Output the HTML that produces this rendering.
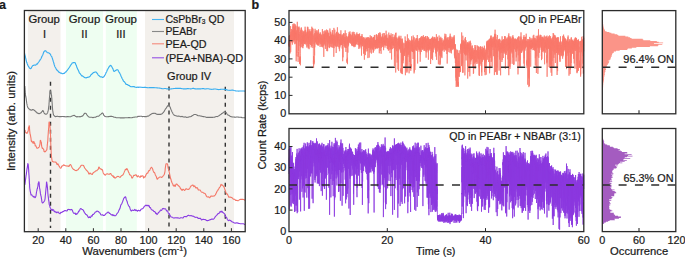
<!DOCTYPE html>
<html><head><meta charset="utf-8"><style>
html,body{margin:0;padding:0;background:#fff;width:685px;height:257px;overflow:hidden}
svg{display:block;font-family:"Liberation Sans", sans-serif;fill:#1a1a1a}
text{fill:#1a1a1a;stroke:#1a1a1a;stroke-width:0.22px}
</style></head><body>
<svg width="685" height="257" viewBox="0 0 685 257"><rect x="27.9" y="10.5" width="32.6" height="221" fill="#f3f0ec"/><rect x="66" y="10.5" width="37.1" height="221" fill="#eefef1"/><rect x="105.8" y="10.5" width="31" height="221" fill="#eefef1"/><rect x="145" y="10.5" width="89" height="221" fill="#f3f0ec"/><line x1="50.5" y1="81.8" x2="50.5" y2="228" stroke="#333" stroke-width="1.4" stroke-dasharray="4 4"/><line x1="169" y1="86.4" x2="169" y2="228" stroke="#333" stroke-width="1.4" stroke-dasharray="4 4"/><line x1="225.3" y1="86.8" x2="225.3" y2="228" stroke="#333" stroke-width="1.4" stroke-dasharray="4 4"/><path d="M24.6 53.9 24.6 53.8 24.6 53.9 24.7 54 24.7 54.1 24.7 53.9 24.8 54 24.8 54.2 24.9 54.7 25 55.1 25.1 55.6 25.2 56.1 25.4 56.7 25.5 57.4 25.7 58.1 25.9 58.9 26.1 59.8 26.3 60.8 26.5 61.6 26.7 62.3 26.9 62.8 27.1 63.4 27.3 64 27.6 64.7 27.8 65.3 28.1 65.8 28.3 66.2 28.6 66.6 28.9 67 29.1 67.4 29.4 67.8 29.7 68.1 29.9 68.4 30.2 68.5 30.5 68.6 30.7 68.6 31 68.5 31.3 68.1 31.5 67.5 31.8 67 32.1 66.5 32.3 66.2 32.6 65.8 32.8 65.6 33.1 65.4 33.3 65.3 33.5 65.3 33.7 65.3 33.9 65.3 34.1 65.2 34.3 65.1 34.5 65.1 34.7 65 34.9 65 35.1 65 35.3 65.1 35.5 65.2 35.7 65.2 35.9 64.9 36.2 64.5 36.4 64.1 36.7 64.1 36.9 64.1 37.2 64.1 37.5 63.8 37.7 63.3 38 62.9 38.3 62.5 38.5 62.2 38.8 61.9 39.1 61.5 39.3 61.1 39.6 60.7 39.9 60.3 40.1 59.8 40.4 59.4 40.6 59.1 40.9 58.8 41.2 58.3 41.4 57.8 41.7 57.1 41.9 56.5 42.1 56 42.4 55.6 42.6 55.2 42.8 54.7 43 54.2 43.2 53.6 43.4 53.1 43.6 52.5 43.8 52 44.1 51.7 44.3 51.4 44.5 51.2 44.7 51 45 50.8 45.2 50.7 45.4 50.8 45.7 51 45.9 51.1 46.2 51.3 46.4 51.6 46.6 51.8 46.9 52.1 47.1 52.4 47.3 52.6 47.5 52.7 47.7 52.7 47.9 52.7 48.1 52.7 48.3 52.7 48.5 52.7 48.7 52.8 48.8 53 49 53.1 49.2 53.2 49.4 53.3 49.6 53.5 49.8 53.6 50 53.8 50.2 54 50.4 54.3 50.6 54.7 50.8 55.1 50.9 55.5 51.1 55.8 51.3 56.1 51.6 56.4 51.8 56.8 52 57.2 52.2 57.9 52.5 58.7 52.7 59.5 53 60.3 53.2 61.2 53.5 62.1 53.8 63 54 64 54.3 64.9 54.6 65.7 54.8 66.4 55.1 67 55.4 67.4 55.6 67.8 55.9 68.2 56.1 68.8 56.4 69.4 56.7 69.9 56.9 70.1 57.2 70.1 57.4 70.3 57.7 70.6 57.9 71 58.2 71.3 58.5 71.7 58.7 72.1 59 72.3 59.2 72.4 59.5 72.4 59.8 72.5 60 72.7 60.3 72.9 60.5 73.1 60.8 73.1 61 73.1 61.3 73.1 61.6 73.2 61.8 73.5 62.1 73.6 62.3 73.7 62.6 73.7 62.8 73.7 63.1 73.6 63.4 73.5 63.6 73.4 63.9 73.4 64.1 73.4 64.4 73.3 64.7 73 64.9 72.6 65.2 72.3 65.4 72.1 65.7 72 66 71.9 66.2 71.6 66.5 71.2 66.7 70.9 67 70.6 67.2 70.3 67.5 70 67.8 69.6 68 69.2 68.3 68.8 68.5 68.4 68.8 68.1 69.1 67.8 69.3 67.4 69.6 67 69.8 66.6 70.1 66.1 70.4 65.6 70.6 65.2 70.8 64.9 71.1 64.7 71.3 64.4 71.6 64 71.8 63.5 72.1 63.1 72.3 63 72.5 63 72.8 62.9 73 62.8 73.2 62.6 73.4 62.5 73.6 62.5 73.8 62.6 73.9 62.6 74.1 62.6 74.2 62.6 74.4 62.5 74.5 62.5 74.7 62.5 74.8 62.5 75 62.7 75.1 62.9 75.3 63.2 75.5 63.6 75.7 64.1 75.8 64.6 76 64.9 76.2 65.2 76.4 65.6 76.6 66.2 76.8 67 77 67.6 77.2 68.1 77.4 68.5 77.6 68.9 77.8 69.3 78 69.7 78.2 70.1 78.4 70.5 78.6 70.9 78.8 71.3 79 71.9 79.2 72.5 79.4 72.9 79.6 73.2 79.8 73.3 80 73.4 80.2 73.7 80.4 74 80.6 74.3 80.7 74.5 80.9 74.7 81.1 75 81.3 75.3 81.5 75.6 81.7 75.8 81.9 75.8 82.1 75.7 82.3 75.7 82.5 75.9 82.8 76.2 83 76.4 83.3 76.6 83.5 76.8 83.8 76.9 84.1 77.2 84.3 77.4 84.6 77.5 84.9 77.6 85.1 77.7 85.4 77.7 85.7 77.8 85.9 77.9 86.2 77.9 86.4 77.8 86.7 77.6 86.9 77.5 87.2 77.4 87.5 77.5 87.7 77.4 88 77.3 88.2 77.2 88.5 77.1 88.8 77.1 89 77 89.3 76.9 89.6 76.8 89.8 76.5 90.1 76.2 90.4 75.8 90.6 75.3 90.9 74.9 91.2 74.6 91.4 74.4 91.7 74.2 92 74 92.2 73.7 92.5 73.5 92.8 73.3 93 73 93.3 72.8 93.6 72.6 93.8 72.5 94.1 72.4 94.3 72.3 94.6 72.2 94.8 72.2 95 72.1 95.2 72 95.4 72 95.6 71.9 95.8 72 96 72 96.2 72.2 96.4 72.5 96.5 72.8 96.7 72.9 96.9 73 97.1 73.2 97.3 73.4 97.5 73.7 97.7 74 97.8 74.3 98 74.7 98.2 75 98.4 75.2 98.6 75.4 98.8 75.5 99 75.7 99.2 75.8 99.4 76 99.6 76.2 99.9 76.4 100.1 76.6 100.4 76.7 100.7 76.9 100.9 77 101.2 77 101.5 76.9 101.8 76.8 102 77 102.3 77.3 102.5 77.5 102.7 77.5 102.9 77.3 103.2 77.2 103.4 77.1 103.6 77 103.8 76.8 103.9 76.6 104.1 76.4 104.3 76.2 104.5 75.9 104.7 75.5 104.9 75.1 105.1 74.8 105.3 74.5 105.5 74.1 105.7 73.7 105.8 73.2 106 72.7 106.2 72.4 106.4 72.2 106.6 71.8 106.8 71.3 107 70.7 107.2 70.2 107.4 69.7 107.7 69.3 107.9 68.9 108.1 68.5 108.4 68 108.6 67.6 108.9 67.2 109.1 66.8 109.4 66.4 109.6 66.1 109.8 66 110 65.8 110.2 65.6 110.4 65.5 110.5 65.4 110.7 65.4 110.8 65.5 111 65.6 111.1 65.8 111.3 66 111.4 66.2 111.6 66.4 111.7 66.6 111.9 66.8 112.1 67.2 112.2 67.6 112.4 68 112.6 68.3 112.8 68.6 113 69 113.2 69.6 113.4 70.3 113.6 70.8 113.8 71.2 114 71.3 114.2 71.4 114.4 71.3 114.7 71.2 114.9 71 115.2 70.8 115.5 70.6 115.8 70.4 116 70.2 116.3 70 116.6 69.9 116.8 69.8 117.1 69.7 117.3 69.7 117.5 69.7 117.7 69.8 117.9 69.9 118.1 70.3 118.3 70.7 118.5 71.2 118.7 71.5 118.9 71.9 119 72.2 119.2 72.4 119.4 72.6 119.6 72.9 119.8 73.2 120 73.7 120.2 74.1 120.4 74.5 120.6 74.8 120.7 75.2 120.9 75.7 121.1 76.2 121.3 76.7 121.6 77.2 121.8 77.7 122 78.2 122.2 78.6 122.5 79 122.7 79.4 123 80 123.2 80.6 123.5 81.1 123.8 81.4 124 81.6 124.3 81.8 124.6 82 124.8 82.3 125.1 82.7 125.4 83.1 125.6 83.7 125.9 84.1 126.1 84.3 126.4 84.3 126.6 84.4 126.9 84.5 127.2 84.5 127.4 84.6 127.7 84.8 127.9 85.1 128.2 85.3 128.5 85.4 128.7 85.3 129 85.3 129.2 85.5 129.5 85.8 129.8 86 130 86.2 130.3 86.4 130.5 86.5 130.8 86.6 131 86.6 131.3 86.7 131.6 86.7 131.8 86.7 132.1 86.7 132.3 86.7 132.6 86.6 132.9 86.5 133.1 86.6 133.4 86.6 133.6 86.7 133.9 86.7 134.1 86.6 134.4 86.7 134.7 86.8 134.9 87.1 135.2 87.2 135.5 87.2 135.7 87.2 136 87.2 136.3 87.3 136.5 87.4 136.8 87.5 137 87.4 137.3 87.3 137.5 87.2 137.7 87.1 137.9 87.1 138.1 87 138.2 87.1 138.4 87.2 138.5 87.3 138.7 87.3 138.8 87.3 139 87.3 139.3 87.2 139.5 87.2 139.8 87.1 140.1 87.1 140.4 87.2 140.8 87.2 141.1 87.2 141.5 87.3 141.9 87.4 142.3 87.4 142.8 87.5 143.3 87.5 143.8 87.4 144.4 87.3 145 87.3 145.7 87.4 146.3 87.5 147.1 87.6 147.8 87.7 148.6 87.7 149.4 87.6 150.3 87.6 151.2 87.6 152.1 87.5 153 87.6 154 87.6 155 87.7 156.1 87.8 157.1 87.9 158.1 88 158.7 88 159.2 88 159.7 88.1 160.2 88.2 160.8 88.3 161.3 88.5 161.9 88.6 162.5 88.7 163.1 88.7 163.7 88.7 164.3 88.5 164.9 88.5 165.6 88.5 166.3 88.7 167 88.9 167.6 88.9 168.3 88.9 169 88.9 169.8 89 170.5 89 171.3 88.9 172.1 88.8 172.9 88.7 173.7 88.5 174.3 88.5 174.8 88.5 175.4 88.4 176 88.4 176.5 88.4 177.1 88.4 177.7 88.4 178.3 88.4 178.8 88.4 179.4 88.4 180 88.4 180.6 88.4 181.2 88.5 181.8 88.6 182.4 88.7 183 88.8 183.6 88.8 184.2 88.9 184.8 88.9 185.4 88.9 186 88.8 186.6 88.8 187.2 88.6 187.7 88.6 188.3 88.6 188.9 88.7 189.5 88.7 190.1 88.8 190.7 88.8 191.3 88.8 191.8 88.7 192.4 88.5 193 88.3 193.6 88.4 194.2 88.6 194.8 88.8 195.3 88.8 195.9 88.9 196.5 89 197.1 88.9 197.7 88.9 198.3 88.9 198.9 88.9 199.5 88.9 200.1 88.9 200.7 88.8 201.2 88.8 201.8 88.7 202.4 88.6 203 88.6 203.5 88.5 204.1 88.7 204.6 88.9 205.3 89 206 88.9 206.8 88.8 207.6 88.7 208.4 88.8 209.2 89 210 89.1 210.7 89.2 211.4 89.3 212.1 89.3 212.8 89.2 213.6 89.1 214.3 89 214.9 89 215.6 89 216.2 89.1 216.9 89.2 217.5 89.4 218.2 89.5 218.8 89.6 219.4 89.5 219.9 89.5 220.5 89.4 221.1 89.3 221.7 89.2 222.3 89.2 222.8 89.2 223.4 89.2 223.9 89.3 224.4 89.3 225 89.4 225.9 89.6 226.9 89.9 227.9 90.1 228.7 90.2 229.5 90.3 230.3 90.3 231.1 90.2 231.8 90.1 232.6 90 233.4 90.2 234.2 90.5 235 90.7 235.9 90.9 236.8 91 237.7 91 238.7 91.1 239.7 91 240.6 91 241.5 91 242.4 91 243.2 91 243.9 91 244.6 91.1 245 91.2" fill="none" stroke="#3aaef0" stroke-width="1.15" stroke-linejoin="round"/><path d="M24.8 86 24.8 86.4 24.9 86.9 24.9 87.6 25 88.3 25 89.2 25.1 90.1 25.2 91.1 25.2 92.2 25.3 93.2 25.4 93.9 25.4 94.6 25.5 95.1 25.6 95.5 25.6 95.8 25.6 96.1 25.7 96.3 25.7 96.6 25.8 96.8 25.8 96.9 25.9 96.9 25.9 97 26 97.3 26 97.7 26.1 98.2 26.2 98.7 26.3 99.3 26.3 99.9 26.4 100.5 26.5 101.2 26.6 101.9 26.7 102.6 26.8 103.4 27 104.1 27.1 104.8 27.2 105.4 27.3 105.9 27.4 106.3 27.5 106.7 27.7 107 27.8 107.3 27.9 107.7 28.1 107.9 28.2 108.1 28.4 108.2 28.5 108.3 28.7 108.5 28.8 108.7 29 108.9 29.2 109 29.4 109 29.5 109.2 29.7 109.4 29.9 109.7 30.1 109.9 30.3 110 30.5 109.9 30.7 109.9 30.9 109.9 31.1 110 31.3 110.1 31.5 110.1 31.6 110.1 31.8 110.1 31.9 110 32.1 110 32.2 110 32.3 109.8 32.5 109.6 32.6 109.5 32.8 109.5 32.9 109.6 33.1 109.7 33.3 109.7 33.5 109.7 33.7 109.8 33.8 109.9 34 110.1 34.2 110.3 34.5 110.5 34.7 110.7 34.8 110.8 35 110.9 35.2 111 35.4 111.1 35.6 111.3 35.7 111.5 35.9 111.7 36 111.9 36.2 112 36.3 112.1 36.4 112.2 36.6 112.3 36.7 112.4 36.9 112.7 37 112.9 37.2 113.1 37.4 113.2 37.6 113.1 37.8 113.1 37.9 113.2 38.1 113.3 38.4 113.5 38.6 113.6 38.8 113.7 38.9 113.7 39.1 113.7 39.3 113.7 39.5 113.6 39.7 113.5 39.8 113.4 40 113.4 40.1 113.3 40.3 113.2 40.4 113.2 40.6 113 40.7 112.9 40.9 112.8 41 112.7 41.2 112.7 41.3 112.5 41.4 112.3 41.6 112 41.7 111.7 41.9 111.6 42 111.5 42.2 111.4 42.3 111.2 42.5 110.9 42.6 110.7 42.7 110.6 42.9 110.6 43 110.6 43.1 110.7 43.2 110.9 43.3 111.2 43.4 111.3 43.5 111.5 43.6 111.7 43.7 111.9 43.8 112.2 43.9 112.4 44 112.7 44.1 112.9 44.2 113.1 44.3 113.3 44.5 113.5 44.6 113.7 44.7 113.7 44.9 113.8 45 113.8 45.2 113.9 45.3 114.1 45.5 114.2 45.6 114.2 45.8 114.2 45.9 114.2 46.1 114.2 46.2 114.1 46.4 114.1 46.5 114 46.7 114 46.8 113.9 47 113.7 47.1 113.5 47.3 113.2 47.4 113 47.6 112.7 47.7 112.4 47.8 112 47.9 111.6 48 111.2 48.1 110.8 48.2 110.4 48.3 109.9 48.4 109.4 48.5 108.7 48.6 108.1 48.6 107.5 48.7 106.8 48.8 106.2 48.9 105.5 49 104.7 49 103.9 49.1 102.9 49.2 101.8 49.2 100.8 49.3 99.9 49.4 99.1 49.4 98.3 49.5 97.5 49.5 96.9 49.6 96.2 49.7 95.6 49.7 95 49.8 94.4 49.8 93.7 49.9 93.1 49.9 92.5 49.9 92.1 50 91.7 50 91.4 50.1 91.1 50.1 91 50.2 90.9 50.3 90.7 50.4 90.7 50.5 90.8 50.5 91 50.6 91.2 50.7 91.5 50.7 91.7 50.8 92 50.9 92.3 50.9 92.7 51 93.1 51.1 93.4 51.1 93.6 51.2 93.8 51.2 94 51.3 94.3 51.3 94.5 51.4 94.7 51.4 94.8 51.5 95.2 51.6 95.7 51.6 96.4 51.7 97.2 51.8 98.1 51.9 99.1 51.9 100.2 52 101.4 52.1 102.6 52.2 103.9 52.3 105.3 52.4 106.8 52.5 108.2 52.6 109.4 52.7 110.5 52.8 111.3 52.9 112 53 112.4 53.1 112.9 53.2 113.5 53.3 114 53.4 114.5 53.5 114.8 53.6 114.9 53.7 115.1 53.9 115.3 54.1 115.5 54.3 115.8 54.5 116.1 54.8 116.3 55.1 116.5 55.3 116.6 55.6 116.6 56 116.6 56.3 116.5 56.6 116.4 57 116.3 57.4 116.3 57.8 116.4 58.2 116.5 58.6 116.5 59.1 116.6 59.6 116.6 60.1 116.6 60.6 116.6 61.2 116.6 61.7 116.5 62.2 116.5 62.8 116.5 63.3 116.5 63.9 116.6 64.4 116.6 64.9 116.7 65.5 116.8 66 116.9 66.6 116.8 67.1 116.6 67.7 116.6 68.2 116.6 68.8 116.7 69.3 116.8 69.7 116.8 70.2 116.8 70.6 116.7 71 116.5 71.3 116.3 71.6 116.2 71.9 116.1 72.1 116 72.3 115.9 72.6 115.8 72.8 115.7 73 115.6 73.2 115.6 73.5 115.5 73.7 115.4 74 115.3 74.2 115.3 74.5 115.4 74.8 115.6 75 115.9 75.3 116.2 75.6 116.4 75.8 116.4 76.1 116.5 76.4 116.7 76.6 116.9 76.9 116.9 77.2 116.9 77.4 116.7 77.7 116.6 78 116.7 78.2 116.7 78.5 116.8 78.8 116.7 79 116.7 79.3 116.6 79.5 116.7 79.8 116.9 80 116.9 80.2 116.9 80.4 116.7 80.6 116.6 80.8 116.5 81 116.5 81.1 116.4 81.3 116.4 81.5 116.4 81.7 116.3 81.9 116.3 82.1 116.3 82.3 116.2 82.5 116 82.8 115.8 83.1 115.4 83.4 115 83.6 114.6 83.9 114.2 84.2 113.8 84.5 113.5 84.8 113.2 85.1 113.2 85.3 113.2 85.6 113.3 85.8 113.4 86 113.5 86.3 113.6 86.4 113.9 86.6 114.3 86.8 114.7 87 115 87.2 115.3 87.4 115.6 87.7 115.8 87.9 116.1 88.2 116.4 88.5 116.7 88.8 116.9 89.2 117.1 89.5 117.2 89.9 117.3 90.3 117.3 90.7 117.2 91.1 117.2 91.5 117.2 91.9 117.3 92.4 117.5 92.8 117.6 93.3 117.6 93.7 117.4 94.2 117.3 94.7 117.2 95.3 117.2 95.8 117.1 96.3 116.8 96.8 116.5 97.3 116.3 97.8 116.2 98.3 116.3 98.7 116.2 99.1 115.8 99.5 115.4 99.8 115 100.2 114.8 100.5 114.6 100.8 114.4 101.1 114.1 101.4 113.7 101.7 113.4 102 113.2 102.2 113 102.5 113 102.7 113.1 102.9 113.3 103.1 113.6 103.3 114 103.5 114.5 103.6 114.9 103.8 115.2 104 115.5 104.2 115.7 104.5 116 104.8 116.2 105.1 116.4 105.5 116.6 106 116.8 106.5 116.8 107.1 116.8 107.6 116.7 108.2 116.6 108.8 116.6 109.4 116.5 110 116.4 110.5 116.4 111.1 116.4 111.5 116.4 111.9 116.4 112.2 116.5 112.5 116.5 112.8 116.6 113 116.7 113.2 116.8 113.4 116.9 113.7 117 113.9 117.1 114.3 117.2 114.6 117.2 115 117.3 115.5 117.4 116 117.6 116.5 117.7 117.1 117.7 117.7 117.7 118.3 117.7 118.9 117.7 119.5 117.8 120.2 117.9 120.8 117.9 121.4 117.9 122 117.8 122.6 117.9 123.2 117.9 123.8 117.9 124.3 117.9 124.9 117.8 125.5 117.7 126.1 117.8 126.7 117.8 127.2 117.8 127.8 117.7 128.4 117.6 129 117.6 129.6 117.6 130.2 117.7 130.8 117.8 131.4 117.7 132.1 117.6 132.7 117.5 133.3 117.3 133.9 117.2 134.5 117.1 135 117 135.5 117 136 117 136.4 117 136.8 117 137.2 117 137.5 116.8 137.8 116.5 138.1 116.3 138.4 116.3 138.7 116.4 139 116.5 139.3 116.4 139.7 116.3 140 116.2 140.4 116.2 140.8 116.2 141.2 116.2 141.6 116.3 142 116.5 142.4 116.6 142.8 116.6 143.2 116.5 143.6 116.5 144 116.5 144.3 116.6 144.7 116.6 145 116.6 145.4 116.6 145.7 116.6 146 116.7 146.3 116.7 146.6 116.7 146.8 116.5 147.1 116.3 147.4 116.2 147.7 116.1 147.9 116.2 148.2 116.2 148.5 116.1 148.7 115.9 149 115.7 149.2 115.6 149.5 115.4 149.7 115.2 149.9 115 150.2 114.8 150.4 114.7 150.6 114.5 150.9 114.4 151.1 114.2 151.3 114.1 151.6 113.9 151.8 113.7 152 113.6 152.2 113.6 152.5 113.5 152.7 113.4 152.9 113.3 153.1 113.2 153.4 113.3 153.6 113.4 153.8 113.4 154 113.4 154.2 113.3 154.4 113.2 154.6 113.2 154.8 113.3 155 113.3 155.2 113.4 155.4 113.4 155.6 113.5 155.9 113.7 156.1 113.9 156.3 114.1 156.5 114.2 156.8 114.2 157 114.3 157.3 114.3 157.5 114.4 157.8 114.4 158 114.4 158.3 114.4 158.5 114.3 158.8 114.3 159.1 114.4 159.3 114.4 159.5 114.4 159.8 114.4 160 114.4 160.3 114.4 160.5 114.4 160.8 114.4 161 114.3 161.2 114.1 161.5 114 161.7 113.9 162 113.8 162.2 113.7 162.4 113.4 162.7 113.1 162.9 112.8 163.2 112.5 163.4 112.3 163.7 112 163.9 111.7 164.2 111.3 164.4 110.9 164.6 110.5 164.9 110 165.1 109.6 165.3 109.2 165.5 108.9 165.7 108.6 166 108.4 166.2 108.2 166.4 108 166.5 107.7 166.7 107.3 166.9 106.9 167.1 106.7 167.2 106.5 167.4 106.3 167.5 106.1 167.7 105.9 167.8 105.7 167.9 105.6 168 105.5 168.1 105.5 168.2 105.4 168.3 105.3 168.4 105.3 168.5 105.3 168.6 105.3 168.7 105.3 168.8 105.2 168.9 105.3 169 105.4 169.1 105.5 169.2 105.7 169.3 105.7 169.4 105.8 169.5 105.9 169.6 106.1 169.7 106.3 169.8 106.6 169.9 106.8 170 107 170.2 107.3 170.3 107.7 170.4 108.1 170.6 108.5 170.7 108.9 170.9 109.2 171 109.5 171.2 109.8 171.3 110.2 171.5 110.6 171.7 111 171.8 111.4 172 111.8 172.2 112.1 172.4 112.5 172.6 112.8 172.8 113.3 173 113.7 173.2 114 173.4 114.3 173.7 114.6 173.9 114.8 174.1 115 174.4 115.3 174.7 115.4 174.9 115.5 175.2 115.6 175.5 115.7 175.8 115.8 176.1 115.8 176.4 115.9 176.7 116 177.1 116.1 177.4 116.2 177.7 116.2 178.1 116.2 178.5 116.1 178.8 116.1 179.2 116.2 179.6 116.3 180 116.4 180.4 116.6 180.8 116.7 181.2 116.6 181.6 116.5 182 116.4 182.4 116.5 182.8 116.7 183.2 116.9 183.6 117 184 117 184.3 117.1 184.7 117 185.1 116.9 185.5 116.9 185.9 117.1 186.3 117.2 186.7 117.4 187.1 117.4 187.5 117.3 187.9 117.3 188.3 117.2 188.7 117 189.1 116.9 189.5 116.8 189.9 116.8 190.3 116.7 190.7 116.6 191 116.5 191.4 116.4 191.7 116.1 192.1 115.8 192.4 115.5 192.7 115.4 193 115.3 193.3 115.1 193.5 114.9 193.8 114.7 194.1 114.6 194.4 114.5 194.6 114.5 194.9 114.5 195.2 114.5 195.4 114.5 195.7 114.5 195.9 114.6 196.2 114.7 196.4 114.9 196.7 114.9 196.9 115 197.2 115.1 197.4 115.3 197.6 115.5 197.8 115.6 198 115.6 198.1 115.7 198.2 115.7 198.3 115.7 198.4 115.8 198.5 115.8 198.6 115.8 198.7 115.7 198.9 115.7 199.1 115.7 199.4 115.7 199.7 115.8 200.1 115.9 200.6 116 201.1 116.1 201.7 116.3 202.3 116.4 202.9 116.6 203.5 116.6 204.2 116.7 204.8 116.8 205.5 117 206.1 117.2 206.7 117.4 207.3 117.4 207.9 117.4 208.5 117.3 209.1 117.4 209.7 117.4 210.3 117.4 211 117.4 211.5 117.4 212.1 117.4 212.7 117.4 213.2 117.3 213.7 117.3 214.2 117.2 214.6 117.1 215 117 215.5 116.8 215.8 116.6 216.2 116.5 216.6 116.5 216.9 116.5 217.3 116.6 217.6 116.5 218 116.3 218.3 116.1 218.6 115.9 218.9 115.7 219.3 115.5 219.6 115.3 219.8 115.1 220.1 114.9 220.4 114.7 220.7 114.6 221 114.3 221.2 114.1 221.5 113.7 221.8 113.5 222.1 113.4 222.4 113.3 222.7 113.2 222.9 113 223.2 112.7 223.5 112.4 223.8 112.1 224.1 111.9 224.3 111.8 224.6 111.7 224.9 111.7 225.1 111.8 225.3 111.9 225.6 112.2 225.8 112.4 226 112.5 226.2 112.7 226.4 112.9 226.6 113.2 226.8 113.6 227 114 227.2 114.3 227.5 114.6 227.7 114.8 227.9 115 228.2 115.1 228.5 115.2 228.7 115.3 229 115.5 229.2 115.7 229.5 115.8 229.8 116 230.1 116.2 230.5 116.4 230.8 116.5 231.2 116.7 231.6 116.8 232 116.9 232.4 117 232.9 117 233.3 117 233.8 117 234.3 117.1 234.8 117.1 235.3 117.2 235.9 117.1 236.4 117 237 117 237.6 117 238.3 117.1 239 117.2 239.8 117.3 240.6 117.3 241.4 117.4 242.1 117.6 242.9 117.7 243.5 117.8 244.1 117.8 244.6 117.8 245 117.8" fill="none" stroke="#777" stroke-width="1.1" stroke-linejoin="round"/><path d="M24.6 131.6 24.6 131.8 24.6 131.9 24.7 131.9 24.7 131.5 24.7 130.9 24.8 130.5 24.8 130.3 24.8 130.2 24.9 130.3 25 130.4 25.1 130.6 25.2 130.9 25.3 131.4 25.4 131.7 25.6 132 25.7 132.3 25.9 132.5 26 132.8 26.2 133.1 26.3 133.2 26.4 133.2 26.6 133 26.7 132.9 26.8 133 26.9 133.2 27 133.3 27.1 133.3 27.2 133.2 27.3 133 27.4 132.9 27.5 132.8 27.6 132.5 27.7 132.1 27.8 131.5 27.9 131.1 28 131.1 28.1 131.2 28.2 131 28.3 130 28.4 128.6 28.5 127.6 28.5 127.2 28.6 127.2 28.7 127.1 28.8 126.9 28.9 126.6 29 126.4 29.1 126 29.2 125.7 29.3 125.7 29.4 126.4 29.5 127.4 29.5 128.5 29.6 129.6 29.7 130.7 29.8 131.7 29.9 132.6 30 133.5 30.1 134.1 30.2 134.6 30.3 134.8 30.4 135.1 30.5 135.6 30.6 136.2 30.7 136.8 30.8 137.3 30.9 137.8 31 138.5 31.1 139.4 31.2 140.5 31.3 141.2 31.4 141.3 31.5 141 31.7 140.9 31.8 141.2 32 141.8 32.1 142.2 32.2 142.1 32.4 141.9 32.5 141.8 32.7 142 32.8 142.4 32.9 142.7 33 143.1 33.1 143.4 33.2 143.4 33.3 142.9 33.4 142.1 33.5 141.6 33.6 141.7 33.7 142.2 33.8 142.5 33.9 142.3 34 142 34.1 141.9 34.2 142.2 34.3 142.7 34.4 143.1 34.5 143.3 34.5 143.5 34.6 143.6 34.7 143.6 34.8 143.5 34.9 143.7 35 144.3 35.1 145.1 35.2 145.7 35.3 145.9 35.4 145.9 35.5 145.8 35.7 145.8 35.8 145.9 35.9 145.9 36.1 146.1 36.2 146.4 36.3 146.7 36.5 147.2 36.6 147.7 36.8 148.1 37 148.2 37.2 148.3 37.3 148.3 37.5 148.2 37.7 148.1 38 148 38.2 147.9 38.4 147.6 38.6 147.5 38.7 147.4 38.9 147.3 39.1 147.1 39.3 146.7 39.4 146 39.6 145.5 39.7 145.1 39.8 144.7 40 144.1 40.1 142.9 40.2 141.5 40.3 140.5 40.5 140.3 40.6 140.5 40.7 140.9 40.8 141.1 40.9 141.4 41 141.7 41.1 141.8 41.2 141.8 41.3 142.2 41.4 143.2 41.5 144.6 41.6 145.7 41.7 146.3 41.8 146.6 41.9 147 42 147.5 42.2 148 42.3 148.4 42.5 148.4 42.7 148.2 42.9 148.2 43 148.4 43.2 148.8 43.4 149.1 43.5 149.3 43.7 149.5 43.8 149.8 43.9 150.4 44 151.1 44.1 151.6 44.2 151.7 44.3 151.6 44.4 151.5 44.5 151.5 44.6 151.5 44.7 151.6 44.8 151.6 44.9 151.7 45 151.8 45.1 151.7 45.3 151.6 45.4 151.5 45.6 151.3 45.8 151.1 45.9 150.9 46.1 150.6 46.3 150.4 46.4 150.2 46.6 150.1 46.7 150 46.9 149.5 47 148.2 47.2 146.4 47.3 144.7 47.5 143.4 47.6 142.2 47.8 140.7 47.9 138.6 48 136.2 48.2 134.1 48.3 132.4 48.4 131 48.5 129.8 48.6 128.7 48.7 127.9 48.8 127 48.8 125.8 48.9 124.6 48.9 123.6 49 122.9 49 122.4 49.1 122.1 49.2 122 49.2 122.2 49.3 122.4 49.4 122.5 49.5 122.6 49.5 122.8 49.6 123.1 49.7 123.6 49.8 124.2 49.9 124.8 49.9 125.5 50 126.5 50.1 127.8 50.2 129.3 50.3 130.9 50.4 132.9 50.5 135 50.6 137.2 50.7 139.6 50.7 142 50.8 144.6 50.9 147.4 51.1 150.4 51.2 152.9 51.3 154.7 51.4 156.1 51.6 157.4 51.8 158.9 52 160.2 52.2 161.2 52.4 161.6 52.6 161.5 52.8 161.4 53 161.6 53.3 161.8 53.5 161.9 53.8 162 54 162 54.3 162 54.6 162 54.9 162 55.2 162.1 55.5 162.1 55.8 162.1 56.1 162.3 56.4 163 56.8 164 57.1 164.6 57.4 164.5 57.6 164 57.9 163.8 58.1 164.2 58.3 164.8 58.5 165.3 58.7 165.6 58.9 165.8 59.1 166 59.2 166.3 59.4 166.5 59.6 166.8 59.8 167.2 60 167.6 60.2 167.9 60.4 168.1 60.7 168.2 61 168.1 61.3 167.5 61.6 166.6 61.9 166 62.2 165.9 62.5 165.9 62.8 165.9 63.1 165.6 63.4 165.1 63.7 164.8 64 164.9 64.3 165.2 64.6 165.5 64.9 165.6 65.2 165.7 65.5 165.8 65.7 165.8 66 165.9 66.3 165.9 66.6 166 66.9 166.1 67.2 166.2 67.5 166.1 67.8 166 68 165.9 68.3 166.1 68.6 166.4 68.9 166.5 69.2 166.1 69.4 165.6 69.7 165.1 70 164.8 70.4 164.6 70.7 164.7 71.1 165.3 71.4 166.2 71.8 167 72.2 167.8 72.6 168.4 73.1 169 73.5 169.4 73.9 169.6 74.3 169.8 74.7 170 75 170.2 75.4 170.4 75.7 170.5 76.1 170.6 76.4 170.6 76.7 170.5 76.9 170.2 77.2 170 77.5 169.9 77.8 169.9 78.1 169.7 78.3 169.4 78.6 168.9 78.9 168.5 79.2 168.2 79.5 167.9 79.8 167.6 80.1 167.1 80.4 166.5 80.7 166.1 81 165.7 81.2 165.5 81.5 165.3 81.8 165.2 82.1 165.2 82.3 165.2 82.5 165.2 82.7 165.2 82.9 165.2 83.1 165.3 83.3 165.3 83.5 165.5 83.7 165.8 83.9 166.3 84 166.7 84.3 167.1 84.5 167.6 84.7 168 85 168.4 85.2 168.6 85.5 169 85.8 169.4 86.1 169.8 86.4 170.2 86.7 170.5 87 170.7 87.3 171 87.6 171.3 87.9 171.8 88.2 172.3 88.5 173 88.8 173.7 89.1 174.1 89.4 173.9 89.7 173.3 90 173 90.3 173.2 90.6 173.5 90.9 173.9 91.2 174 91.5 174.1 91.7 174.1 91.9 174.3 92.1 174.5 92.3 174.5 92.5 174.1 92.7 173.5 92.9 173.1 93 172.9 93.2 172.9 93.4 172.8 93.6 172.6 93.8 172.4 94 172.2 94.3 172.1 94.5 171.9 94.8 171.8 95.1 171.5 95.4 171.1 95.8 170.9 96.1 170.8 96.4 170.8 96.7 170.8 97 170.5 97.2 170.1 97.5 169.8 97.7 169.7 98 169.6 98.2 169.3 98.4 168.7 98.5 167.9 98.7 167.4 98.9 167.1 99.1 167.1 99.2 167.2 99.4 167.5 99.6 168 99.8 168.4 100 168.7 100.2 168.9 100.4 169 100.6 169 100.8 168.9 101 168.9 101.2 169.1 101.4 169.5 101.6 169.8 101.8 169.7 102 169.5 102.2 169.5 102.4 169.9 102.6 170.4 102.8 171.1 102.9 171.7 103.1 172.4 103.3 173 103.5 173.4 103.6 173.6 103.8 173.8 104 174 104.3 174.3 104.5 174.5 104.8 174.8 105 175.1 105.3 175.2 105.6 174.9 105.9 174.5 106.2 174.1 106.6 174 106.9 173.9 107.2 173.9 107.5 173.9 107.7 173.9 108 174 108.2 174.1 108.5 174.2 108.7 174.3 108.9 174.3 109.1 174.2 109.3 174.1 109.5 174.1 109.6 174.1 109.8 174.1 110 173.9 110.2 173.7 110.4 173.6 110.6 173.6 110.8 173.7 111 173.9 111.2 174.3 111.4 174.7 111.6 175 111.7 175.2 111.9 175.3 112.1 175.4 112.3 175.7 112.5 176.1 112.7 176.3 112.9 176.2 113.1 175.9 113.2 175.8 113.4 176.3 113.6 177.1 113.8 177.5 114 177.4 114.1 177 114.3 176.8 114.5 177.2 114.8 177.8 115 178.2 115.3 178.1 115.5 177.9 115.8 177.7 116.1 177.4 116.4 177.2 116.7 176.9 117 176.7 117.3 176.5 117.6 176.4 117.9 176.4 118.2 176.4 118.5 176.5 118.8 176.6 119.1 176.9 119.4 177.1 119.7 177.3 120 177.3 120.2 177.3 120.5 177 120.8 176.5 121.1 176.1 121.4 175.8 121.7 175.6 122 175.4 122.3 175.3 122.6 175.2 122.9 174.9 123.2 174.4 123.5 173.8 123.8 173.1 124.1 172.4 124.4 171.6 124.7 170.9 125 170.3 125.2 169.8 125.5 169.4 125.7 169.4 126 169.6 126.2 169.6 126.4 169.3 126.6 168.8 126.8 168.6 127 168.7 127.1 169.1 127.3 169.5 127.5 169.7 127.7 170 127.9 170.3 128.1 170.9 128.3 171.6 128.5 172.1 128.7 172.4 128.9 172.6 129.1 172.8 129.2 173.4 129.4 174.1 129.6 174.6 129.8 174.8 130 174.9 130.2 175 130.4 175.1 130.6 175.2 130.8 175.4 131 175.6 131.2 175.8 131.3 176.2 131.5 176.8 131.7 177.5 131.9 178 132.1 178.1 132.3 178 132.5 177.8 132.7 177.5 132.9 177.1 133.1 176.7 133.3 176.3 133.5 175.8 133.7 175.4 133.9 175.4 134.1 175.4 134.3 175.5 134.5 175.4 134.7 175.4 134.9 175.3 135.1 175.2 135.3 175 135.5 174.9 135.7 174.8 135.9 174.7 136.1 174.8 136.3 175.1 136.5 175.6 136.7 176 136.9 176.3 137.1 176.6 137.3 176.8 137.5 176.6 137.7 176.2 137.9 175.9 138.1 175.8 138.3 175.8 138.5 175.9 138.7 176.2 138.9 176.5 139.1 176.8 139.3 176.9 139.5 177 139.7 177.1 139.9 177.2 140.1 177.3 140.3 177.3 140.5 176.8 140.7 176.2 140.9 175.8 141 175.9 141.2 176.2 141.4 176.4 141.6 176.3 141.8 176.2 142 176 142.2 176 142.4 175.9 142.5 175.9 142.7 175.9 142.9 175.9 143.1 176.1 143.3 176.7 143.4 177.5 143.6 178 143.8 177.8 144.1 177.3 144.3 176.9 144.6 176.9 144.8 177.1 145.1 177 145.4 176.4 145.7 175.5 146 174.8 146.3 174.2 146.6 173.7 146.9 173.3 147.2 173.2 147.5 173.2 147.8 173 148.1 172.3 148.4 171.4 148.7 170.8 149 170.6 149.3 170.7 149.6 170.5 149.9 169.9 150.2 169.1 150.5 168.5 150.8 168 151 167.6 151.3 167.3 151.5 167.3 151.7 167.4 152 167.6 152.1 167.9 152.3 168.3 152.5 168.8 152.7 169.3 152.9 169.8 153 170.4 153.3 171 153.5 171.7 153.7 172.2 154 172.3 154.2 172.3 154.5 172.5 154.8 173.2 155.1 174.1 155.4 175 155.7 175.6 156 176 156.3 176.6 156.6 177.6 156.9 178.6 157.2 179.3 157.5 179.1 157.8 178.6 158.1 178.1 158.4 177.9 158.7 177.8 158.9 177.6 159.2 177.4 159.5 177.2 159.8 177.1 160.1 177 160.4 177 160.7 177 161 177.1 161.3 177.3 161.6 177.4 161.9 177.3 162.2 177 162.5 176.7 162.8 176.4 163.1 176 163.4 175.6 163.7 175.3 163.9 175 164.2 174.6 164.4 173.9 164.7 173 164.9 171.9 165.1 170.5 165.2 168.9 165.4 167.4 165.6 166.1 165.8 164.9 166 164 166.1 163.7 166.3 163.7 166.5 163.8 166.7 163.8 166.9 163.8 167.1 163.9 167.2 163.9 167.4 163.9 167.6 164.3 167.8 165.3 167.9 166.7 168.1 167.8 168.3 168.6 168.5 169.1 168.7 169.8 168.9 170.6 169.1 171.5 169.3 172.4 169.5 173.4 169.7 174.4 169.9 175.4 170.1 176.3 170.3 177.2 170.5 178.1 170.7 178.8 171 179.5 171.2 180.2 171.4 181 171.7 181.8 171.9 182.5 172.2 183 172.4 183.5 172.7 184 173 184.7 173.2 185.6 173.5 186 173.8 185.9 174 185.4 174.3 185.1 174.6 185.5 174.8 186.2 175.1 186.5 175.4 186 175.6 185.2 175.9 184.5 176.2 184.2 176.4 184 176.7 184 177 184.2 177.2 184.5 177.5 184.8 177.8 185.1 178 185.3 178.3 185.6 178.5 185.8 178.8 186 179.1 186.3 179.3 186.5 179.6 186.7 179.8 187 180.1 187.6 180.3 188.3 180.6 188.9 180.8 189 181.1 189.1 181.3 189.2 181.6 189.6 181.8 190.2 182.1 190.5 182.3 190.2 182.6 189.6 182.8 189.2 183.1 189.2 183.4 189.3 183.7 189.6 184 189.9 184.4 190.3 184.7 190.5 185.1 190 185.5 189.3 185.9 188.8 186.3 188.7 186.7 189 187.1 189.2 187.5 189.3 187.9 189.4 188.3 189.5 188.7 189.3 189.1 189.1 189.5 188.6 189.9 187.9 190.3 187.1 190.7 186.4 191.1 185.9 191.5 185.7 191.9 185.5 192.3 185.2 192.7 185 193 185 193.3 185.5 193.6 186.2 193.9 186.6 194.2 186.4 194.4 186 194.6 185.8 194.9 186.2 195.1 186.8 195.4 187.3 195.6 187.7 195.9 188 196.1 188.1 196.3 188 196.6 187.8 196.8 187.6 197.1 187.6 197.3 187.8 197.5 188.1 197.8 188.6 198 189.4 198.3 189.9 198.6 190.1 198.9 190 199.2 190 199.5 190 199.9 190 200.3 190.2 200.6 190.8 201 191.5 201.4 192 201.9 192.2 202.3 192.3 202.7 192.3 203.1 192.6 203.5 192.9 203.9 193.2 204.3 193.3 204.7 193.4 205.1 193.6 205.5 194.3 205.9 195.1 206.3 195.9 206.6 196.4 207 196.7 207.4 197 207.8 197 208.2 196.9 208.6 196.9 209 197.2 209.4 197.6 209.8 197.7 210.1 197.3 210.5 196.6 210.9 196.1 211.3 196 211.7 196.1 212 196.2 212.4 196.2 212.8 196.1 213.2 196.1 213.6 196 214 196 214.4 195.9 214.8 195.5 215.2 195 215.6 194.4 216 193.6 216.4 192.7 216.8 191.8 217.2 191.1 217.6 190.6 217.9 190.1 218.2 189.6 218.5 189.2 218.8 188.8 219.1 188.3 219.3 187.7 219.6 187.3 219.8 187.1 220.1 186.9 220.3 186.6 220.5 185.9 220.8 184.9 221 184.3 221.2 184.4 221.5 184.8 221.7 185.1 221.9 185.1 222.1 185 222.3 185 222.5 185.2 222.7 185.4 222.9 185.6 223.1 185.8 223.3 186 223.5 186.3 223.7 186.6 223.9 186.9 224.1 187.2 224.2 187.5 224.4 187.9 224.6 188.4 224.7 188.9 224.9 189.5 225.1 190.1 225.3 190.6 225.5 191.2 225.7 191.8 225.9 192.5 226.1 193.3 226.4 193.8 226.6 193.9 226.8 193.8 227.1 193.8 227.3 194.1 227.6 194.6 227.9 195.2 228.2 195.9 228.5 196.6 228.8 197.2 229.1 197.3 229.5 197.1 229.9 197.1 230.2 197.1 230.6 197.3 231.1 197.4 231.5 197.5 231.9 197.7 232.3 197.9 232.7 198.4 233.1 198.9 233.5 199.3 233.9 199.3 234.3 199.2 234.6 199.2 235 199.6 235.4 200.1 235.7 200.5 236.1 200.5 236.5 200.4 236.9 200.4 237.3 200.5 237.7 200.7 238.2 200.7 238.7 200.4 239.3 199.9 239.9 199.5 240.6 199.4 241.2 199.4 241.9 199.4 242.5 199.4 243.2 199.4 243.7 199.6 244.2 199.8 244.7 200.2 245 200.4" fill="none" stroke="#f47868" stroke-width="1.1" stroke-linejoin="round"/><path d="M24.8 184.9 24.8 184.7 24.9 184.3 25 183.9 25.1 183.2 25.2 182.4 25.3 181.6 25.4 180.8 25.5 179.9 25.6 179.1 25.7 178.4 25.8 177.7 25.9 177 26 176.2 26.1 175.4 26.3 174.5 26.4 173.6 26.5 172.5 26.7 171.5 26.8 170.5 26.9 169.6 27.1 168.7 27.2 167.9 27.3 167.3 27.4 166.7 27.5 166.1 27.6 165.6 27.6 165.1 27.7 164.5 27.8 163.9 27.8 163.6 27.9 163.7 28 164.1 28 164.5 28.1 164.4 28.1 164.3 28.2 164.4 28.3 165 28.3 165.8 28.4 166.6 28.5 167.4 28.5 168.2 28.6 169.1 28.7 170.3 28.7 171.6 28.8 172.8 28.9 173.7 28.9 174.4 29 175.2 29.1 176.2 29.1 177.3 29.2 178.4 29.3 179.5 29.3 180.6 29.4 181.7 29.4 182.8 29.5 183.8 29.6 184.8 29.6 186.1 29.7 187.4 29.8 188.5 29.9 189.3 30 189.7 30.1 190.2 30.1 190.7 30.2 191.1 30.3 191.5 30.4 192 30.5 192.5 30.6 193 30.8 193.6 30.9 194.4 31 194.9 31.1 195 31.3 195 31.4 194.9 31.6 194.9 31.7 194.9 31.9 194.9 32 195.2 32.2 195.6 32.4 196 32.6 196 32.7 196 32.9 196 33.1 196.3 33.3 196.8 33.5 197 33.7 196.9 33.9 196.6 34.1 196.4 34.3 196.6 34.5 197 34.7 197.3 34.9 197.5 35 197.7 35.2 197.6 35.4 197.4 35.5 197.1 35.7 196.6 35.8 196.2 36 195.7 36.1 195.1 36.2 194.1 36.4 193 36.5 192 36.6 191.5 36.7 191.2 36.8 190.8 36.9 190.3 37 189.9 37 189.4 37.1 189.1 37.2 188.8 37.2 188.6 37.3 188.6 37.3 188.8 37.4 188.7 37.5 188.3 37.5 187.7 37.6 187.1 37.7 186.8 37.8 186.5 37.9 186.1 38 185.2 38.1 184.2 38.2 183.5 38.3 183.1 38.4 182.9 38.5 182.7 38.6 182.3 38.7 181.9 38.8 181.7 38.9 181.8 39 182.1 39.1 182.6 39.2 183.4 39.2 184.4 39.3 185.4 39.4 186.4 39.5 187.4 39.6 188.2 39.7 188.7 39.8 189 39.9 189.4 40 190.3 40.2 191.4 40.3 192.5 40.4 193.4 40.6 194.2 40.7 195 40.9 195.6 41 196.1 41.2 196.7 41.3 197.4 41.4 198.2 41.5 198.8 41.6 199.2 41.6 199.6 41.7 199.9 41.7 200.3 41.8 200.6 41.8 201 41.8 201.3 41.9 201.5 41.9 201.8 42 202.1 42.1 202.4 42.2 202.6 42.3 202.8 42.5 202.9 42.7 202.9 42.9 202.8 43.1 202.6 43.4 202.3 43.6 202.1 43.8 201.8 44 201.5 44.2 201.3 44.4 201 44.6 200.7 44.8 200.1 44.9 199.5 45.1 198.5 45.2 197.2 45.3 195.7 45.5 194.2 45.6 193 45.7 191.8 45.8 190.7 45.9 189.6 46 188.5 46.1 187.6 46.2 187.1 46.2 186.7 46.3 186.3 46.3 185.7 46.4 185 46.4 184.3 46.4 183.7 46.5 183 46.5 182.5 46.5 182.2 46.6 182.1 46.6 182 46.6 182.1 46.7 182.3 46.7 182.5 46.8 182.7 46.8 182.9 46.9 183.2 46.9 183.6 46.9 184 47 184.5 47.1 184.7 47.1 185 47.2 185.4 47.3 186.2 47.4 187.1 47.5 188.2 47.6 189.6 47.7 191.1 47.8 192.5 47.9 193.7 48 194.8 48.1 195.8 48.3 196.9 48.4 197.9 48.5 198.8 48.6 199.7 48.7 200.5 48.9 201.3 49 202.4 49.1 203.5 49.2 204.4 49.4 204.8 49.5 205 49.6 205.4 49.7 205.9 49.9 206.6 50 207.2 50.1 207.5 50.3 207.7 50.4 207.9 50.5 208.2 50.7 208.4 50.8 208.6 50.9 209 51.1 209.3 51.2 209.7 51.3 209.9 51.5 210.1 51.6 210.2 51.7 210.1 51.8 209.8 52 209.6 52.1 209.5 52.2 209.4 52.3 209.5 52.4 209.7 52.5 210.1 52.7 210.3 52.8 210.2 52.9 210 53.1 209.8 53.3 209.7 53.5 209.7 53.6 209.9 53.8 210.4 54 211.1 54.2 211.6 54.5 211.6 54.7 211.4 54.9 211.3 55.1 211.6 55.3 212 55.5 212.2 55.7 212.2 55.9 212 56.1 211.9 56.3 212.2 56.5 212.6 56.7 212.8 56.8 212.8 57 212.6 57.2 212.4 57.4 212.3 57.6 212.2 57.8 212.1 58 212.1 58.2 212 58.3 212.1 58.5 212.4 58.7 212.8 58.9 213.1 59.1 213.2 59.3 213.3 59.4 213.3 59.7 213.5 59.9 213.7 60.1 213.7 60.3 213.3 60.6 212.7 60.9 212.3 61.1 212.3 61.4 212.5 61.7 212.6 62 212.4 62.3 212 62.6 211.7 62.9 211.6 63.2 211.6 63.5 211.5 63.8 211.3 64.1 210.9 64.4 210.7 64.7 210.6 65 210.6 65.2 210.6 65.5 210.6 65.8 210.7 66.1 210.7 66.4 210.9 66.7 211 67 211 67.3 210.6 67.6 209.9 67.9 209.4 68.2 209.3 68.5 209.4 68.8 209.5 69 209.5 69.3 209.6 69.6 209.6 69.9 209.7 70.2 209.8 70.5 209.9 70.8 209.7 71.1 209.5 71.4 209.4 71.7 209.5 72 209.8 72.3 210.3 72.6 211 72.9 211.8 73.2 212.5 73.5 212.9 73.7 213.2 74 213.4 74.2 213.4 74.5 213.3 74.7 213.2 74.9 213.1 75 213 75.2 213 75.4 213.5 75.6 214.1 75.7 214.5 75.9 214.4 76.1 214 76.3 213.7 76.5 213.8 76.7 214.1 76.9 214.1 77.1 213.9 77.3 213.5 77.5 213.1 77.7 213 77.9 212.9 78.1 212.7 78.3 212.2 78.5 211.5 78.7 211 78.9 211 79.1 211.1 79.4 211 79.6 210.5 79.8 209.8 80.1 209.2 80.3 208.9 80.5 208.7 80.8 208.6 81 208.7 81.3 208.8 81.5 209 81.7 209.2 82 209.4 82.2 209.5 82.5 209.6 82.7 209.6 83 209.7 83.2 210.1 83.5 210.6 83.7 211.1 84 211.6 84.2 212.1 84.5 212.6 84.8 213 85 213.4 85.3 213.7 85.5 214 85.8 214.3 86 214.5 86.3 214.6 86.5 214.8 86.8 215 87 215.2 87.3 215.5 87.5 215.8 87.7 216.2 87.9 216.7 88.1 217.1 88.3 217.4 88.5 217.6 88.7 217.7 88.9 217.5 89.1 217 89.3 216.8 89.5 216.9 89.7 217.2 89.9 217.5 90.1 217.6 90.4 217.6 90.6 217.4 90.8 216.9 91.1 216.2 91.3 215.8 91.5 215.8 91.8 216.1 92 216.2 92.3 215.7 92.5 215 92.7 214.5 92.9 214.4 93.1 214.5 93.3 214.5 93.5 214.4 93.7 214.1 93.8 213.9 94 213.7 94.2 213.6 94.4 213.4 94.6 213.1 94.8 212.7 95 212.4 95.2 212.2 95.4 212.1 95.7 212 95.9 211.9 96.1 211.8 96.3 211.7 96.6 211.4 96.8 211.2 97.1 211 97.3 211.1 97.6 211.2 97.8 211.3 98 211.4 98.3 211.5 98.5 211.6 98.8 211.9 99.1 212.3 99.3 212.6 99.6 212.8 99.8 212.9 100.1 213.2 100.4 213.7 100.6 214.3 100.9 214.8 101.2 215 101.5 215 101.7 215 102 214.9 102.3 214.8 102.6 214.8 102.9 215 103.2 215.3 103.5 215.5 103.8 215.6 104.1 215.5 104.4 215.4 104.7 215.1 105 214.8 105.3 214.5 105.6 214.1 105.9 213.6 106.2 213.3 106.5 213.2 106.8 213.1 107.1 213 107.3 212.7 107.6 212.4 107.9 212.1 108.2 212.1 108.4 212.2 108.7 212.4 108.9 212.7 109.2 213.1 109.4 213.4 109.7 213.4 109.9 213.4 110.2 213.5 110.4 213.8 110.7 214.2 110.9 214.5 111.1 214.7 111.4 214.9 111.6 215 111.8 214.9 112 214.7 112.3 214.6 112.5 214.9 112.7 215.4 113 215.7 113.2 215.5 113.4 215.1 113.7 214.9 114 215.1 114.2 215.5 114.5 215.8 114.8 215.8 115.1 215.8 115.4 215.7 115.7 215.5 116 215.2 116.3 214.8 116.6 214.3 116.9 213.8 117.2 213.3 117.5 213 117.8 212.7 118.1 212.3 118.4 211.7 118.7 210.8 119 210.1 119.3 209.6 119.6 209.2 119.9 208.6 120.2 207.5 120.5 206.3 120.8 205.2 121.1 204.6 121.5 204.2 121.8 203.7 122.1 202.9 122.5 202 122.8 201 123.2 200.1 123.5 199.1 123.9 198.3 124.2 197.8 124.5 197.5 124.8 197.2 125.1 197 125.4 196.8 125.6 196.9 125.9 197.7 126.1 198.8 126.3 199.7 126.6 200.3 126.8 200.7 127 201.3 127.3 202.1 127.5 203.1 127.8 203.9 128.1 204.6 128.4 205.3 128.6 205.8 128.9 206.1 129.2 206.4 129.5 206.8 129.8 207.6 130.1 208.7 130.4 209.5 130.7 210.2 131 210.7 131.3 211 131.6 210.9 131.9 210.5 132.2 210.2 132.5 210.1 132.8 210.2 133.1 210.3 133.3 210.4 133.6 210.5 133.9 210.5 134.2 210.1 134.5 209.6 134.8 209.4 135.1 209.7 135.4 210.3 135.7 210.6 136 210.5 136.3 210.2 136.5 210.1 136.8 210.4 137.1 210.9 137.4 211.2 137.7 211 138 210.6 138.3 210.3 138.6 210.3 138.9 210.5 139.2 210.6 139.5 210.8 139.8 210.9 140.1 210.8 140.4 210.4 140.7 209.8 141 209.4 141.3 209.1 141.6 209 141.9 208.9 142.2 208.8 142.5 208.7 142.8 208.5 143.1 208.2 143.4 207.8 143.7 207.4 144 206.9 144.3 206.5 144.6 206.1 144.9 205.9 145.1 205.8 145.4 205.7 145.7 205.4 145.9 205.2 146.1 205.1 146.4 205.3 146.6 205.6 146.8 205.8 147.1 205.7 147.3 205.4 147.5 205.3 147.7 205.4 148 205.6 148.2 205.8 148.4 205.6 148.7 205.4 148.9 205.4 149.2 206 149.4 206.8 149.7 207.4 149.9 207.6 150.2 207.5 150.4 207.7 150.7 208.1 150.9 208.7 151.2 209.2 151.5 209.6 151.8 209.9 152.1 210.1 152.4 210.2 152.7 210.1 153 210.3 153.3 210.6 153.6 211.1 153.9 211.5 154.2 211.6 154.4 211.5 154.7 211.6 154.9 211.8 155.1 212 155.3 212.3 155.5 212.8 155.7 213.3 155.8 213.6 156 213.5 156.2 213.2 156.4 213.2 156.6 213.6 156.8 214.2 157 214.6 157.2 214.4 157.5 214 157.8 213.6 158.1 213.1 158.4 212.7 158.7 212.3 159 212.1 159.3 212 159.6 211.7 159.9 211.2 160.2 210.5 160.5 210.1 160.8 210.1 161.1 210.3 161.4 210.4 161.7 210.1 162 209.6 162.2 209.2 162.5 208.8 162.8 208.5 163.1 208.4 163.4 208.5 163.7 208.7 164 208.9 164.3 208.9 164.6 208.8 164.9 208.8 165.2 208.8 165.5 208.9 165.8 209.1 166 209.7 166.3 210.4 166.6 210.9 166.9 210.9 167.2 210.8 167.5 210.9 167.8 211.5 168.1 212.4 168.3 213.1 168.6 213.3 168.9 213.4 169.2 213.5 169.4 214.1 169.7 214.7 170 215.3 170.3 215.9 170.7 216.5 171 216.9 171.4 217 171.7 217.1 172.1 217.1 172.5 217.4 173 217.7 173.4 217.9 173.8 218 174.2 218 174.7 217.9 175.1 217.9 175.5 217.8 175.9 217.8 176.3 217.8 176.7 217.9 177.1 217.9 177.5 217.9 177.9 217.9 178.3 217.9 178.7 218.1 179 218.2 179.4 218.3 179.8 218.2 180.2 218 180.6 217.8 181 217.7 181.4 217.7 181.8 217.7 182.1 217.8 182.5 218 182.9 218 183.3 217.6 183.7 217.1 184 216.6 184.4 216.5 184.8 216.5 185.2 216.5 185.6 216.6 186 216.8 186.4 216.8 186.8 216.5 187.2 216 187.5 215.7 187.9 215.5 188.3 215.4 188.7 215.4 189.1 215.5 189.5 215.7 189.9 215.8 190.3 215.7 190.7 215.6 191.1 215.5 191.5 215.7 191.9 215.9 192.3 216.1 192.6 216.1 193 216.1 193.4 216.2 193.8 216.4 194.2 216.8 194.6 217 195 217.2 195.4 217.3 195.8 217.4 196.1 217.3 196.5 217.2 196.9 217.2 197.3 217.5 197.7 217.9 198 218.3 198.4 218.4 198.8 218.4 199.2 218.5 199.6 218.4 200 218.3 200.4 218.4 200.8 218.9 201.2 219.5 201.5 220 201.9 219.9 202.3 219.6 202.7 219.4 203.1 219.4 203.5 219.4 203.9 219.5 204.3 219.5 204.7 219.5 205.1 219.6 205.5 219.8 205.9 220.1 206.3 220.3 206.6 220.5 207 220.6 207.4 220.6 207.8 220.6 208.2 220.5 208.6 220.4 209 220.2 209.4 220 209.8 219.8 210.1 219.7 210.5 219.6 210.9 219.6 211.3 219.3 211.7 219.1 212 219 212.4 219.1 212.8 219.3 213.2 219.3 213.6 219 214 218.6 214.4 218.1 214.8 217.5 215.2 216.9 215.6 216.3 216 215.9 216.4 215.6 216.8 215.2 217.2 214.7 217.6 214.1 217.9 213.7 218.2 213.6 218.5 213.6 218.8 213.5 219.1 213.3 219.3 212.9 219.6 212.6 219.8 212.1 220 211.7 220.3 211.4 220.5 211.6 220.8 212 221 212.2 221.3 211.9 221.5 211.4 221.8 211.1 222 211.4 222.3 211.9 222.5 212.3 222.8 212.5 223.1 212.6 223.3 212.8 223.6 213 223.8 213.2 224.1 213.4 224.4 213.7 224.6 213.9 224.9 214.4 225.1 215.1 225.4 216.1 225.6 216.8 225.9 217 226.1 217 226.4 217.2 226.7 217.8 227 218.5 227.3 219.2 227.6 219.7 228 220.3 228.3 220.6 228.7 220.5 229.1 220.2 229.5 220.1 229.9 220.2 230.3 220.4 230.7 220.7 231.1 221 231.5 221.4 231.9 221.8 232.3 221.9 232.6 222 233 222.1 233.3 222.3 233.7 222.5 234 222.7 234.4 222.9 234.8 223.1 235.2 223.3 235.6 223.1 236.1 222.9 236.6 222.7 237.2 222.9 237.9 223.1 238.6 223.4 239.4 223.5 240.3 223.7 241.1 223.8 241.9 223.8 242.7 223.7 243.4 223.8 244 224.1 244.6 224.4 245 224.7" fill="none" stroke="#8a3de2" stroke-width="1.1" stroke-linejoin="round"/><rect x="24.4" y="10.5" width="220.8" height="221.2" fill="none" stroke="#2b2b2b" stroke-width="1.3"/><line x1="38.2" y1="231.7" x2="38.2" y2="228.2" stroke="#2b2b2b" stroke-width="1"/><text x="38.2" y="243.9" font-size="10.8" text-anchor="middle">20</text><line x1="65.8" y1="231.7" x2="65.8" y2="228.2" stroke="#2b2b2b" stroke-width="1"/><text x="65.8" y="243.9" font-size="10.8" text-anchor="middle">40</text><line x1="93.4" y1="231.7" x2="93.4" y2="228.2" stroke="#2b2b2b" stroke-width="1"/><text x="93.4" y="243.9" font-size="10.8" text-anchor="middle">60</text><line x1="121.0" y1="231.7" x2="121.0" y2="228.2" stroke="#2b2b2b" stroke-width="1"/><text x="121.0" y="243.9" font-size="10.8" text-anchor="middle">80</text><line x1="148.6" y1="231.7" x2="148.6" y2="228.2" stroke="#2b2b2b" stroke-width="1"/><text x="148.6" y="243.9" font-size="10.8" text-anchor="middle">100</text><line x1="176.2" y1="231.7" x2="176.2" y2="228.2" stroke="#2b2b2b" stroke-width="1"/><text x="176.2" y="243.9" font-size="10.8" text-anchor="middle">120</text><line x1="203.8" y1="231.7" x2="203.8" y2="228.2" stroke="#2b2b2b" stroke-width="1"/><text x="203.8" y="243.9" font-size="10.8" text-anchor="middle">140</text><line x1="231.4" y1="231.7" x2="231.4" y2="228.2" stroke="#2b2b2b" stroke-width="1"/><text x="231.4" y="243.9" font-size="10.8" text-anchor="middle">160</text><line x1="152" y1="19.5" x2="164" y2="19.5" stroke="#45b4f2" stroke-width="1.1"/><line x1="152" y1="31.5" x2="164" y2="31.5" stroke="#888" stroke-width="1.1"/><line x1="152" y1="43.8" x2="164" y2="43.8" stroke="#f58a7c" stroke-width="1.1"/><line x1="152" y1="57.8" x2="164" y2="57.8" stroke="#9550e4" stroke-width="1.1"/><text x="165.4" y="23.3" font-size="11" textLength="58.9" lengthAdjust="spacingAndGlyphs">CsPbBr<tspan font-size="6.8" dy="0.8">3</tspan><tspan dy="-0.8"> QD</tspan></text><text x="165.4" y="35.3" font-size="11" textLength="31.1" lengthAdjust="spacingAndGlyphs">PEABr</text><text x="165.4" y="47.9" font-size="11" textLength="41.1" lengthAdjust="spacingAndGlyphs">PEA-QD</text><text x="165.4" y="61.8" font-size="11" textLength="77.7" lengthAdjust="spacingAndGlyphs">(PEA+NBA)-QD</text><text x="28.4" y="22.9" font-size="11" textLength="31.5" lengthAdjust="spacingAndGlyphs">Group</text><text x="44.5" y="37.8" font-size="11" text-anchor="middle">I</text><text x="68.7" y="22.9" font-size="11" textLength="31.5" lengthAdjust="spacingAndGlyphs">Group</text><text x="84.4" y="37.8" font-size="11" text-anchor="middle">II</text><text x="105.1" y="22.9" font-size="11" textLength="31.9" lengthAdjust="spacingAndGlyphs">Group</text><text x="120.9" y="37.8" font-size="11" text-anchor="middle">III</text><text x="167.1" y="80.4" font-size="11" textLength="44.1" lengthAdjust="spacingAndGlyphs">Group IV</text><text x="82.3" y="255.3" font-size="11" textLength="104.7" lengthAdjust="spacingAndGlyphs">Wavenumbers (cm<tspan font-size="7" dy="-4">-1</tspan><tspan dy="4">)</tspan></text><text transform="translate(14.8 171.1) rotate(-90)" x="0" y="0" font-size="11" textLength="100.2" lengthAdjust="spacingAndGlyphs">Intensity (arb. units)</text><text x="-1" y="8.8" font-size="12.5" font-weight="bold">a</text><text x="251.5" y="8.8" font-size="12.5" font-weight="bold">b</text><polyline points="289,44.3 289.1,45.1 289.1,42.6 289.1,46.6 289.2,35.9 289.2,40.2 289.3,45.9 289.4,43.1 289.4,39.8 289.4,41.5 289.5,46.9 289.6,46.5 289.6,36.8 289.6,35.3 289.7,45.8 289.8,43.5 289.8,45.4 289.9,41.5 289.9,40.8 289.9,35.4 290,44.6 290.1,42.9 290.1,53.4 290.1,37.5 290.2,38.7 290.2,38.7 290.3,38.5 290.4,35.2 290.4,39.5 290.4,39.3 290.5,39.5 290.6,40.8 290.6,28.8 290.6,26.1 290.7,51.9 290.8,40.0 290.8,40.8 290.9,34.6 290.9,32.0 290.9,37.5 291,39.0 291.1,37.5 291.1,33.9 291.1,34.0 291.2,39.0 291.2,36.3 291.3,34.5 291.4,42.3 291.4,34.0 291.4,36.9 291.5,34.9 291.6,29.0 291.6,31.1 291.6,31.5 291.7,40.2 291.8,32.0 291.8,34.4 291.9,33.1 291.9,38.9 291.9,30.9 292,32.8 292.1,35.9 292.1,32.4 292.1,37.0 292.2,30.5 292.2,31.7 292.3,34.1 292.4,38.8 292.4,44.6 292.4,37.8 292.5,36.2 292.6,30.2 292.6,31.4 292.6,35.9 292.7,37.5 292.8,42.9 292.8,30.1 292.9,34.9 292.9,23.9 292.9,26.8 293,35.8 293.1,26.2 293.1,35.7 293.1,40.1 293.2,35.3 293.2,31.6 293.3,39.8 293.4,25.5 293.4,25.5 293.4,39.7 293.5,36.4 293.6,32.1 293.6,40.1 293.6,32.4 293.7,41.6 293.8,37.4 293.8,27.6 293.9,36.1 293.9,37.5 293.9,25.5 294,23.4 294.1,31.1 294.1,40.9 294.1,24.2 294.2,36.7 294.2,39.9 294.3,27.3 294.4,36.2 294.4,33.2 294.4,30.0 294.5,40.0 294.6,28.8 294.6,40.1 294.6,37.5 294.7,37.2 294.8,33.7 294.8,44.2 294.9,29.9 294.9,36.2 294.9,27.6 295,28.7 295.1,39.3 295.1,24.1 295.1,36.1 295.2,35.6 295.2,36.7 295.3,32.1 295.4,25.7 295.4,43.5 295.4,28.4 295.5,30.2 295.6,38.6 295.6,29.7 295.6,33.0 295.7,33.5 295.8,25.6 295.8,39.7 295.9,31.4 295.9,31.9 295.9,32.1 296,30.5 296.1,32.9 296.1,37.3 296.1,33.6 296.2,40.6 296.2,61.3 296.3,32.6 296.4,40.6 296.4,31.9 296.4,35.1 296.5,33.5 296.6,39.7 296.6,36.6 296.6,30.4 296.7,33.8 296.8,53.0 296.8,32.6 296.9,39.9 296.9,56.2 296.9,32.0 297,33.3 297.1,38.7 297.1,32.4 297.1,26.3 297.2,39.2 297.2,32.4 297.3,21.8 297.4,37.6 297.4,40.6 297.4,32.4 297.5,37.3 297.6,32.4 297.6,38.6 297.6,29.9 297.7,34.1 297.8,32.0 297.8,26.8 297.9,39.1 297.9,27.8 297.9,34.8 298,37.8 298.1,53.3 298.1,57.3 298.1,61.9 298.2,54.7 298.2,57.0 298.3,55.4 298.4,52.1 298.4,55.0 298.4,53.3 298.5,52.1 298.6,52.7 298.6,30.5 298.6,50.8 298.7,27.6 298.8,31.4 298.8,27.7 298.9,38.7 298.9,34.2 298.9,46.0 299,26.5 299.1,30.2 299.1,40.1 299.1,40.8 299.2,37.6 299.2,34.3 299.3,31.9 299.4,41.7 299.4,34.2 299.4,36.7 299.5,39.5 299.6,35.8 299.6,62.4 299.6,64.0 299.7,61.6 299.8,62.0 299.8,57.2 299.9,59.4 299.9,63.3 299.9,59.3 300,56.6 300.1,56.1 300.1,57.2 300.1,61.8 300.2,62.4 300.2,58.7 300.3,60.4 300.4,57.2 300.4,65.3 300.4,62.6 300.5,53.9 300.6,37.3 300.6,47.4 300.6,36.8 300.7,31.3 300.8,34.8 300.8,44.0 300.9,29.9 300.9,47.3 300.9,31.5 301,32.4 301.1,27.7 301.1,44.6 301.1,46.8 301.2,29.5 301.2,34.4 301.3,36.7 301.4,30.4 301.4,38.0 301.4,41.5 301.5,27.6 301.6,32.4 301.6,43.4 301.6,31.5 301.7,39.0 301.8,29.7 301.8,33.9 301.9,30.3 301.9,36.2 301.9,41.4 302,43.6 302.1,39.8 302.1,39.7 302.1,41.7 302.2,39.7 302.2,43.2 302.3,42.0 302.4,32.7 302.4,45.2 302.4,43.0 302.5,35.0 302.6,45.3 302.6,47.5 302.6,38.4 302.7,44.6 302.8,37.2 302.8,36.0 302.9,48.2 302.9,33.4 302.9,42.5 303,31.0 303.1,41.1 303.1,36.1 303.1,40.2 303.2,46.0 303.2,36.2 303.3,32.4 303.4,39.1 303.4,35.5 303.4,40.7 303.5,40.0 303.6,32.1 303.6,38.8 303.6,37.6 303.7,37.0 303.8,38.8 303.8,42.5 303.9,40.2 303.9,39.8 303.9,40.3 304,39.6 304.1,30.8 304.1,38.6 304.1,34.4 304.2,39.1 304.2,38.5 304.3,40.5 304.4,35.6 304.4,43.8 304.4,34.6 304.5,34.5 304.6,36.3 304.6,37.0 304.6,40.7 304.7,37.9 304.8,42.5 304.8,44.2 304.9,39.7 304.9,36.9 304.9,31.6 305,43.9 305.1,39.6 305.1,34.9 305.1,26.7 305.2,34.9 305.2,29.8 305.3,37.3 305.4,34.1 305.4,42.5 305.4,35.8 305.5,31.3 305.6,30.1 305.6,40.5 305.6,42.4 305.7,30.6 305.8,33.1 305.8,43.4 305.9,44.5 305.9,33.8 305.9,37.8 306,40.8 306.1,37.1 306.1,33.4 306.1,35.3 306.2,41.9 306.2,39.2 306.3,39.7 306.4,38.4 306.4,34.9 306.4,36.6 306.5,34.1 306.6,37.0 306.6,37.0 306.6,39.2 306.7,37.5 306.8,35.4 306.8,32.6 306.9,31.9 306.9,32.0 306.9,47.6 307,37.1 307.1,37.5 307.1,46.4 307.1,46.1 307.2,38.0 307.2,39.1 307.3,39.3 307.4,43.6 307.4,26.8 307.4,34.1 307.5,27.9 307.6,37.8 307.6,31.4 307.6,35.9 307.7,30.2 307.8,39.3 307.8,32.0 307.9,26.9 307.9,34.4 307.9,32.6 308,28.8 308.1,31.4 308.1,39.0 308.1,36.9 308.2,36.9 308.2,48.4 308.3,34.9 308.4,34.1 308.4,31.7 308.4,37.7 308.5,35.0 308.6,42.4 308.6,47.6 308.6,34.6 308.7,32.7 308.8,33.0 308.8,39.7 308.9,33.4 308.9,41.1 308.9,33.9 309,39.4 309.1,35.7 309.1,38.4 309.1,49.2 309.2,32.8 309.2,37.2 309.3,30.6 309.4,35.6 309.4,39.9 309.4,36.2 309.5,44.1 309.6,39.7 309.6,42.0 309.6,34.3 309.7,38.5 309.8,34.2 309.8,37.8 309.9,41.0 309.9,29.2 309.9,39.3 310,40.8 310.1,31.1 310.1,31.2 310.1,32.4 310.2,36.7 310.2,37.1 310.3,44.3 310.4,37.9 310.4,34.5 310.4,32.7 310.5,34.8 310.6,34.2 310.6,37.3 310.6,40.1 310.7,41.4 310.8,39.1 310.8,37.6 310.9,32.2 310.9,39.1 310.9,45.0 311,34.1 311.1,37.7 311.1,45.0 311.1,33.5 311.2,31.3 311.2,47.4 311.3,43.0 311.4,33.1 311.4,34.9 311.4,32.4 311.5,34.8 311.6,40.4 311.6,36.8 311.6,36.1 311.7,33.7 311.8,45.9 311.8,26.7 311.9,46.2 311.9,31.2 311.9,36.4 312,41.5 312.1,29.2 312.1,32.4 312.1,37.2 312.2,35.3 312.2,39.7 312.3,29.7 312.4,33.0 312.4,37.0 312.4,39.1 312.5,38.5 312.6,30.5 312.6,30.9 312.6,27.9 312.7,38.7 312.8,35.7 312.8,33.9 312.9,48.0 312.9,34.6 312.9,41.2 313,28.8 313.1,34.5 313.1,36.2 313.1,43.9 313.2,38.2 313.2,36.3 313.3,38.7 313.4,64.0 313.4,61.7 313.4,60.8 313.5,59.7 313.6,56.2 313.6,67.9 313.6,56.1 313.7,61.3 313.8,59.8 313.8,62.4 313.9,60.8 313.9,62.7 313.9,61.8 314,56.1 314.1,60.4 314.1,64.3 314.1,58.4 314.2,44.9 314.2,35.5 314.3,40.0 314.4,36.6 314.4,36.5 314.4,36.0 314.5,40.5 314.6,55.7 314.6,46.1 314.6,41.1 314.7,40.9 314.8,33.6 314.8,47.3 314.9,42.0 314.9,33.1 314.9,38.2 315,34.9 315.1,35.7 315.1,28.8 315.1,33.6 315.2,38.6 315.2,40.2 315.3,30.7 315.4,39.3 315.4,39.4 315.4,38.9 315.5,42.0 315.6,38.5 315.6,40.2 315.6,39.9 315.7,34.5 315.8,42.7 315.8,38.2 315.9,40.9 315.9,34.9 315.9,40.4 316,31.7 316.1,39.9 316.1,38.2 316.1,44.4 316.2,44.0 316.2,41.0 316.3,36.5 316.4,39.3 316.4,37.3 316.4,39.6 316.5,43.6 316.6,41.9 316.6,41.3 316.6,38.3 316.7,33.7 316.8,37.2 316.8,38.2 316.9,38.7 316.9,30.1 316.9,33.4 317,30.8 317.1,41.9 317.1,32.7 317.1,41.5 317.2,44.9 317.2,39.1 317.3,33.0 317.4,43.8 317.4,42.9 317.4,37.5 317.5,45.2 317.6,43.0 317.6,36.9 317.6,42.8 317.7,38.0 317.8,36.5 317.8,37.0 317.9,37.3 317.9,39.3 317.9,45.4 318,45.1 318.1,32.4 318.1,40.0 318.1,40.0 318.2,43.0 318.2,38.7 318.3,41.2 318.4,36.4 318.4,38.7 318.4,34.4 318.5,29.3 318.6,35.5 318.6,41.0 318.6,45.6 318.7,35.2 318.8,33.5 318.8,41.0 318.9,41.6 318.9,40.6 318.9,35.5 319,44.6 319.1,41.6 319.1,35.9 319.1,35.6 319.2,39.3 319.2,43.2 319.3,34.0 319.4,38.6 319.4,41.5 319.4,41.1 319.5,38.6 319.6,37.6 319.6,37.8 319.6,39.4 319.7,40.5 319.8,37.1 319.8,37.8 319.9,34.4 319.9,34.5 319.9,39.3 320,33.6 320.1,42.7 320.1,43.0 320.1,47.0 320.2,36.1 320.2,32.2 320.3,42.6 320.4,41.5 320.4,36.3 320.4,36.4 320.5,43.3 320.6,34.9 320.6,35.6 320.6,38.5 320.7,33.6 320.8,38.6 320.8,42.2 320.9,44.2 320.9,40.2 320.9,39.4 321,43.6 321.1,39.2 321.1,38.4 321.1,38.2 321.2,40.5 321.2,44.3 321.3,36.7 321.4,38.6 321.4,40.0 321.4,37.7 321.5,34.8 321.6,36.2 321.6,41.0 321.6,46.8 321.7,42.7 321.8,40.8 321.8,38.3 321.9,38.6 321.9,43.8 321.9,38.1 322,41.0 322.1,34.5 322.1,41.0 322.1,45.9 322.2,39.0 322.2,36.2 322.3,37.1 322.4,29.1 322.4,41.9 322.4,43.7 322.5,37.3 322.6,47.3 322.6,38.0 322.6,37.8 322.7,38.8 322.8,39.1 322.8,46.3 322.9,40.3 322.9,39.6 322.9,38.3 323,44.9 323.1,37.9 323.1,40.4 323.1,42.8 323.2,31.3 323.2,35.4 323.3,37.9 323.4,39.5 323.4,39.3 323.4,43.1 323.5,35.9 323.6,41.8 323.6,36.3 323.6,40.0 323.7,43.0 323.8,56.9 323.8,33.9 323.9,42.1 323.9,35.1 323.9,45.6 324,35.1 324.1,37.2 324.1,34.1 324.1,36.2 324.2,38.1 324.2,38.1 324.3,42.8 324.4,43.2 324.4,41.1 324.4,36.7 324.5,43.2 324.6,34.3 324.6,42.4 324.6,33.9 324.7,37.3 324.8,30.7 324.8,44.4 324.9,38.4 324.9,37.0 324.9,35.0 325,38.7 325.1,32.7 325.1,35.5 325.1,44.1 325.2,30.4 325.2,38.1 325.3,33.1 325.4,40.5 325.4,34.0 325.4,48.9 325.5,37.7 325.6,36.2 325.6,38.1 325.6,38.3 325.7,46.2 325.8,45.3 325.8,45.5 325.9,31.9 325.9,41.3 325.9,38.2 326,36.8 326.1,32.6 326.1,36.0 326.1,32.9 326.2,35.8 326.2,38.6 326.3,40.1 326.4,35.4 326.4,36.5 326.4,36.2 326.5,37.4 326.6,34.1 326.6,29.5 326.6,39.3 326.7,36.6 326.8,39.8 326.8,51.1 326.9,42.2 326.9,36.1 326.9,38.1 327,39.9 327.1,44.7 327.1,37.1 327.1,34.6 327.2,35.1 327.2,41.7 327.3,38.6 327.4,41.5 327.4,45.4 327.4,49.1 327.5,38.8 327.6,30.8 327.6,51.2 327.6,36.2 327.7,30.2 327.8,40.2 327.8,42.4 327.9,40.2 327.9,36.4 327.9,35.9 328,41.3 328.1,33.3 328.1,36.6 328.1,32.5 328.2,44.4 328.2,41.6 328.3,39.3 328.4,36.9 328.4,34.8 328.4,41.3 328.5,36.6 328.6,35.8 328.6,38.6 328.6,33.1 328.7,38.5 328.8,43.1 328.8,39.9 328.9,41.2 328.9,40.1 328.9,36.3 329,47.6 329.1,38.1 329.1,43.7 329.1,45.6 329.2,46.9 329.2,46.2 329.3,36.5 329.4,36.8 329.4,37.4 329.4,37.8 329.5,39.2 329.6,36.5 329.6,37.7 329.6,48.1 329.7,46.1 329.8,45.6 329.8,40.0 329.9,40.3 329.9,42.0 329.9,28.5 330,41.7 330.1,38.0 330.1,36.4 330.1,39.5 330.2,41.9 330.2,38.3 330.3,36.6 330.4,46.7 330.4,33.1 330.4,43.6 330.5,34.1 330.6,39.5 330.6,31.9 330.6,40.1 330.7,31.8 330.8,34.8 330.8,40.6 330.9,35.1 330.9,43.8 330.9,38.6 331,38.1 331.1,36.4 331.1,34.9 331.1,38.9 331.2,34.9 331.2,41.2 331.3,36.1 331.4,41.5 331.4,41.1 331.4,38.9 331.5,42.4 331.6,41.5 331.6,44.1 331.6,47.2 331.7,41.0 331.8,36.6 331.8,41.8 331.9,37.9 331.9,33.6 331.9,44.3 332,37.1 332.1,43.4 332.1,38.1 332.1,40.9 332.2,40.0 332.2,45.1 332.3,47.5 332.4,39.9 332.4,35.6 332.4,30.1 332.5,37.2 332.6,33.4 332.6,37.8 332.6,36.8 332.7,40.3 332.8,35.3 332.8,43.1 332.9,40.5 332.9,35.5 332.9,38.2 333,36.9 333.1,38.7 333.1,38.5 333.1,37.7 333.2,34.8 333.2,47.9 333.3,40.7 333.4,43.6 333.4,38.2 333.4,43.0 333.5,34.8 333.6,41.3 333.6,37.8 333.6,39.2 333.7,41.4 333.8,46.5 333.8,56.8 333.9,27.9 333.9,45.7 333.9,35.9 334,37.8 334.1,48.1 334.1,41.5 334.1,40.8 334.2,39.2 334.2,36.3 334.3,41.5 334.4,36.9 334.4,38.3 334.4,39.5 334.5,37.8 334.6,42.3 334.6,34.5 334.6,37.3 334.7,43.2 334.8,29.7 334.8,35.8 334.9,44.0 334.9,41.8 334.9,45.2 335,39.5 335.1,37.4 335.1,43.5 335.1,45.8 335.2,43.5 335.2,39.4 335.3,41.4 335.4,36.9 335.4,35.8 335.4,41.6 335.5,36.4 335.6,36.5 335.6,36.1 335.6,36.7 335.7,42.9 335.8,42.3 335.8,44.0 335.9,46.3 335.9,45.1 335.9,36.1 336,33.2 336.1,37.8 336.1,46.9 336.1,40.6 336.2,34.2 336.2,53.0 336.3,33.9 336.4,34.8 336.4,35.3 336.4,33.1 336.5,31.8 336.6,40.9 336.6,35.7 336.6,42.9 336.7,40.4 336.8,37.4 336.8,32.3 336.9,36.4 336.9,33.6 336.9,35.3 337,39.0 337.1,36.8 337.1,40.7 337.1,40.7 337.2,40.9 337.2,37.5 337.3,42.5 337.4,36.6 337.4,27.3 337.4,30.8 337.5,34.0 337.6,45.9 337.6,37.0 337.6,37.2 337.7,39.7 337.8,37.5 337.8,40.4 337.9,46.9 337.9,38.7 337.9,41.0 338,34.7 338.1,36.1 338.1,43.3 338.1,41.4 338.2,38.0 338.2,40.9 338.3,35.8 338.4,36.7 338.4,41.1 338.4,34.9 338.5,38.1 338.6,35.6 338.6,32.7 338.6,35.1 338.7,39.4 338.8,34.1 338.8,39.1 338.9,38.9 338.9,47.2 338.9,41.2 339,39.0 339.1,43.2 339.1,44.4 339.1,33.9 339.2,48.2 339.2,48.8 339.3,46.5 339.4,47.7 339.4,49.7 339.4,50.5 339.5,51.2 339.6,50.8 339.6,49.6 339.6,49.7 339.7,41.3 339.8,38.0 339.8,34.2 339.9,41.4 339.9,40.3 339.9,47.4 340,43.4 340.1,45.6 340.1,40.1 340.1,39.6 340.2,41.0 340.2,43.8 340.3,43.4 340.4,34.3 340.4,40.5 340.4,45.0 340.5,42.5 340.6,42.2 340.6,44.5 340.6,42.4 340.7,33.9 340.8,39.5 340.8,43.7 340.9,30.3 340.9,44.8 340.9,43.7 341,38.1 341.1,40.1 341.1,37.3 341.1,45.1 341.2,41.3 341.2,42.9 341.3,39.0 341.4,40.8 341.4,41.6 341.4,44.4 341.5,42.0 341.6,44.2 341.6,39.9 341.6,39.7 341.7,37.6 341.8,36.3 341.8,44.7 341.9,38.9 341.9,40.1 341.9,34.9 342,43.0 342.1,42.3 342.1,44.3 342.1,38.6 342.2,48.6 342.2,38.5 342.3,40.9 342.4,34.5 342.4,41.0 342.4,39.6 342.5,36.1 342.6,41.5 342.6,40.0 342.6,40.6 342.7,61.2 342.8,40.8 342.8,42.6 342.9,36.1 342.9,42.3 342.9,41.5 343,57.3 343.1,36.3 343.1,39.1 343.1,44.1 343.2,40.1 343.2,40.7 343.3,39.8 343.4,38.5 343.4,36.6 343.4,36.6 343.5,33.6 343.6,42.3 343.6,42.4 343.6,39.2 343.7,33.4 343.8,39.8 343.8,39.2 343.9,40.9 343.9,41.8 343.9,39.3 344,46.0 344.1,44.2 344.1,40.5 344.1,38.6 344.2,33.5 344.2,37.9 344.3,44.0 344.4,36.9 344.4,40.3 344.4,41.9 344.5,46.8 344.6,41.0 344.6,38.7 344.6,40.3 344.7,42.8 344.8,39.5 344.8,44.0 344.9,37.5 344.9,37.5 344.9,39.2 345,39.6 345.1,44.0 345.1,48.0 345.1,45.5 345.2,36.5 345.2,30.3 345.3,44.6 345.4,37.2 345.4,44.7 345.4,40.7 345.5,38.3 345.6,40.7 345.6,38.4 345.6,44.6 345.7,47.6 345.8,39.8 345.8,37.1 345.9,42.7 345.9,51.9 345.9,46.7 346,42.5 346.1,42.7 346.1,42.8 346.1,33.1 346.2,48.0 346.2,41.9 346.3,36.1 346.4,45.4 346.4,42.5 346.4,40.0 346.5,38.0 346.6,41.1 346.6,43.0 346.6,43.3 346.7,36.1 346.8,39.7 346.8,38.5 346.9,61.3 346.9,60.6 346.9,59.3 347,61.3 347.1,62.4 347.1,62.9 347.1,61.8 347.2,62.2 347.2,60.4 347.3,62.6 347.4,61.9 347.4,57.7 347.4,62.4 347.5,64.2 347.6,41.7 347.6,39.0 347.6,43.6 347.7,42.8 347.8,37.3 347.8,45.3 347.9,52.6 347.9,41.2 347.9,38.5 348,37.1 348.1,42.6 348.1,42.2 348.1,43.6 348.2,46.4 348.2,35.8 348.3,42.2 348.4,43.9 348.4,39.7 348.4,41.7 348.5,42.6 348.6,45.2 348.6,40.9 348.6,40.7 348.7,38.3 348.8,36.1 348.8,40.4 348.9,43.2 348.9,42.4 348.9,38.0 349,33.8 349.1,42.8 349.1,37.7 349.1,31.9 349.2,37.3 349.2,40.0 349.3,41.6 349.4,41.5 349.4,37.4 349.4,35.8 349.5,35.8 349.6,33.0 349.6,37.9 349.6,39.8 349.7,37.6 349.8,37.6 349.8,36.5 349.9,42.1 349.9,35.3 349.9,33.0 350,31.4 350.1,38.7 350.1,37.3 350.1,37.4 350.2,35.7 350.2,36.3 350.3,40.8 350.4,35.8 350.4,43.6 350.4,42.1 350.5,36.3 350.6,43.1 350.6,34.2 350.6,39.6 350.7,39.6 350.8,42.3 350.8,40.5 350.9,38.1 350.9,42.0 350.9,40.3 351,40.3 351.1,34.7 351.1,34.8 351.1,39.8 351.2,40.5 351.2,40.2 351.3,35.6 351.4,39.0 351.4,37.9 351.4,40.2 351.5,45.2 351.6,41.4 351.6,44.6 351.6,39.3 351.7,39.5 351.8,37.4 351.8,39.5 351.9,38.0 351.9,41.5 351.9,41.4 352,42.0 352.1,44.5 352.1,46.1 352.1,42.1 352.2,34.9 352.2,32.2 352.3,38.6 352.4,39.3 352.4,36.5 352.4,35.7 352.5,34.5 352.6,43.8 352.6,38.7 352.6,38.6 352.7,33.6 352.8,39.0 352.8,38.3 352.9,38.3 352.9,39.2 352.9,45.8 353,45.4 353.1,38.9 353.1,45.9 353.1,31.7 353.2,37.5 353.2,39.6 353.3,41.1 353.4,44.0 353.4,40.2 353.4,40.3 353.5,41.8 353.6,46.2 353.6,43.3 353.6,38.4 353.7,40.7 353.8,46.3 353.8,42.3 353.9,38.7 353.9,42.1 353.9,36.7 354,36.2 354.1,47.2 354.1,32.0 354.1,45.8 354.2,39.4 354.2,39.0 354.3,45.5 354.4,37.2 354.4,42.7 354.4,40.7 354.5,36.7 354.6,34.1 354.6,43.0 354.6,34.0 354.7,41.5 354.8,41.5 354.8,39.6 354.9,45.0 354.9,42.1 354.9,37.7 355,35.8 355.1,42.9 355.1,42.3 355.1,46.9 355.2,39.0 355.2,38.4 355.3,41.9 355.4,38.7 355.4,40.7 355.4,43.2 355.5,35.6 355.6,38.1 355.6,36.8 355.6,45.3 355.7,43.5 355.8,43.9 355.8,40.1 355.9,43.6 355.9,42.0 355.9,42.4 356,43.0 356.1,44.3 356.1,34.9 356.1,40.4 356.2,38.5 356.2,33.7 356.3,35.9 356.4,44.2 356.4,40.5 356.4,41.0 356.5,39.9 356.6,39.1 356.6,40.9 356.6,42.1 356.7,40.4 356.8,40.7 356.8,41.7 356.9,38.2 356.9,32.4 356.9,40.7 357,38.7 357.1,42.1 357.1,39.9 357.1,35.5 357.2,37.7 357.2,42.2 357.3,37.1 357.4,38.1 357.4,40.0 357.4,41.6 357.5,35.2 357.6,34.0 357.6,41.5 357.6,37.8 357.7,38.0 357.8,36.5 357.8,38.0 357.9,41.0 357.9,40.0 357.9,41.7 358,44.7 358.1,38.0 358.1,44.3 358.1,43.3 358.2,36.2 358.2,45.1 358.3,44.3 358.4,35.7 358.4,36.3 358.4,40.3 358.5,41.2 358.6,35.9 358.6,38.1 358.6,34.2 358.7,39.6 358.8,37.9 358.8,48.9 358.9,41.2 358.9,44.7 358.9,39.7 359,44.4 359.1,40.6 359.1,34.7 359.1,36.6 359.2,39.5 359.2,33.8 359.3,40.4 359.4,38.7 359.4,45.4 359.4,45.0 359.5,46.6 359.6,39.0 359.6,45.4 359.6,33.5 359.7,35.5 359.8,39.2 359.8,37.3 359.9,48.4 359.9,41.6 359.9,43.3 360,43.2 360.1,44.2 360.1,44.5 360.1,38.7 360.2,42.4 360.2,38.1 360.3,36.1 360.4,39.0 360.4,40.2 360.4,40.4 360.5,44.2 360.6,40.8 360.6,39.2 360.6,42.1 360.7,44.0 360.8,43.9 360.8,40.8 360.9,43.5 360.9,46.7 360.9,44.5 361,42.8 361.1,44.8 361.1,41.9 361.1,37.5 361.2,36.6 361.2,36.6 361.3,41.3 361.4,43.8 361.4,39.9 361.4,37.2 361.5,55.6 361.6,39.1 361.6,40.8 361.6,43.0 361.7,35.9 361.8,44.4 361.8,42.0 361.9,35.8 361.9,37.7 361.9,44.7 362,34.0 362.1,41.7 362.1,38.2 362.1,40.3 362.2,44.7 362.2,45.9 362.3,46.1 362.4,44.6 362.4,42.2 362.4,38.1 362.5,43.7 362.6,38.1 362.6,39.2 362.6,39.8 362.7,43.6 362.8,38.4 362.8,42.4 362.9,42.5 362.9,43.9 362.9,46.3 363,37.6 363.1,42.8 363.1,40.7 363.1,42.9 363.2,43.5 363.2,39.9 363.3,40.5 363.4,49.5 363.4,43.6 363.4,37.1 363.5,45.4 363.6,42.3 363.6,38.9 363.6,42.4 363.7,40.8 363.8,38.5 363.8,53.5 363.9,53.4 363.9,50.5 363.9,53.8 364,53.5 364.1,49.7 364.1,50.4 364.1,48.5 364.2,51.0 364.2,49.2 364.3,48.8 364.4,59.7 364.4,53.1 364.4,52.2 364.5,50.0 364.6,51.1 364.6,42.9 364.6,39.3 364.7,37.5 364.8,42.6 364.8,47.0 364.9,45.3 364.9,47.7 364.9,40.6 365,43.6 365.1,42.4 365.1,48.4 365.1,39.4 365.2,42.6 365.2,40.6 365.3,49.6 365.4,42.6 365.4,39.0 365.4,55.1 365.5,42.2 365.6,39.7 365.6,45.6 365.6,42.4 365.7,50.7 365.8,40.7 365.8,41.9 365.9,45.9 365.9,40.5 365.9,40.8 366,37.5 366.1,51.5 366.1,44.5 366.1,40.0 366.2,40.8 366.2,42.4 366.3,42.9 366.4,46.8 366.4,43.5 366.4,48.9 366.5,46.7 366.6,43.6 366.6,43.0 366.6,38.2 366.7,44.5 366.8,40.9 366.8,37.9 366.9,37.8 366.9,41.1 366.9,37.7 367,39.4 367.1,40.7 367.1,38.2 367.1,45.1 367.2,41.3 367.2,40.9 367.3,38.9 367.4,41.3 367.4,42.3 367.4,46.6 367.5,51.2 367.6,47.8 367.6,42.6 367.6,40.2 367.7,38.6 367.8,42.9 367.8,37.0 367.9,45.4 367.9,40.2 367.9,58.1 368,46.2 368.1,39.8 368.1,47.8 368.1,42.0 368.2,47.9 368.2,46.0 368.3,40.2 368.4,42.9 368.4,44.1 368.4,41.8 368.5,39.9 368.6,43.4 368.6,46.0 368.6,48.0 368.7,37.6 368.8,41.4 368.8,37.3 368.9,43.9 368.9,43.9 368.9,39.6 369,47.6 369.1,43.6 369.1,41.9 369.1,40.6 369.2,57.6 369.2,44.1 369.3,39.8 369.4,42.1 369.4,41.5 369.4,39.3 369.5,38.2 369.6,38.3 369.6,46.1 369.6,45.4 369.7,47.8 369.8,43.3 369.8,40.0 369.9,44.2 369.9,42.6 369.9,42.8 370,45.5 370.1,42.7 370.1,52.6 370.1,40.0 370.2,37.5 370.2,35.3 370.3,37.5 370.4,38.3 370.4,39.0 370.4,49.5 370.5,41.3 370.6,45.5 370.6,38.2 370.6,39.6 370.7,41.4 370.8,45.4 370.8,47.5 370.9,45.8 370.9,43.6 370.9,44.1 371,41.8 371.1,42.2 371.1,37.0 371.1,47.7 371.2,39.1 371.2,48.3 371.3,44.0 371.4,53.6 371.4,41.7 371.4,36.3 371.5,43.3 371.6,42.4 371.6,47.9 371.6,44.9 371.7,36.6 371.8,45.2 371.8,47.6 371.9,42.3 371.9,47.8 371.9,43.5 372,46.6 372.1,45.3 372.1,45.2 372.1,44.2 372.2,37.6 372.2,41.8 372.3,49.2 372.4,38.8 372.4,38.6 372.4,46.9 372.5,46.3 372.6,44.7 372.6,45.9 372.6,45.6 372.7,44.4 372.8,41.9 372.8,47.3 372.9,49.2 372.9,49.5 372.9,37.8 373,43.9 373.1,43.2 373.1,45.8 373.1,44.9 373.2,52.8 373.2,43.9 373.3,50.1 373.4,39.3 373.4,42.7 373.4,49.7 373.5,52.1 373.6,37.2 373.6,48.0 373.6,37.0 373.7,47.4 373.8,46.6 373.8,36.9 373.9,48.8 373.9,39.0 373.9,50.7 374,47.3 374.1,44.1 374.1,37.9 374.1,42.3 374.2,44.1 374.2,44.2 374.3,40.9 374.4,35.2 374.4,43.6 374.4,46.5 374.5,41.0 374.6,46.4 374.6,44.6 374.6,40.8 374.7,44.7 374.8,44.8 374.8,44.1 374.9,39.5 374.9,34.9 374.9,45.2 375,41.9 375.1,44.4 375.1,41.5 375.1,43.5 375.2,40.2 375.2,46.4 375.3,43.5 375.4,49.2 375.4,39.8 375.4,44.3 375.5,42.2 375.6,47.0 375.6,44.9 375.6,40.5 375.7,43.9 375.8,48.2 375.8,42.3 375.9,40.6 375.9,44.4 375.9,41.5 376,44.3 376.1,42.1 376.1,43.0 376.1,48.6 376.2,47.2 376.2,46.6 376.3,43.1 376.4,45.0 376.4,38.6 376.4,34.5 376.5,39.8 376.6,41.4 376.6,34.4 376.6,47.8 376.7,40.0 376.8,44.9 376.8,40.8 376.9,43.2 376.9,44.1 376.9,48.0 377,43.6 377.1,40.4 377.1,39.1 377.1,44.4 377.2,39.6 377.2,43.3 377.3,39.8 377.4,48.6 377.4,36.8 377.4,42.8 377.5,39.1 377.6,43.9 377.6,47.6 377.6,39.3 377.7,41.7 377.8,43.4 377.8,45.3 377.9,41.6 377.9,40.7 377.9,44.1 378,35.3 378.1,39.8 378.1,39.9 378.1,44.9 378.2,39.7 378.2,35.1 378.3,36.3 378.4,47.4 378.4,43.1 378.4,34.5 378.5,44.9 378.6,33.1 378.6,38.4 378.6,38.5 378.7,43.1 378.8,41.7 378.8,43.7 378.9,47.6 378.9,40.3 378.9,43.0 379,42.1 379.1,48.1 379.1,43.0 379.1,38.9 379.2,42.6 379.2,36.6 379.3,53.3 379.4,41.4 379.4,38.9 379.4,42.8 379.5,39.0 379.6,44.1 379.6,37.6 379.6,41.3 379.7,38.7 379.8,46.4 379.8,32.4 379.9,42.6 379.9,39.9 379.9,34.9 380,42.1 380.1,40.2 380.1,32.8 380.1,43.0 380.2,46.5 380.2,50.9 380.3,37.3 380.4,41.1 380.4,42.5 380.4,34.8 380.5,38.5 380.6,38.2 380.6,40.8 380.6,39.4 380.7,42.9 380.8,41.7 380.8,37.7 380.9,41.9 380.9,41.2 380.9,39.5 381,39.4 381.1,53.8 381.1,38.9 381.1,42.7 381.2,47.3 381.2,37.9 381.3,38.1 381.4,43.5 381.4,42.5 381.4,47.9 381.5,37.3 381.6,39.4 381.6,42.3 381.6,43.5 381.7,42.9 381.8,41.0 381.8,43.9 381.9,44.8 381.9,40.2 381.9,40.7 382,45.3 382.1,44.0 382.1,36.2 382.1,40.4 382.2,37.5 382.2,37.8 382.3,34.1 382.4,44.6 382.4,38.0 382.4,41.4 382.5,40.8 382.6,38.7 382.6,42.5 382.6,35.9 382.7,47.1 382.8,40.3 382.8,38.6 382.9,43.0 382.9,41.7 382.9,44.9 383,39.6 383.1,37.8 383.1,46.2 383.1,33.0 383.2,35.6 383.2,42.8 383.3,42.7 383.4,43.3 383.4,42.9 383.4,41.9 383.5,43.0 383.6,38.4 383.6,50.2 383.6,39.2 383.7,38.2 383.8,42.0 383.8,37.3 383.9,45.5 383.9,43.1 383.9,41.5 384,40.8 384.1,40.1 384.1,42.0 384.1,41.7 384.2,45.0 384.2,41.7 384.3,45.3 384.4,43.6 384.4,33.2 384.4,38.6 384.5,35.8 384.6,44.4 384.6,41.2 384.6,36.1 384.7,39.2 384.8,37.1 384.8,43.7 384.9,43.6 384.9,43.2 384.9,41.3 385,47.6 385.1,39.5 385.1,44.5 385.1,41.1 385.2,39.6 385.2,41.1 385.3,42.4 385.4,39.8 385.4,43.6 385.4,40.8 385.5,35.9 385.6,45.0 385.6,35.3 385.6,44.3 385.7,39.3 385.8,43.2 385.8,41.7 385.9,44.5 385.9,44.5 385.9,44.3 386,45.8 386.1,40.0 386.1,45.7 386.1,30.7 386.2,41.6 386.2,42.5 386.3,41.6 386.4,39.3 386.4,39.4 386.4,43.0 386.5,38.3 386.6,41.4 386.6,41.0 386.6,35.3 386.7,39.5 386.8,39.5 386.8,42.0 386.9,41.5 386.9,35.8 386.9,34.3 387,39.3 387.1,38.1 387.1,42.5 387.1,38.6 387.2,48.4 387.2,41.2 387.3,37.9 387.4,45.3 387.4,38.2 387.4,38.1 387.5,46.2 387.6,49.2 387.6,41.7 387.6,37.9 387.7,41.9 387.8,45.7 387.8,40.0 387.9,45.3 387.9,41.6 387.9,45.3 388,40.3 388.1,42.1 388.1,43.3 388.1,45.3 388.2,44.4 388.2,40.4 388.3,44.8 388.4,39.8 388.4,50.7 388.4,48.0 388.5,45.2 388.6,49.1 388.6,44.6 388.6,38.6 388.7,45.7 388.8,43.5 388.8,32.6 388.9,44.4 388.9,47.0 388.9,45.9 389,44.6 389.1,46.4 389.1,41.6 389.1,50.1 389.2,45.8 389.2,36.7 389.3,39.7 389.4,34.9 389.4,40.5 389.4,46.6 389.5,46.4 389.6,39.6 389.6,46.8 389.6,44.9 389.7,43.7 389.8,44.4 389.8,35.7 389.9,41.1 389.9,46.2 389.9,36.4 390,39.2 390.1,53.1 390.1,46.5 390.1,39.9 390.2,38.4 390.2,41.2 390.3,46.2 390.4,48.9 390.4,43.3 390.4,37.9 390.5,36.0 390.6,48.5 390.6,41.3 390.6,42.4 390.7,43.1 390.8,42.7 390.8,43.3 390.9,43.5 390.9,48.7 390.9,35.1 391,43.6 391.1,49.9 391.1,33.4 391.1,48.8 391.2,45.6 391.2,44.1 391.3,40.5 391.4,44.8 391.4,45.1 391.4,42.4 391.5,46.0 391.6,59.5 391.6,39.8 391.6,46.1 391.7,41.7 391.8,39.7 391.8,43.3 391.9,37.4 391.9,42.6 391.9,39.6 392,39.9 392.1,37.0 392.1,44.3 392.1,42.2 392.2,42.2 392.2,39.1 392.3,38.3 392.4,49.1 392.4,39.1 392.4,39.5 392.5,40.3 392.6,43.3 392.6,44.9 392.6,43.3 392.7,40.8 392.8,44.7 392.8,34.0 392.9,41.6 392.9,45.5 392.9,43.6 393,44.2 393.1,42.3 393.1,42.3 393.1,40.5 393.2,40.7 393.2,42.6 393.3,43.4 393.4,41.9 393.4,48.2 393.4,41.2 393.5,45.4 393.6,42.4 393.6,38.5 393.6,44.3 393.7,40.8 393.8,42.0 393.8,45.7 393.9,44.4 393.9,41.1 393.9,37.3 394,38.1 394.1,37.1 394.1,39.7 394.1,41.5 394.2,44.4 394.2,41.4 394.3,41.1 394.4,44.8 394.4,41.8 394.4,66.0 394.5,46.1 394.6,40.3 394.6,36.6 394.6,56.3 394.7,44.1 394.8,40.5 394.8,39.4 394.9,34.7 394.9,38.6 394.9,39.9 395,45.6 395.1,40.8 395.1,37.6 395.1,40.0 395.2,40.7 395.2,46.1 395.3,44.7 395.4,38.1 395.4,45.5 395.4,43.1 395.5,35.4 395.6,33.0 395.6,38.9 395.6,38.4 395.7,72.5 395.8,40.4 395.8,45.7 395.9,37.6 395.9,49.2 395.9,36.7 396,32.6 396.1,39.8 396.1,38.6 396.1,48.4 396.2,38.7 396.2,40.1 396.3,42.1 396.4,39.8 396.4,42.4 396.4,38.6 396.5,42.5 396.6,51.1 396.6,40.8 396.6,41.3 396.7,43.9 396.8,42.3 396.8,46.8 396.9,37.5 396.9,37.3 396.9,47.0 397,41.2 397.1,62.6 397.1,38.4 397.1,40.7 397.2,44.6 397.2,42.8 397.3,52.3 397.4,52.9 397.4,55.7 397.4,57.4 397.5,55.1 397.6,55.1 397.6,56.3 397.6,54.5 397.7,54.6 397.8,55.9 397.8,59.5 397.9,56.9 397.9,69.4 397.9,43.0 398,42.6 398.1,41.8 398.1,39.1 398.1,51.4 398.2,47.5 398.2,48.1 398.3,43.6 398.4,45.8 398.4,39.9 398.4,38.7 398.5,44.5 398.6,42.9 398.6,44.1 398.6,70.9 398.7,46.3 398.8,45.9 398.8,41.4 398.9,38.0 398.9,42.5 398.9,36.7 399,43.8 399.1,46.9 399.1,43.7 399.1,35.7 399.2,43.5 399.2,41.8 399.3,47.5 399.4,47.9 399.4,37.6 399.4,45.7 399.5,42.4 399.6,44.2 399.6,46.9 399.6,43.1 399.7,45.6 399.8,38.0 399.8,49.1 399.9,44.2 399.9,49.0 399.9,43.0 400,41.2 400.1,44.0 400.1,50.3 400.1,38.5 400.2,38.5 400.2,47.6 400.3,47.3 400.4,47.7 400.4,39.4 400.4,46.1 400.5,43.8 400.6,52.7 400.6,42.3 400.6,45.5 400.7,48.3 400.8,38.9 400.8,47.5 400.9,35.8 400.9,48.6 400.9,72.8 401,68.3 401.1,71.5 401.1,70.3 401.1,70.8 401.2,70.5 401.2,69.9 401.3,70.7 401.4,73.6 401.4,68.7 401.4,71.7 401.5,72.9 401.6,72.8 401.6,70.5 401.6,70.2 401.7,68.5 401.8,71.9 401.8,38.9 401.9,39.1 401.9,68.4 401.9,47.7 402,41.5 402.1,62.6 402.1,46.2 402.1,44.0 402.2,45.8 402.2,54.7 402.3,38.6 402.4,50.3 402.4,74.1 402.4,40.7 402.5,45.7 402.6,43.3 402.6,44.5 402.6,47.8 402.7,51.9 402.8,42.4 402.8,56.6 402.9,54.2 402.9,43.9 402.9,60.9 403,54.1 403.1,49.7 403.1,63.3 403.1,43.1 403.2,56.2 403.2,54.9 403.3,54.8 403.4,59.9 403.4,53.9 403.4,53.1 403.5,51.1 403.6,49.6 403.6,51.6 403.6,52.8 403.7,53.9 403.8,53.3 403.8,55.7 403.9,52.5 403.9,54.9 403.9,52.2 404,54.1 404.1,51.7 404.1,53.3 404.1,49.5 404.2,52.8 404.2,47.8 404.3,56.0 404.4,53.0 404.4,53.0 404.4,53.0 404.5,48.6 404.6,49.8 404.6,51.8 404.6,53.5 404.7,51.5 404.8,48.7 404.8,50.4 404.9,52.6 404.9,43.2 404.9,46.1 405,47.7 405.1,49.7 405.1,39.8 405.1,36.4 405.2,39.3 405.2,49.4 405.3,43.3 405.4,75.2 405.4,47.5 405.4,40.6 405.5,40.3 405.6,40.3 405.6,48.2 405.6,42.1 405.7,41.1 405.8,49.1 405.8,42.5 405.9,45.6 405.9,41.0 405.9,43.8 406,46.2 406.1,51.3 406.1,49.5 406.1,45.1 406.2,45.5 406.2,68.1 406.3,46.3 406.4,42.9 406.4,46.3 406.4,41.7 406.5,45.6 406.6,46.1 406.6,47.3 406.6,47.2 406.7,43.1 406.8,64.7 406.8,42.3 406.9,72.7 406.9,55.4 406.9,41.7 407,71.6 407.1,43.5 407.1,43.1 407.1,55.2 407.2,41.2 407.2,48.3 407.3,45.1 407.4,34.4 407.4,47.5 407.4,44.1 407.5,39.9 407.6,46.1 407.6,50.0 407.6,41.3 407.7,45.9 407.8,42.6 407.8,50.3 407.9,56.8 407.9,47.4 407.9,40.7 408,45.9 408.1,43.9 408.1,48.5 408.1,41.1 408.2,46.2 408.2,48.6 408.3,51.8 408.4,54.5 408.4,38.4 408.4,41.3 408.5,42.2 408.6,48.3 408.6,50.0 408.6,41.6 408.7,40.9 408.8,45.5 408.8,43.7 408.9,43.5 408.9,42.5 408.9,48.4 409,47.1 409.1,73.3 409.1,42.3 409.1,54.9 409.2,44.5 409.2,43.7 409.3,44.5 409.4,41.9 409.4,47.5 409.4,39.8 409.5,51.4 409.6,42.1 409.6,50.9 409.6,42.7 409.7,62.0 409.8,46.2 409.8,42.2 409.9,48.0 409.9,51.3 409.9,48.7 410,47.1 410.1,44.4 410.1,43.2 410.1,45.0 410.2,53.0 410.2,47.1 410.3,45.3 410.4,43.8 410.4,43.8 410.4,46.6 410.5,68.2 410.6,42.6 410.6,40.7 410.6,64.9 410.7,67.0 410.8,70.8 410.8,68.5 410.9,67.7 410.9,69.0 410.9,68.3 411,64.6 411.1,67.7 411.1,64.0 411.1,66.8 411.2,65.6 411.2,40.5 411.3,42.3 411.4,43.2 411.4,44.0 411.4,49.0 411.5,48.7 411.6,48.7 411.6,50.5 411.6,36.3 411.7,49.4 411.8,46.8 411.8,39.3 411.9,51.2 411.9,41.7 411.9,45.5 412,42.7 412.1,51.4 412.1,42.6 412.1,45.2 412.2,43.1 412.2,47.0 412.3,44.8 412.4,51.9 412.4,42.9 412.4,47.1 412.5,45.2 412.6,47.5 412.6,40.8 412.6,48.4 412.7,51.4 412.8,44.4 412.8,52.0 412.9,43.0 412.9,41.5 412.9,40.0 413,42.3 413.1,59.0 413.1,42.3 413.1,40.7 413.2,35.5 413.2,45.7 413.3,43.8 413.4,43.7 413.4,50.2 413.4,44.6 413.5,44.3 413.6,52.2 413.6,45.6 413.6,50.4 413.7,48.4 413.8,46.9 413.8,42.1 413.9,37.8 413.9,48.5 413.9,53.6 414,37.1 414.1,46.8 414.1,73.4 414.1,47.4 414.2,45.5 414.2,43.0 414.3,46.3 414.4,50.7 414.4,49.0 414.4,71.6 414.5,47.4 414.6,42.4 414.6,66.3 414.6,46.7 414.7,44.5 414.8,49.7 414.8,45.5 414.9,70.0 414.9,47.5 414.9,45.1 415,41.0 415.1,49.9 415.1,50.2 415.1,50.0 415.2,46.6 415.2,39.6 415.3,48.5 415.4,42.3 415.4,43.5 415.4,43.0 415.5,48.3 415.6,42.7 415.6,44.4 415.6,39.8 415.7,46.2 415.8,44.6 415.8,46.3 415.9,48.7 415.9,48.9 415.9,46.7 416,38.2 416.1,47.4 416.1,50.4 416.1,46.6 416.2,44.1 416.2,46.4 416.3,42.0 416.4,45.6 416.4,45.9 416.4,42.4 416.5,50.6 416.6,40.4 416.6,48.1 416.6,43.6 416.7,38.1 416.8,50.2 416.8,48.7 416.9,43.5 416.9,44.1 416.9,46.6 417,46.8 417.1,44.8 417.1,43.7 417.1,38.8 417.2,46.3 417.2,36.0 417.3,35.0 417.4,46.7 417.4,44.7 417.4,46.1 417.5,42.6 417.6,63.5 417.6,39.9 417.6,42.5 417.7,41.3 417.8,39.5 417.8,44.4 417.9,38.4 417.9,40.7 417.9,46.1 418,46.4 418.1,41.8 418.1,45.4 418.1,45.4 418.2,43.6 418.2,42.4 418.3,46.8 418.4,41.9 418.4,48.0 418.4,45.1 418.5,46.1 418.6,49.7 418.6,41.4 418.6,47.4 418.7,44.8 418.8,43.6 418.8,43.4 418.9,43.9 418.9,45.0 418.9,43.3 419,41.0 419.1,45.5 419.1,51.6 419.1,41.3 419.2,42.1 419.2,43.2 419.3,40.6 419.4,46.6 419.4,45.8 419.4,49.3 419.5,46.0 419.6,38.4 419.6,43.7 419.6,49.9 419.7,46.3 419.8,44.5 419.8,38.1 419.9,43.8 419.9,48.2 419.9,46.2 420,43.1 420.1,48.3 420.1,45.3 420.1,44.4 420.2,49.8 420.2,61.7 420.3,43.5 420.4,41.5 420.4,54.3 420.4,41.4 420.5,42.8 420.6,46.6 420.6,37.9 420.6,47.5 420.7,38.9 420.8,47.3 420.8,46.7 420.9,51.7 420.9,44.2 420.9,37.1 421,47.4 421.1,44.9 421.1,50.8 421.1,52.0 421.2,41.3 421.2,46.2 421.3,38.1 421.4,36.1 421.4,40.2 421.4,44.7 421.5,40.5 421.6,44.4 421.6,44.4 421.6,47.6 421.7,45.9 421.8,41.9 421.8,43.5 421.9,42.1 421.9,44.0 421.9,44.4 422,40.9 422.1,43.8 422.1,43.5 422.1,42.2 422.2,37.9 422.2,49.2 422.3,46.0 422.4,49.8 422.4,46.4 422.4,36.4 422.5,39.8 422.6,48.7 422.6,45.7 422.6,38.7 422.7,46.6 422.8,48.0 422.8,46.1 422.9,43.6 422.9,47.9 422.9,40.9 423,48.3 423.1,40.1 423.1,42.1 423.1,44.1 423.2,37.1 423.2,46.2 423.3,38.6 423.4,35.2 423.4,48.1 423.4,39.9 423.5,45.0 423.6,39.5 423.6,40.8 423.6,43.3 423.7,44.2 423.8,45.4 423.8,49.1 423.9,40.9 423.9,39.7 423.9,46.0 424,50.7 424.1,43.4 424.1,39.0 424.1,42.5 424.2,50.5 424.2,42.7 424.3,40.7 424.4,44.9 424.4,41.9 424.4,36.9 424.5,43.5 424.6,45.6 424.6,50.5 424.6,37.6 424.7,45.1 424.8,43.5 424.8,47.4 424.9,42.3 424.9,48.9 424.9,48.5 425,41.2 425.1,45.3 425.1,42.1 425.1,45.2 425.2,46.3 425.2,42.0 425.3,39.7 425.4,40.1 425.4,37.9 425.4,41.4 425.5,46.2 425.6,36.0 425.6,39.7 425.6,41.8 425.7,44.1 425.8,38.8 425.8,42.8 425.9,51.5 425.9,47.7 425.9,36.3 426,41.4 426.1,46.5 426.1,57.7 426.1,47.6 426.2,43.8 426.2,50.9 426.3,42.5 426.4,42.5 426.4,40.0 426.4,41.9 426.5,49.4 426.6,46.2 426.6,38.5 426.6,50.5 426.7,44.7 426.8,41.8 426.8,43.7 426.9,48.5 426.9,52.4 426.9,46.9 427,50.5 427.1,47.4 427.1,47.7 427.1,47.8 427.2,47.5 427.2,47.4 427.3,46.2 427.4,36.0 427.4,40.1 427.4,49.7 427.5,46.0 427.6,49.2 427.6,43.3 427.6,42.1 427.7,41.9 427.8,44.6 427.8,46.6 427.9,49.2 427.9,37.1 427.9,45.5 428,44.2 428.1,42.9 428.1,37.8 428.1,39.4 428.2,44.6 428.2,45.3 428.3,39.0 428.4,42.1 428.4,44.5 428.4,59.7 428.5,42.4 428.6,51.0 428.6,43.3 428.6,41.3 428.7,37.6 428.8,42.6 428.8,45.5 428.9,48.1 428.9,43.6 428.9,47.2 429,42.0 429.1,45.2 429.1,45.3 429.1,45.0 429.2,45.0 429.2,50.3 429.3,41.8 429.4,39.4 429.4,47.5 429.4,45.0 429.5,42.9 429.6,41.9 429.6,48.6 429.6,47.5 429.7,49.1 429.8,41.1 429.8,47.8 429.9,40.7 429.9,39.7 429.9,39.4 430,49.3 430.1,43.8 430.1,43.9 430.1,39.3 430.2,44.7 430.2,46.7 430.3,42.7 430.4,47.8 430.4,42.9 430.4,44.6 430.5,39.0 430.6,51.6 430.6,64.0 430.6,51.8 430.7,46.9 430.8,45.3 430.8,48.3 430.9,39.5 430.9,44.2 430.9,44.1 431,44.2 431.1,43.6 431.1,45.7 431.1,40.4 431.2,44.4 431.2,41.0 431.3,38.7 431.4,50.9 431.4,44.6 431.4,38.2 431.5,58.8 431.6,43.5 431.6,42.9 431.6,50.0 431.7,42.9 431.8,48.5 431.8,51.2 431.9,38.3 431.9,45.8 431.9,48.5 432,48.4 432.1,48.9 432.1,52.1 432.1,46.2 432.2,37.4 432.2,54.4 432.3,45.9 432.4,48.5 432.4,47.0 432.4,43.8 432.5,57.6 432.6,36.5 432.6,39.3 432.6,60.1 432.7,37.6 432.8,44.4 432.8,46.5 432.9,41.6 432.9,39.3 432.9,48.8 433,44.6 433.1,46.1 433.1,43.6 433.1,39.0 433.2,48.8 433.2,45.3 433.3,42.1 433.4,52.3 433.4,38.6 433.4,45.0 433.5,43.1 433.6,41.9 433.6,45.4 433.6,46.5 433.7,43.0 433.8,47.7 433.8,45.0 433.9,41.8 433.9,41.5 433.9,42.4 434,36.9 434.1,43.4 434.1,39.2 434.1,42.6 434.2,42.7 434.2,47.3 434.3,46.1 434.4,39.8 434.4,42.6 434.4,37.5 434.5,43.6 434.6,47.4 434.6,42.0 434.6,39.6 434.7,44.2 434.8,44.1 434.8,40.5 434.9,38.5 434.9,45.6 434.9,39.9 435,49.6 435.1,40.8 435.1,39.8 435.1,37.3 435.2,44.8 435.2,42.8 435.3,41.7 435.4,40.8 435.4,39.0 435.4,47.6 435.5,48.1 435.6,53.4 435.6,40.2 435.6,50.8 435.7,43.7 435.8,45.6 435.8,44.2 435.9,39.9 435.9,39.8 435.9,44.7 436,46.5 436.1,47.7 436.1,44.2 436.1,56.6 436.2,44.0 436.2,42.1 436.3,49.4 436.4,34.2 436.4,44.2 436.4,46.1 436.5,50.4 436.6,59.9 436.6,39.7 436.6,45.1 436.7,38.9 436.8,50.1 436.8,42.4 436.9,40.0 436.9,46.8 436.9,43.8 437,43.6 437.1,40.4 437.1,42.4 437.1,42.9 437.2,37.8 437.2,41.8 437.3,44.5 437.4,38.4 437.4,49.3 437.4,51.5 437.5,36.8 437.6,42.6 437.6,47.7 437.6,42.6 437.7,45.2 437.8,42.4 437.8,43.8 437.9,43.6 437.9,41.3 437.9,42.2 438,43.0 438.1,41.3 438.1,44.0 438.1,46.6 438.2,48.1 438.2,45.1 438.3,47.0 438.4,64.3 438.4,43.2 438.4,42.8 438.5,45.5 438.6,41.4 438.6,49.3 438.6,42.0 438.7,48.4 438.8,44.2 438.8,40.9 438.9,46.7 438.9,49.5 438.9,47.3 439,47.3 439.1,35.5 439.1,36.5 439.1,43.6 439.2,47.1 439.2,44.2 439.3,41.3 439.4,48.8 439.4,49.6 439.4,50.7 439.5,48.8 439.6,53.1 439.6,48.7 439.6,49.2 439.7,37.9 439.8,42.2 439.8,55.5 439.9,54.9 439.9,46.9 439.9,65.1 440,64.4 440.1,60.5 440.1,64.2 440.1,43.2 440.2,44.9 440.2,38.0 440.3,47.6 440.4,62.4 440.4,39.9 440.4,48.1 440.5,45.3 440.6,43.3 440.6,55.8 440.6,46.6 440.7,47.6 440.8,44.9 440.8,36.8 440.9,53.3 440.9,48.4 440.9,47.4 441,47.2 441.1,55.3 441.1,49.5 441.1,51.4 441.2,45.7 441.2,46.9 441.3,46.3 441.4,39.3 441.4,42.4 441.4,45.6 441.5,44.5 441.6,56.8 441.6,49.7 441.6,47.0 441.7,48.0 441.8,45.2 441.8,44.9 441.9,40.2 441.9,58.1 441.9,38.0 442,47.3 442.1,49.1 442.1,43.2 442.1,44.3 442.2,50.6 442.2,44.3 442.3,45.0 442.4,43.0 442.4,43.5 442.4,44.0 442.5,46.0 442.6,42.4 442.6,49.8 442.6,44.4 442.7,49.3 442.8,47.5 442.8,44.5 442.9,48.1 442.9,50.5 442.9,47.9 443,45.6 443.1,43.9 443.1,43.6 443.1,45.1 443.2,39.6 443.2,41.1 443.3,42.8 443.4,46.1 443.4,42.4 443.4,41.0 443.5,46.2 443.6,43.5 443.6,41.3 443.6,44.8 443.7,46.5 443.8,49.5 443.8,47.2 443.9,45.9 443.9,45.1 443.9,46.2 444,47.2 444.1,45.5 444.1,42.9 444.1,43.5 444.2,45.7 444.2,51.8 444.3,42.2 444.4,40.2 444.4,41.3 444.4,42.4 444.5,48.8 444.6,39.9 444.6,46.6 444.6,46.2 444.7,48.2 444.8,43.1 444.8,36.6 444.9,43.7 444.9,33.7 444.9,41.5 445,44.1 445.1,46.7 445.1,45.2 445.1,46.0 445.2,49.1 445.2,48.2 445.3,48.1 445.4,38.4 445.4,47.5 445.4,50.3 445.5,38.8 445.6,38.0 445.6,36.0 445.6,45.6 445.7,40.0 445.8,40.1 445.8,45.5 445.9,34.2 445.9,49.1 445.9,44.5 446,40.4 446.1,45.3 446.1,45.4 446.1,37.8 446.2,45.4 446.2,44.7 446.3,44.2 446.4,50.7 446.4,45.9 446.4,43.7 446.5,43.0 446.6,42.0 446.6,49.1 446.6,47.9 446.7,47.3 446.8,42.2 446.8,44.0 446.9,38.9 446.9,42.1 446.9,54.0 447,48.7 447.1,40.0 447.1,41.3 447.1,40.6 447.2,44.3 447.2,63.6 447.3,52.2 447.4,47.4 447.4,43.0 447.4,37.5 447.5,47.0 447.6,41.4 447.6,42.6 447.6,39.8 447.7,40.7 447.8,46.5 447.8,45.6 447.9,42.6 447.9,50.3 447.9,45.5 448,40.5 448.1,41.2 448.1,48.2 448.1,43.9 448.2,37.3 448.2,38.4 448.3,39.0 448.4,43.8 448.4,43.7 448.4,40.2 448.5,47.0 448.6,45.7 448.6,47.8 448.6,44.1 448.7,44.6 448.8,41.0 448.8,42.5 448.9,47.7 448.9,42.2 448.9,52.1 449,39.9 449.1,46.8 449.1,40.6 449.1,42.9 449.2,45.4 449.2,46.7 449.3,37.2 449.4,48.0 449.4,47.6 449.4,44.2 449.5,46.0 449.6,45.9 449.6,42.0 449.6,41.5 449.7,40.5 449.8,38.8 449.8,39.9 449.9,46.0 449.9,38.8 449.9,43.7 450,35.8 450.1,41.0 450.1,52.8 450.1,42.5 450.2,33.7 450.2,38.9 450.3,48.7 450.4,37.5 450.4,41.4 450.4,48.4 450.5,36.7 450.6,50.6 450.6,44.8 450.6,49.3 450.7,38.9 450.8,42.2 450.8,47.0 450.9,41.7 450.9,45.8 450.9,39.6 451,43.5 451.1,45.3 451.1,40.8 451.1,51.3 451.2,38.7 451.2,46.3 451.3,42.2 451.4,44.6 451.4,41.7 451.4,53.4 451.5,41.2 451.6,42.8 451.6,42.8 451.6,46.1 451.7,43.4 451.8,40.4 451.8,36.7 451.9,45.8 451.9,41.1 451.9,42.2 452,42.8 452.1,48.1 452.1,38.9 452.1,43.0 452.2,41.7 452.2,39.4 452.3,43.1 452.4,45.8 452.4,48.7 452.4,44.5 452.5,45.0 452.6,41.1 452.6,45.8 452.6,40.6 452.7,41.8 452.8,50.1 452.8,37.3 452.9,37.7 452.9,46.2 452.9,42.1 453,41.7 453.1,38.9 453.1,43.8 453.1,38.4 453.2,48.2 453.2,43.9 453.3,48.8 453.4,46.0 453.4,46.1 453.4,44.5 453.5,44.2 453.6,39.2 453.6,42.9 453.6,48.3 453.7,41.6 453.8,36.5 453.8,40.7 453.9,47.1 453.9,37.6 453.9,44.0 454,40.4 454.1,46.3 454.1,48.2 454.1,40.1 454.2,42.4 454.2,35.2 454.3,42.6 454.4,44.7 454.4,45.7 454.4,55.4 454.5,43.6 454.6,48.6 454.6,55.7 454.6,55.7 454.7,56.0 454.8,54.3 454.8,52.4 454.9,51.2 454.9,55.1 454.9,57.5 455,55.6 455.1,52.5 455.1,58.6 455.1,55.4 455.2,44.1 455.2,57.9 455.3,47.6 455.4,63.0 455.4,44.6 455.4,53.1 455.5,51.8 455.6,53.3 455.6,48.3 455.6,51.2 455.7,55.0 455.8,50.5 455.8,50.6 455.9,56.3 455.9,55.0 455.9,77.6 456,55.7 456.1,67.0 456.1,80.7 456.1,56.5 456.2,57.1 456.2,87.0 456.3,69.6 456.4,57.1 456.4,72.6 456.4,69.7 456.5,71.1 456.6,69.2 456.6,83.0 456.6,58.3 456.7,55.8 456.8,49.5 456.8,56.4 456.9,61.1 456.9,86.2 456.9,86.3 457,75.1 457.1,83.9 457.1,70.5 457.1,67.9 457.2,82.7 457.2,60.4 457.3,65.1 457.4,81.8 457.4,85.0 457.4,50.1 457.5,56.9 457.6,86.6 457.6,85.8 457.6,84.6 457.7,84.4 457.8,78.5 457.8,77.7 457.9,85.3 457.9,82.1 457.9,83.2 458,83.1 458.1,83.3 458.1,86.1 458.1,83.7 458.2,84.4 458.2,84.0 458.3,85.4 458.4,81.9 458.4,84.2 458.4,86.8 458.5,71.2 458.6,61.4 458.6,62.4 458.6,52.9 458.7,54.5 458.8,76.6 458.8,61.4 458.9,65.2 458.9,58.3 458.9,56.9 459,55.8 459.1,53.5 459.1,54.7 459.1,55.5 459.2,76.8 459.2,50.3 459.3,71.8 459.4,70.1 459.4,72.3 459.4,69.0 459.5,71.7 459.6,69.2 459.6,69.0 459.6,70.0 459.7,71.0 459.8,69.1 459.8,68.1 459.9,68.3 459.9,65.8 459.9,69.8 460,67.4 460.1,67.2 460.1,69.9 460.1,67.8 460.2,67.9 460.2,71.4 460.3,66.4 460.4,71.5 460.4,70.8 460.4,72.0 460.5,72.1 460.6,70.3 460.6,52.4 460.6,49.6 460.7,43.7 460.8,49.5 460.8,44.8 460.9,53.8 460.9,47.6 460.9,47.0 461,48.9 461.1,46.3 461.1,45.9 461.1,46.4 461.2,52.8 461.2,48.4 461.3,49.7 461.4,49.3 461.4,44.0 461.4,47.3 461.5,66.1 461.6,50.7 461.6,40.1 461.6,41.5 461.7,32.4 461.8,46.7 461.8,64.7 461.9,44.5 461.9,42.7 461.9,63.5 462,43.8 462.1,46.7 462.1,42.3 462.1,49.8 462.2,42.1 462.2,43.7 462.3,40.7 462.4,44.8 462.4,47.5 462.4,43.6 462.5,48.6 462.6,72.7 462.6,48.6 462.6,63.1 462.7,46.6 462.8,47.6 462.8,35.7 462.9,38.8 462.9,45.1 462.9,48.4 463,44.5 463.1,40.8 463.1,42.1 463.1,72.7 463.2,47.2 463.2,47.3 463.3,46.3 463.4,51.2 463.4,45.1 463.4,40.3 463.5,46.6 463.6,45.1 463.6,45.5 463.6,50.8 463.7,52.9 463.8,41.2 463.8,46.3 463.9,48.2 463.9,45.3 463.9,47.5 464,44.9 464.1,45.9 464.1,43.1 464.1,47.1 464.2,43.6 464.2,48.4 464.3,44.3 464.4,45.2 464.4,44.3 464.4,42.2 464.5,46.2 464.6,46.9 464.6,41.7 464.6,54.5 464.7,47.0 464.8,48.1 464.8,53.9 464.9,38.5 464.9,75.4 464.9,66.3 465,49.0 465.1,48.4 465.1,45.0 465.1,53.9 465.2,51.1 465.2,53.6 465.3,47.1 465.4,37.0 465.4,48.8 465.4,43.8 465.5,39.3 465.6,42.5 465.6,41.7 465.6,55.6 465.7,49.5 465.8,54.1 465.8,46.0 465.9,49.1 465.9,45.6 465.9,48.6 466,45.0 466.1,40.3 466.1,60.4 466.1,45.0 466.2,48.1 466.2,44.3 466.3,46.2 466.4,47.5 466.4,47.5 466.4,51.8 466.5,49.0 466.6,50.5 466.6,51.2 466.6,52.9 466.7,51.1 466.8,46.4 466.8,54.8 466.9,46.4 466.9,48.8 466.9,49.0 467,42.5 467.1,50.1 467.1,49.5 467.1,44.4 467.2,55.4 467.2,47.7 467.3,53.6 467.4,49.7 467.4,48.8 467.4,42.8 467.5,54.9 467.6,47.6 467.6,44.8 467.6,47.5 467.7,78.6 467.8,44.5 467.8,50.5 467.9,67.4 467.9,42.0 467.9,47.1 468,46.4 468.1,48.3 468.1,49.6 468.1,52.0 468.2,45.6 468.2,45.2 468.3,43.3 468.4,44.4 468.4,48.9 468.4,44.6 468.5,49.5 468.6,52.4 468.6,48.7 468.6,51.7 468.7,51.9 468.8,47.5 468.8,45.0 468.9,44.4 468.9,43.9 468.9,45.8 469,72.0 469.1,45.5 469.1,48.3 469.1,41.3 469.2,55.4 469.2,48.4 469.3,58.4 469.4,43.5 469.4,48.8 469.4,50.5 469.5,54.0 469.6,49.7 469.6,48.8 469.6,44.5 469.7,47.5 469.8,49.3 469.8,76.3 469.9,47.4 469.9,48.3 469.9,47.9 470,42.2 470.1,46.7 470.1,49.3 470.1,51.7 470.2,53.9 470.2,50.4 470.3,40.7 470.4,61.4 470.4,53.0 470.4,49.6 470.5,46.9 470.6,53.6 470.6,55.6 470.6,56.3 470.7,50.8 470.8,64.4 470.8,42.9 470.9,61.3 470.9,58.5 470.9,51.8 471,46.9 471.1,52.1 471.1,52.9 471.1,56.0 471.2,52.3 471.2,55.7 471.3,59.3 471.4,52.3 471.4,59.4 471.4,53.1 471.5,57.3 471.6,52.9 471.6,49.9 471.6,48.5 471.7,60.0 471.8,52.9 471.8,53.3 471.9,49.0 471.9,51.1 471.9,57.5 472,57.3 472.1,45.9 472.1,47.1 472.1,58.8 472.2,45.4 472.2,57.7 472.3,53.8 472.4,57.7 472.4,49.2 472.4,58.5 472.5,53.7 472.6,55.5 472.6,53.3 472.6,58.4 472.7,57.7 472.8,48.0 472.8,56.6 472.9,58.6 472.9,52.8 472.9,54.1 473,67.7 473.1,48.5 473.1,50.9 473.1,55.6 473.2,52.8 473.2,53.3 473.3,54.9 473.4,57.1 473.4,54.7 473.4,73.9 473.5,56.8 473.6,73.0 473.6,62.0 473.6,51.2 473.7,55.8 473.8,50.0 473.8,54.1 473.9,57.5 473.9,63.7 473.9,55.1 474,53.2 474.1,52.1 474.1,58.6 474.1,52.7 474.2,56.1 474.2,57.5 474.3,59.5 474.4,53.8 474.4,52.9 474.4,52.9 474.5,50.2 474.6,57.7 474.6,56.7 474.6,60.2 474.7,53.2 474.8,63.4 474.8,48.9 474.9,45.0 474.9,51.9 474.9,50.4 475,59.6 475.1,69.0 475.1,56.8 475.1,58.3 475.2,50.7 475.2,54.1 475.3,50.2 475.4,52.9 475.4,47.1 475.4,52.9 475.5,55.1 475.6,54.4 475.6,62.3 475.6,58.3 475.7,51.4 475.8,56.3 475.8,51.6 475.9,45.3 475.9,46.7 475.9,57.2 476,50.5 476.1,50.6 476.1,52.7 476.1,51.3 476.2,54.8 476.2,61.3 476.3,57.1 476.4,61.7 476.4,56.0 476.4,56.4 476.5,53.6 476.6,55.6 476.6,54.9 476.6,50.1 476.7,53.0 476.8,59.7 476.8,64.0 476.9,51.5 476.9,59.6 476.9,61.7 477,57.7 477.1,54.3 477.1,54.5 477.1,55.7 477.2,54.9 477.2,56.0 477.3,50.0 477.4,49.9 477.4,45.5 477.4,48.7 477.5,54.8 477.6,49.0 477.6,51.1 477.6,55.7 477.7,54.5 477.8,58.8 477.8,54.8 477.9,53.1 477.9,63.5 477.9,51.6 478,54.0 478.1,56.6 478.1,56.7 478.1,58.0 478.2,46.2 478.2,51.5 478.3,53.0 478.4,55.2 478.4,51.6 478.4,56.1 478.5,56.8 478.6,52.4 478.6,56.3 478.6,54.2 478.7,47.2 478.8,52.8 478.8,58.1 478.9,59.5 478.9,52.1 478.9,59.0 479,56.7 479.1,75.3 479.1,46.8 479.1,56.2 479.2,55.1 479.2,68.0 479.3,51.2 479.4,50.1 479.4,75.9 479.4,57.5 479.5,54.0 479.6,54.8 479.6,55.7 479.6,61.4 479.7,53.0 479.8,54.5 479.8,55.7 479.9,52.1 479.9,58.8 479.9,57.4 480,55.5 480.1,55.2 480.1,55.1 480.1,59.2 480.2,63.8 480.2,53.9 480.3,47.8 480.4,51.9 480.4,46.5 480.4,51.6 480.5,53.2 480.6,54.6 480.6,46.9 480.6,46.7 480.7,46.4 480.8,54.7 480.8,59.4 480.9,56.4 480.9,52.1 480.9,52.2 481,65.7 481.1,57.0 481.1,54.5 481.1,46.9 481.2,56.6 481.2,49.4 481.3,54.6 481.4,58.7 481.4,49.6 481.4,58.3 481.5,60.8 481.6,72.3 481.6,55.8 481.6,52.6 481.7,53.0 481.8,59.2 481.8,75.8 481.9,52.4 481.9,54.9 481.9,57.2 482,55.7 482.1,52.3 482.1,52.0 482.1,54.4 482.2,54.8 482.2,60.4 482.3,51.5 482.4,53.7 482.4,46.6 482.4,59.1 482.5,61.7 482.6,54.3 482.6,53.2 482.6,49.6 482.7,56.9 482.8,56.5 482.8,50.3 482.9,54.8 482.9,53.6 482.9,54.8 483,52.2 483.1,55.4 483.1,52.6 483.1,51.4 483.2,51.7 483.2,47.9 483.3,54.5 483.4,49.0 483.4,56.3 483.4,52.3 483.5,53.3 483.6,54.9 483.6,59.3 483.6,50.1 483.7,57.8 483.8,51.6 483.8,51.8 483.9,60.1 483.9,56.1 483.9,47.8 484,48.3 484.1,56.7 484.1,55.3 484.1,54.2 484.2,57.3 484.2,57.9 484.3,51.3 484.4,59.3 484.4,45.7 484.4,48.7 484.5,72.1 484.6,52.9 484.6,66.5 484.6,52.4 484.7,57.4 484.8,54.3 484.8,63.1 484.9,61.9 484.9,55.7 484.9,69.9 485,65.5 485.1,57.3 485.1,75.2 485.1,61.0 485.2,53.1 485.2,57.7 485.3,57.8 485.4,53.2 485.4,53.8 485.4,57.5 485.5,55.2 485.6,53.2 485.6,53.4 485.6,61.6 485.7,49.9 485.8,53.9 485.8,55.0 485.9,52.1 485.9,54.0 485.9,58.8 486,62.3 486.1,54.5 486.1,60.3 486.1,48.6 486.2,74.7 486.2,58.2 486.3,51.6 486.4,48.6 486.4,51.8 486.4,53.9 486.5,54.8 486.6,44.1 486.6,52.2 486.6,49.3 486.7,42.3 486.8,51.2 486.8,48.6 486.9,48.1 486.9,48.5 486.9,44.8 487,44.4 487.1,44.4 487.1,41.0 487.1,44.4 487.2,48.0 487.2,48.5 487.3,40.7 487.4,46.6 487.4,48.6 487.4,48.6 487.5,44.8 487.6,42.9 487.6,41.8 487.6,59.7 487.7,45.8 487.8,44.8 487.8,54.1 487.9,45.2 487.9,49.8 487.9,40.7 488,47.1 488.1,45.5 488.1,56.9 488.1,54.6 488.2,56.4 488.2,56.9 488.3,57.7 488.4,57.5 488.4,57.6 488.4,56.4 488.5,62.0 488.6,40.7 488.6,45.2 488.6,49.5 488.7,46.6 488.8,48.1 488.8,43.0 488.9,39.5 488.9,42.0 488.9,49.2 489,44.6 489.1,42.6 489.1,46.8 489.1,48.0 489.2,46.6 489.2,40.3 489.3,41.6 489.4,43.9 489.4,51.8 489.4,42.8 489.5,38.7 489.6,73.3 489.6,45.8 489.6,44.9 489.7,48.1 489.8,40.2 489.8,51.8 489.9,66.4 489.9,65.3 489.9,68.3 490,46.6 490.1,57.9 490.1,53.3 490.1,49.7 490.2,44.1 490.2,39.9 490.3,54.9 490.4,46.0 490.4,43.1 490.4,47.6 490.5,47.3 490.6,43.3 490.6,39.1 490.6,37.9 490.7,56.1 490.8,37.7 490.8,44.8 490.9,44.6 490.9,44.6 490.9,35.8 491,43.2 491.1,41.4 491.1,46.8 491.1,35.5 491.2,62.0 491.2,38.6 491.3,48.9 491.4,38.9 491.4,45.8 491.4,48.0 491.5,42.7 491.6,44.7 491.6,40.6 491.6,43.3 491.7,60.6 491.8,44.6 491.8,45.1 491.9,48.2 491.9,46.2 491.9,43.5 492,44.4 492.1,46.8 492.1,38.9 492.1,66.5 492.2,44.7 492.2,40.0 492.3,38.5 492.4,44.0 492.4,46.7 492.4,41.3 492.5,39.5 492.6,41.4 492.6,39.2 492.6,46.0 492.7,43.4 492.8,44.2 492.8,43.6 492.9,46.7 492.9,44.9 492.9,36.8 493,41.4 493.1,44.9 493.1,41.7 493.1,50.0 493.2,45.5 493.2,44.2 493.3,44.3 493.4,42.2 493.4,43.8 493.4,43.2 493.5,38.5 493.6,47.2 493.6,56.2 493.6,41.5 493.7,44.6 493.8,42.6 493.8,41.8 493.9,46.7 493.9,45.0 493.9,36.8 494,40.0 494.1,43.9 494.1,41.3 494.1,39.3 494.2,40.2 494.2,44.4 494.3,36.8 494.4,45.2 494.4,41.7 494.4,75.1 494.5,36.8 494.6,40.6 494.6,38.5 494.6,34.6 494.7,40.5 494.8,33.7 494.8,42.8 494.9,59.3 494.9,40.6 494.9,38.1 495,44.1 495.1,29.7 495.1,33.8 495.1,43.4 495.2,35.5 495.2,36.6 495.3,46.3 495.4,39.1 495.4,72.1 495.4,39.9 495.5,46.3 495.6,47.4 495.6,40.4 495.6,44.0 495.7,34.1 495.8,43.4 495.8,47.3 495.9,47.9 495.9,36.8 495.9,39.8 496,44.8 496.1,71.5 496.1,52.1 496.1,39.1 496.2,42.6 496.2,45.7 496.3,46.3 496.4,43.6 496.4,46.7 496.4,43.8 496.5,40.2 496.6,53.4 496.6,46.1 496.6,45.7 496.7,40.0 496.8,47.5 496.8,61.2 496.9,74.6 496.9,57.5 496.9,41.1 497,44.8 497.1,74.9 497.1,49.1 497.1,67.7 497.2,45.7 497.2,53.2 497.3,42.6 497.4,35.0 497.4,35.3 497.4,41.6 497.5,41.9 497.6,46.0 497.6,53.0 497.6,57.3 497.7,40.6 497.8,44.8 497.8,41.7 497.9,47.6 497.9,40.8 497.9,41.1 498,50.3 498.1,47.6 498.1,45.6 498.1,47.4 498.2,43.9 498.2,44.6 498.3,49.7 498.4,42.5 498.4,44.5 498.4,44.5 498.5,45.2 498.6,39.3 498.6,44.3 498.6,46.0 498.7,41.9 498.8,47.6 498.8,44.5 498.9,42.1 498.9,51.3 498.9,48.9 499,42.4 499.1,70.6 499.1,52.0 499.1,39.4 499.2,45.6 499.2,40.0 499.3,49.5 499.4,40.0 499.4,46.5 499.4,40.9 499.5,46.4 499.6,38.8 499.6,59.6 499.6,46.9 499.7,44.7 499.8,52.1 499.8,46.7 499.9,43.2 499.9,40.6 499.9,42.1 500,52.5 500.1,39.7 500.1,44.6 500.1,47.0 500.2,48.7 500.2,50.1 500.3,43.1 500.4,43.5 500.4,50.3 500.4,46.6 500.5,51.1 500.6,75.3 500.6,47.0 500.6,44.6 500.7,53.3 500.8,48.5 500.8,50.1 500.9,43.3 500.9,49.9 500.9,47.7 501,52.8 501.1,49.6 501.1,44.3 501.1,49.0 501.2,44.0 501.2,49.3 501.3,45.1 501.4,43.0 501.4,43.9 501.4,48.9 501.5,44.2 501.6,45.8 501.6,45.4 501.6,52.4 501.7,46.1 501.8,46.8 501.8,40.8 501.9,44.7 501.9,51.8 501.9,62.0 502,45.7 502.1,36.3 502.1,49.5 502.1,41.3 502.2,60.0 502.2,42.3 502.3,45.7 502.4,39.9 502.4,45.7 502.4,48.7 502.5,46.5 502.6,40.8 502.6,45.6 502.6,48.1 502.7,44.4 502.8,51.1 502.8,42.5 502.9,43.8 502.9,43.2 502.9,44.4 503,53.0 503.1,40.9 503.1,47.1 503.1,47.2 503.2,41.3 503.2,55.8 503.3,58.0 503.4,39.4 503.4,47.5 503.4,51.6 503.5,39.5 503.6,40.5 503.6,46.1 503.6,44.5 503.7,43.9 503.8,49.8 503.8,39.9 503.9,45.5 503.9,50.2 503.9,39.9 504,51.6 504.1,41.4 504.1,48.1 504.1,42.8 504.2,43.5 504.2,47.0 504.3,53.6 504.4,42.8 504.4,44.4 504.4,51.7 504.5,45.9 504.6,36.2 504.6,44.8 504.6,36.5 504.7,46.8 504.8,44.2 504.8,49.8 504.9,47.8 504.9,44.2 504.9,46.0 505,42.0 505.1,40.1 505.1,44.3 505.1,45.5 505.2,47.6 505.2,44.1 505.3,42.3 505.4,36.4 505.4,52.4 505.4,68.8 505.5,44.3 505.6,43.4 505.6,48.7 505.6,39.6 505.7,41.0 505.8,42.9 505.8,42.3 505.9,54.9 505.9,46.6 505.9,44.7 506,47.7 506.1,49.7 506.1,50.6 506.1,54.7 506.2,44.0 506.2,48.9 506.3,50.5 506.4,53.0 506.4,44.8 506.4,44.3 506.5,49.7 506.6,38.7 506.6,41.9 506.6,43.2 506.7,41.8 506.8,47.0 506.8,38.8 506.9,42.7 506.9,43.1 506.9,46.9 507,41.4 507.1,44.9 507.1,47.7 507.1,47.4 507.2,40.6 507.2,37.3 507.3,49.6 507.4,43.3 507.4,44.7 507.4,46.5 507.5,41.7 507.6,46.0 507.6,44.4 507.6,51.2 507.7,46.5 507.8,40.4 507.8,43.2 507.9,47.4 507.9,42.6 507.9,59.4 508,44.1 508.1,38.2 508.1,45.4 508.1,46.3 508.2,67.9 508.2,40.3 508.3,44.8 508.4,35.4 508.4,44.9 508.4,44.7 508.5,43.5 508.6,41.7 508.6,48.1 508.6,37.9 508.7,42.8 508.8,75.2 508.8,33.4 508.9,38.2 508.9,42.4 508.9,42.0 509,46.7 509.1,40.0 509.1,50.7 509.1,44.1 509.2,39.3 509.2,36.1 509.3,46.0 509.4,67.2 509.4,43.6 509.4,44.1 509.5,38.2 509.6,40.0 509.6,41.1 509.6,45.7 509.7,65.3 509.8,39.6 509.8,66.9 509.9,66.8 509.9,42.8 509.9,54.8 510,68.8 510.1,45.0 510.1,46.4 510.1,37.2 510.2,43.9 510.2,47.6 510.3,63.8 510.4,43.2 510.4,48.9 510.4,38.6 510.5,45.1 510.6,51.1 510.6,41.9 510.6,39.9 510.7,51.4 510.8,42.5 510.8,36.4 510.9,42.7 510.9,46.7 510.9,42.8 511,46.6 511.1,43.3 511.1,42.3 511.1,44.6 511.2,52.4 511.2,47.1 511.3,45.6 511.4,50.5 511.4,38.4 511.4,49.5 511.5,47.0 511.6,49.5 511.6,42.4 511.6,46.9 511.7,45.6 511.8,43.6 511.8,43.0 511.9,40.6 511.9,41.2 511.9,44.6 512,41.2 512,39.3 512.1,53.6 512.1,44.1 512.2,63.8 512.2,44.2 512.3,51.4 512.4,40.6 512.4,37.0 512.5,38.6 512.5,45.2 512.5,42.5 512.6,36.5 512.6,41.5 512.7,43.0 512.8,48.7 512.8,43.5 512.9,40.6 512.9,35.2 513,40.5 513,57.5 513,44.1 513.1,45.4 513.1,44.7 513.2,52.0 513.2,38.4 513.3,44.2 513.4,37.4 513.4,43.9 513.5,45.3 513.5,40.4 513.5,42.2 513.6,44.7 513.6,42.2 513.7,65.0 513.8,46.0 513.8,43.2 513.9,40.4 513.9,45.7 514,64.3 514,44.7 514,46.0 514.1,41.9 514.1,48.4 514.2,40.5 514.2,46.6 514.3,39.6 514.4,43.2 514.4,45.7 514.5,48.9 514.5,47.1 514.5,45.2 514.6,38.7 514.6,46.8 514.7,47.0 514.8,44.4 514.8,40.8 514.9,43.4 514.9,44.9 515,39.9 515,46.6 515,45.7 515.1,48.0 515.1,49.6 515.2,42.3 515.2,44.4 515.3,40.0 515.4,41.6 515.4,38.5 515.5,43.2 515.5,40.4 515.5,43.0 515.6,46.4 515.6,41.3 515.7,40.6 515.8,51.8 515.8,40.9 515.9,39.3 515.9,46.5 516,41.2 516,46.0 516,40.7 516.1,61.4 516.1,48.7 516.2,50.5 516.2,40.4 516.3,39.8 516.4,49.6 516.4,57.4 516.5,48.5 516.5,46.9 516.5,42.3 516.6,49.6 516.6,40.0 516.7,39.5 516.8,47.0 516.8,49.7 516.9,40.5 516.9,51.2 517,46.5 517,44.9 517,48.3 517.1,39.5 517.1,40.9 517.2,46.4 517.2,47.2 517.3,46.0 517.4,47.7 517.4,37.9 517.5,47.2 517.5,43.6 517.5,46.8 517.6,42.7 517.6,42.1 517.7,48.3 517.8,47.2 517.8,45.2 517.9,45.2 517.9,47.8 518,37.3 518,74.4 518,42.6 518.1,48.4 518.1,46.3 518.2,55.3 518.2,47.2 518.3,43.7 518.4,46.1 518.4,45.0 518.5,47.2 518.5,37.6 518.5,44.1 518.6,46.2 518.6,36.3 518.7,44.0 518.8,40.2 518.8,46.9 518.9,42.3 518.9,47.7 519,42.2 519,61.3 519,48.9 519.1,40.4 519.1,40.9 519.2,36.6 519.2,50.4 519.3,42.4 519.4,45.4 519.4,45.4 519.5,44.5 519.5,41.0 519.5,42.9 519.6,45.7 519.6,49.0 519.7,50.6 519.8,41.9 519.8,56.7 519.9,58.9 519.9,66.0 520,41.9 520,62.5 520,67.7 520.1,54.5 520.1,49.6 520.2,59.8 520.2,41.2 520.3,46.2 520.4,46.8 520.4,42.8 520.5,41.3 520.5,44.0 520.5,43.2 520.6,44.6 520.6,44.1 520.7,45.5 520.8,36.5 520.8,51.2 520.9,42.3 520.9,51.2 521,32.4 521,42.1 521,38.0 521.1,37.7 521.1,46.2 521.2,44.3 521.2,42.4 521.3,42.8 521.4,40.6 521.4,40.7 521.5,44.5 521.5,46.1 521.5,46.3 521.6,50.5 521.6,53.0 521.7,51.2 521.8,46.2 521.8,51.9 521.9,46.2 521.9,43.4 522,48.7 522,43.6 522,45.1 522.1,42.9 522.1,48.1 522.2,50.6 522.2,42.8 522.3,42.8 522.4,40.0 522.4,39.6 522.5,43.7 522.5,42.9 522.5,46.4 522.6,44.6 522.6,48.0 522.7,40.8 522.8,42.0 522.8,50.2 522.9,44.9 522.9,41.5 523,46.2 523,42.8 523,48.1 523.1,44.9 523.1,41.0 523.2,39.2 523.2,49.2 523.3,44.7 523.4,42.9 523.4,36.8 523.5,40.4 523.5,44.0 523.5,39.0 523.6,43.5 523.6,43.2 523.7,45.3 523.8,41.8 523.8,47.6 523.9,44.6 523.9,63.6 524,37.4 524,35.1 524,39.3 524.1,45.9 524.1,41.5 524.2,58.3 524.2,42.4 524.3,66.0 524.4,41.0 524.4,42.3 524.5,43.3 524.5,45.9 524.5,39.7 524.6,40.0 524.6,43.3 524.7,44.4 524.8,37.0 524.8,45.7 524.9,50.8 524.9,43.1 525,44.6 525,46.0 525,49.4 525.1,45.5 525.1,45.7 525.2,41.2 525.2,42.1 525.3,42.6 525.4,43.0 525.4,37.3 525.5,43.0 525.5,47.9 525.5,36.8 525.6,47.0 525.6,45.8 525.7,43.1 525.8,45.2 525.8,46.2 525.9,43.1 525.9,44.9 526,45.2 526,41.2 526,44.3 526.1,42.9 526.1,42.1 526.2,42.6 526.2,33.7 526.3,39.7 526.4,45.6 526.4,41.5 526.5,45.2 526.5,46.7 526.5,40.8 526.6,48.6 526.6,63.3 526.7,63.4 526.8,63.6 526.8,60.6 526.9,61.8 526.9,65.1 527,62.8 527,65.6 527,68.1 527.1,65.6 527.1,65.3 527.2,66.2 527.2,59.7 527.3,65.3 527.4,64.4 527.4,65.4 527.5,65.0 527.5,63.1 527.5,49.7 527.6,39.1 527.6,44.7 527.7,84.7 527.8,42.6 527.8,40.9 527.9,43.7 527.9,42.1 528,45.2 528,49.7 528,42.7 528.1,45.8 528.1,42.2 528.2,46.6 528.2,67.5 528.3,51.1 528.4,42.1 528.4,51.6 528.5,45.6 528.5,47.6 528.5,76.1 528.6,39.2 528.6,45.9 528.7,55.3 528.8,77.4 528.8,70.1 528.9,76.3 528.9,87.1 529,41.4 529,44.0 529,78.6 529.1,58.0 529.1,63.6 529.2,40.1 529.2,47.2 529.3,86.0 529.4,71.4 529.4,43.9 529.5,45.7 529.5,40.7 529.5,44.3 529.6,46.7 529.6,38.3 529.7,36.9 529.8,47.1 529.8,45.6 529.9,44.7 529.9,42.9 530,45.5 530,49.1 530,44.0 530.1,47.3 530.1,41.9 530.2,44.8 530.2,39.5 530.3,48.5 530.4,44.8 530.4,46.7 530.5,40.8 530.5,40.9 530.5,49.6 530.6,50.4 530.6,52.7 530.7,66.7 530.8,59.9 530.8,43.8 530.9,40.1 530.9,37.9 531,48.6 531,41.2 531,41.3 531.1,47.8 531.1,45.4 531.2,43.7 531.2,39.9 531.3,41.9 531.4,44.9 531.4,47.6 531.5,45.2 531.5,49.3 531.5,46.8 531.6,40.4 531.6,44.1 531.7,40.4 531.8,46.5 531.8,43.4 531.9,40.5 531.9,40.3 532,38.7 532,41.9 532,42.5 532.1,48.0 532.1,43.8 532.2,43.3 532.2,41.7 532.3,46.5 532.4,48.0 532.4,46.2 532.5,46.4 532.5,43.8 532.5,46.6 532.6,46.0 532.6,40.1 532.7,44.2 532.8,41.7 532.8,43.5 532.9,47.0 532.9,43.8 533,38.3 533,43.4 533,50.2 533.1,46.8 533.1,42.8 533.2,35.6 533.2,39.4 533.3,40.4 533.4,49.8 533.4,42.5 533.5,43.6 533.5,44.8 533.5,40.3 533.6,43.5 533.6,44.9 533.7,45.9 533.8,43.3 533.8,34.8 533.9,43.3 533.9,47.0 534,43.4 534,42.7 534,39.8 534.1,42.0 534.1,45.0 534.2,37.8 534.2,37.7 534.3,45.1 534.4,49.9 534.4,44.2 534.5,44.8 534.5,45.7 534.5,48.4 534.6,47.4 534.6,38.6 534.7,46.7 534.8,42.1 534.8,50.9 534.9,39.3 534.9,46.4 535,46.1 535,39.7 535,47.8 535.1,44.8 535.1,41.2 535.2,44.5 535.2,38.0 535.3,65.5 535.4,43.2 535.4,58.2 535.5,43.4 535.5,40.8 535.5,46.2 535.6,49.7 535.6,43.0 535.7,41.9 535.8,42.0 535.8,45.9 535.9,45.1 535.9,40.1 536,40.2 536,47.5 536,48.7 536.1,46.4 536.1,44.4 536.2,42.5 536.2,35.8 536.3,41.1 536.4,73.0 536.4,43.3 536.5,43.4 536.5,42.1 536.5,40.9 536.6,43.1 536.6,43.7 536.7,46.1 536.8,47.7 536.8,39.2 536.9,56.3 536.9,44.5 537,42.6 537,44.1 537,44.6 537.1,45.9 537.1,43.4 537.2,43.8 537.2,47.5 537.3,47.5 537.4,42.3 537.4,41.2 537.5,45.0 537.5,35.7 537.5,43.6 537.6,46.3 537.6,40.9 537.7,42.7 537.8,45.9 537.8,36.9 537.9,43.6 537.9,73.9 538,40.8 538,41.6 538,46.6 538.1,41.7 538.1,41.8 538.2,41.4 538.2,48.2 538.3,46.7 538.4,43.0 538.4,34.5 538.5,29.2 538.5,46.5 538.5,40.6 538.6,39.0 538.6,44.2 538.7,55.0 538.8,57.8 538.8,45.2 538.9,39.0 538.9,46.0 539,43.7 539,44.8 539,34.8 539.1,47.5 539.1,48.3 539.2,42.0 539.2,39.3 539.3,52.8 539.4,46.4 539.4,38.4 539.5,47.2 539.5,40.4 539.5,38.1 539.6,41.6 539.6,44.0 539.7,41.6 539.8,41.7 539.8,41.3 539.9,36.4 539.9,41.9 540,43.8 540,42.4 540,45.1 540.1,36.6 540.1,40.5 540.2,39.8 540.2,41.3 540.3,42.0 540.4,47.5 540.4,44.2 540.5,44.2 540.5,44.6 540.5,34.8 540.6,42.2 540.6,39.9 540.7,39.4 540.8,37.5 540.8,42.2 540.9,41.7 540.9,39.4 541,44.7 541,46.1 541,42.3 541.1,35.3 541.1,43.1 541.2,49.8 541.2,41.5 541.3,43.7 541.4,47.0 541.4,56.1 541.5,47.1 541.5,60.1 541.5,44.5 541.6,42.0 541.6,39.4 541.7,43.5 541.8,47.3 541.8,37.1 541.9,43.6 541.9,58.9 542,43.1 542,48.7 542,42.4 542.1,50.0 542.1,41.5 542.2,37.0 542.2,40.3 542.3,47.0 542.4,38.7 542.4,51.9 542.5,44.7 542.5,41.7 542.5,48.2 542.6,37.9 542.6,43.5 542.7,38.4 542.8,44.4 542.8,40.6 542.9,36.6 542.9,40.2 543,49.8 543,38.2 543,43.0 543.1,45.8 543.1,45.0 543.2,43.3 543.2,43.6 543.3,43.0 543.4,41.9 543.4,45.5 543.5,50.8 543.5,38.7 543.5,42.6 543.6,41.5 543.6,41.6 543.7,44.4 543.8,39.1 543.8,46.7 543.9,40.7 543.9,52.4 544,48.4 544,50.5 544,42.0 544.1,41.7 544.1,37.2 544.2,42.5 544.2,50.3 544.3,35.5 544.4,41.9 544.4,40.4 544.5,49.6 544.5,51.0 544.5,42.3 544.6,64.3 544.6,47.9 544.7,42.1 544.8,42.9 544.8,46.7 544.9,40.0 544.9,46.2 545,39.7 545,47.5 545,46.3 545.1,42.0 545.1,43.0 545.2,43.1 545.2,40.7 545.3,40.7 545.4,52.6 545.4,43.0 545.5,36.6 545.5,44.8 545.5,44.2 545.6,40.7 545.6,45.6 545.7,43.0 545.8,45.3 545.8,47.5 545.9,43.5 545.9,48.4 546,45.3 546,42.5 546,42.6 546.1,47.7 546.1,41.5 546.2,43.8 546.2,39.9 546.3,41.4 546.4,45.4 546.4,40.5 546.5,40.7 546.5,49.7 546.5,36.5 546.6,43.2 546.6,45.5 546.7,48.9 546.8,48.3 546.8,45.6 546.9,63.3 546.9,55.2 547,58.6 547,62.2 547,35.6 547.1,44.0 547.1,76.8 547.2,64.2 547.2,39.2 547.3,57.8 547.4,48.8 547.4,37.6 547.5,44.7 547.5,41.9 547.5,42.8 547.6,41.4 547.6,48.8 547.7,42.0 547.8,38.1 547.8,42.1 547.9,46.4 547.9,39.0 548,48.1 548,40.1 548,44.8 548.1,40.6 548.1,42.1 548.2,41.1 548.2,43.3 548.3,38.9 548.4,45.0 548.4,43.4 548.5,47.4 548.5,36.4 548.5,38.0 548.6,48.5 548.6,41.1 548.7,42.6 548.8,44.4 548.8,48.9 548.9,43.8 548.9,40.1 549,43.5 549,40.1 549,44.7 549.1,67.1 549.1,46.7 549.2,42.8 549.2,47.4 549.3,38.3 549.4,45.4 549.4,41.4 549.5,49.0 549.5,35.4 549.5,41.7 549.6,50.8 549.6,43.9 549.7,45.1 549.8,67.7 549.8,41.5 549.9,40.4 549.9,44.4 550,63.9 550,48.5 550,46.3 550.1,43.5 550.1,49.6 550.2,42.4 550.2,42.0 550.3,45.6 550.4,39.0 550.4,38.4 550.5,46.9 550.5,65.6 550.5,44.2 550.6,43.8 550.6,36.2 550.7,49.1 550.8,46.8 550.8,64.7 550.9,41.0 550.9,44.7 551,43.4 551,40.3 551,40.2 551.1,72.7 551.1,44.3 551.2,47.7 551.2,47.5 551.3,45.7 551.4,63.9 551.4,38.7 551.5,41.8 551.5,45.7 551.5,42.7 551.6,42.0 551.6,43.3 551.7,45.6 551.8,40.5 551.8,75.9 551.9,52.0 551.9,44.2 552,61.0 552,43.6 552,50.7 552.1,44.1 552.1,67.6 552.2,42.6 552.2,38.0 552.3,50.4 552.4,43.7 552.4,41.1 552.5,48.6 552.5,47.8 552.5,43.4 552.6,44.8 552.6,41.3 552.7,47.2 552.8,36.7 552.8,43.5 552.9,41.0 552.9,44.1 553,41.9 553,40.6 553,41.0 553.1,45.1 553.1,44.3 553.2,33.0 553.2,42.0 553.3,44.4 553.4,49.3 553.4,40.3 553.5,42.3 553.5,36.7 553.5,49.3 553.6,51.9 553.6,40.7 553.7,33.8 553.8,66.8 553.8,45.2 553.9,57.9 553.9,47.1 554,45.0 554,42.7 554,43.2 554.1,44.7 554.1,42.8 554.2,44.9 554.2,47.4 554.3,45.2 554.4,45.9 554.4,41.9 554.5,35.2 554.5,44.2 554.5,41.8 554.6,42.6 554.6,41.0 554.7,43.2 554.8,51.7 554.8,43.5 554.9,53.4 554.9,42.2 555,54.8 555,49.0 555,46.4 555.1,48.2 555.1,45.4 555.2,35.4 555.2,42.0 555.3,44.7 555.4,63.0 555.4,49.1 555.5,43.7 555.5,44.4 555.5,48.9 555.6,36.8 555.6,48.5 555.7,44.7 555.8,46.5 555.8,39.6 555.9,39.2 555.9,45.8 556,43.6 556,38.4 556,50.3 556.1,41.8 556.1,42.7 556.2,50.1 556.2,48.8 556.3,39.6 556.4,45.7 556.4,45.1 556.5,37.7 556.5,53.0 556.5,47.9 556.6,44.5 556.6,47.2 556.7,48.9 556.8,44.0 556.8,45.5 556.9,44.3 556.9,49.6 557,48.2 557,42.3 557,45.9 557.1,44.4 557.1,75.0 557.2,43.8 557.2,38.1 557.3,68.8 557.4,45.7 557.4,50.6 557.5,44.8 557.5,45.6 557.5,40.7 557.6,71.1 557.6,37.2 557.7,41.9 557.8,37.7 557.8,51.6 557.9,43.6 557.9,51.7 558,43.8 558,48.7 558,50.9 558.1,45.6 558.1,50.4 558.2,48.6 558.2,45.9 558.3,40.8 558.4,50.1 558.4,40.8 558.5,47.0 558.5,47.6 558.5,53.3 558.6,41.8 558.6,37.3 558.7,49.2 558.8,54.8 558.8,50.2 558.9,51.9 558.9,46.2 559,45.9 559,42.7 559,49.5 559.1,49.0 559.1,48.0 559.2,45.6 559.2,47.4 559.3,49.0 559.4,55.3 559.4,45.1 559.5,49.8 559.5,42.4 559.5,48.7 559.6,49.2 559.6,46.4 559.7,51.3 559.8,49.6 559.8,59.7 559.9,57.8 559.9,53.8 560,61.9 560,61.2 560,60.5 560.1,61.1 560.1,48.1 560.2,45.1 560.2,41.2 560.3,40.8 560.4,44.4 560.4,42.3 560.5,47.0 560.5,36.3 560.5,48.0 560.6,45.1 560.6,49.0 560.7,45.3 560.8,54.6 560.8,48.9 560.9,45.7 560.9,52.1 561,47.5 561,51.5 561,56.2 561.1,48.0 561.1,50.2 561.2,46.2 561.2,44.9 561.3,41.6 561.4,46.4 561.4,51.9 561.5,45.5 561.5,52.1 561.5,52.5 561.6,47.5 561.6,55.5 561.7,48.6 561.8,50.4 561.8,47.3 561.9,52.2 561.9,47.5 562,48.6 562,43.2 562,51.6 562.1,45.0 562.1,46.0 562.2,51.5 562.2,45.1 562.3,52.0 562.4,49.5 562.4,47.6 562.5,52.2 562.5,42.9 562.5,42.0 562.6,58.7 562.6,49.5 562.7,41.6 562.8,40.8 562.8,44.7 562.9,56.5 562.9,36.1 563,51.1 563,39.8 563,40.4 563.1,39.2 563.1,47.5 563.2,35.7 563.2,47.0 563.3,41.9 563.4,51.3 563.4,55.3 563.5,46.7 563.5,49.2 563.5,39.1 563.6,34.6 563.6,42.8 563.7,40.1 563.8,39.5 563.8,44.1 563.9,45.7 563.9,41.6 564,51.4 564,40.5 564,44.5 564.1,43.7 564.1,44.5 564.2,42.6 564.2,36.6 564.3,49.3 564.4,43.3 564.4,50.1 564.5,41.7 564.5,38.7 564.5,47.5 564.6,46.6 564.6,44.8 564.7,38.4 564.8,39.1 564.8,42.8 564.9,44.2 564.9,43.1 565,44.1 565,42.9 565,44.8 565.1,44.9 565.1,44.2 565.2,46.6 565.2,38.5 565.3,48.7 565.4,46.4 565.4,38.8 565.5,66.9 565.5,42.4 565.5,43.6 565.6,49.5 565.6,41.6 565.7,63.2 565.8,41.8 565.8,45.3 565.9,60.2 565.9,54.3 566,44.5 566,42.1 566,43.4 566.1,49.6 566.1,45.7 566.2,46.2 566.2,45.8 566.3,43.8 566.4,49.5 566.4,43.3 566.5,69.1 566.5,47.1 566.5,41.2 566.6,49.6 566.6,45.7 566.7,41.2 566.8,40.4 566.8,45.3 566.9,45.2 566.9,41.7 567,45.5 567,55.8 567,41.0 567.1,41.2 567.1,39.2 567.2,42.6 567.2,46.8 567.3,46.6 567.4,43.6 567.4,43.3 567.5,42.9 567.5,42.7 567.5,49.7 567.6,52.3 567.6,51.9 567.7,53.3 567.8,48.1 567.8,47.9 567.9,50.6 567.9,37.2 568,66.6 568,47.7 568,47.3 568.1,35.5 568.1,43.6 568.2,43.0 568.2,42.9 568.3,43.7 568.4,41.8 568.4,47.2 568.5,66.6 568.5,44.3 568.5,42.8 568.6,46.7 568.6,42.8 568.7,45.4 568.8,47.6 568.8,43.0 568.9,50.0 568.9,44.5 569,49.5 569,75.7 569,49.8 569.1,48.2 569.1,41.5 569.2,49.1 569.2,45.4 569.3,52.5 569.4,42.5 569.4,43.6 569.5,49.0 569.5,45.7 569.5,48.6 569.6,40.7 569.6,46.5 569.7,39.2 569.8,45.6 569.8,42.9 569.9,46.5 569.9,49.6 570,48.3 570,41.2 570,41.9 570.1,74.1 570.1,51.4 570.2,47.1 570.2,39.6 570.3,45.6 570.4,53.7 570.4,69.6 570.5,54.7 570.5,52.0 570.5,50.3 570.6,67.4 570.6,53.2 570.7,51.9 570.8,43.3 570.8,49.4 570.9,55.0 570.9,43.9 571,67.7 571,46.5 571,46.9 571.1,63.0 571.1,48.2 571.2,37.6 571.2,47.1 571.3,56.2 571.4,38.5 571.4,37.5 571.5,52.2 571.5,46.3 571.5,43.0 571.6,49.5 571.6,42.7 571.7,40.5 571.8,46.8 571.8,44.6 571.9,41.1 571.9,47.4 572,46.9 572,40.6 572,48.5 572.1,46.3 572.1,48.3 572.2,41.1 572.2,40.8 572.3,46.5 572.4,49.4 572.4,49.4 572.5,47.5 572.5,42.1 572.5,50.3 572.6,45.8 572.6,40.5 572.7,47.2 572.8,53.7 572.8,46.9 572.9,39.5 572.9,46.6 573,41.9 573,53.9 573,41.2 573.1,44.0 573.1,43.1 573.2,52.4 573.2,51.6 573.3,47.0 573.4,41.7 573.4,52.8 573.5,48.5 573.5,52.4 573.5,51.1 573.6,58.8 573.6,46.4 573.7,44.3 573.8,41.1 573.8,47.9 573.9,43.9 573.9,47.7 574,48.2 574,50.7 574,41.3 574.1,41.6 574.1,45.7 574.2,63.5 574.2,46.4 574.3,40.5 574.4,45.9 574.4,45.0 574.5,43.2 574.5,47.1 574.5,46.3 574.6,49.4 574.6,44.1 574.7,38.6 574.8,40.9 574.8,46.9 574.9,40.3 574.9,44.1 575,42.6 575,68.6 575,44.5 575.1,42.7 575.1,40.9 575.2,42.8 575.2,44.7 575.3,37.5 575.4,42.6 575.4,50.9 575.5,47.0 575.5,38.0 575.5,43.6 575.6,42.2 575.6,45.4 575.7,37.8 575.8,45.7 575.8,37.8 575.9,41.7 575.9,49.7 576,41.9 576,45.8 576,46.4 576.1,49.0 576.1,43.4 576.2,50.4 576.2,48.5 576.3,40.8 576.4,38.0 576.4,42.8 576.5,46.5 576.5,42.7 576.5,47.2 576.6,43.6 576.6,39.3 576.7,60.8 576.8,54.2 576.8,64.5 576.9,63.9 576.9,69.5 577,45.9 577,73.2 577,70.2 577.1,72.3 577.1,42.8 577.2,63.1 577.2,42.6 577.3,43.3 577.4,46.0 577.4,47.6 577.5,42.3 577.5,48.9 577.5,71.7 577.6,49.3 577.6,46.1 577.7,44.3 577.8,59.8 577.8,40.0 577.9,41.9 577.9,40.1 578,40.2 578,45.3 578,55.5 578.1,40.5 578.1,47.9 578.2,43.0 578.2,52.2 578.3,46.4 578.4,39.3 578.4,39.9 578.5,70.8 578.5,40.8 578.5,41.3 578.6,42.7 578.6,43.6 578.7,44.5 578.8,44.1 578.8,41.4 578.9,49.3 578.9,48.0 579,41.4 579,43.0 579,44.5 579.1,46.4 579.1,48.4 579.2,52.4 579.2,46.8 579.3,50.3 579.4,62.4 579.4,67.4 579.5,64.1 579.5,62.7 579.5,65.2 579.6,66.8 579.6,65.1 579.7,60.6 579.8,68.0 579.8,64.2 579.9,65.8 579.9,67.3 580,64.9 580,65.5 580,64.4 580.1,51.5 580.1,44.1 580.2,41.3 580.2,44.2 580.3,47.2 580.4,41.1 580.4,43.2 580.5,47.2 580.5,42.0 580.5,50.6 580.6,76.6 580.6,47.7 580.7,74.4 580.8,44.5 580.8,42.4 580.9,44.6 580.9,42.4 581,47.1 581,40.7 581,46.7 581.1,41.4 581.1,42.4 581.2,42.0 581.2,44.6 581.3,43.6 581.4,43.6 581.4,44.7 581.5,50.1 581.5,41.9 581.5,45.6 581.6,51.9 581.6,36.8 581.7,43.5 581.8,47.9 581.8,45.1 581.9,39.8 581.9,58.1 582,68.4 582,41.3 582,43.7 582.1,48.8 582.1,45.1 582.2,44.1 582.2,53.4 582.3,46.1 582.4,40.4 582.4,42.2 582.5,47.1 582.5,41.9 582.5,43.6 582.6,39.4 582.6,41.7 582.7,56.0 582.8,40.9 582.8,48.2 582.9,44.2 582.9,63.6 583,41.7 583,40.1 583,44.2 583.1,42.5 583.1,47.9 583.2,36.1 583.2,46.8 583.3,73.6 583.4,50.0 583.4,40.3 583.5,41.5 583.5,49.7 583.5,45.2 583.6,45.8 583.6,40.1 583.7,37.8 583.8,51.4" fill="none" stroke="#fa7a6c" stroke-width="0.75"/><polyline points="289,166.3 289.1,164.4 289.1,162.4 289.1,155.7 289.2,149.1 289.2,173.9 289.3,160.0 289.4,157.5 289.4,161.3 289.4,209.3 289.5,157.0 289.6,162.3 289.6,160.7 289.6,147.6 289.7,149.7 289.8,157.1 289.8,147.3 289.9,159.3 289.9,161.7 289.9,177.0 290,158.7 290.1,153.8 290.1,149.3 290.1,168.6 290.2,171.6 290.2,183.2 290.3,157.0 290.4,156.9 290.4,160.3 290.4,152.5 290.5,160.6 290.6,151.9 290.6,168.4 290.6,161.2 290.7,158.6 290.8,195.1 290.8,174.3 290.9,205.6 290.9,203.5 290.9,146.7 291,167.2 291.1,162.8 291.1,171.4 291.1,206.7 291.2,162.1 291.2,161.9 291.3,172.4 291.4,170.8 291.4,177.2 291.4,161.8 291.5,168.0 291.6,155.6 291.6,178.1 291.6,187.1 291.7,159.8 291.8,159.8 291.8,172.0 291.9,162.8 291.9,182.0 291.9,180.7 292,174.9 292.1,180.7 292.1,165.9 292.1,193.8 292.2,177.1 292.2,187.5 292.3,187.3 292.4,180.5 292.4,162.6 292.4,174.3 292.5,152.1 292.6,193.1 292.6,174.5 292.6,176.3 292.7,203.3 292.8,171.3 292.8,180.0 292.9,180.2 292.9,175.0 292.9,182.9 293,182.1 293.1,201.5 293.1,196.5 293.1,192.0 293.2,173.7 293.2,164.3 293.3,180.8 293.4,204.1 293.4,173.4 293.4,170.1 293.5,174.2 293.6,191.4 293.6,181.3 293.6,162.8 293.7,180.9 293.8,185.6 293.8,173.7 293.9,181.9 293.9,175.2 293.9,171.7 294,174.8 294.1,189.5 294.1,183.1 294.1,186.2 294.2,178.8 294.2,178.6 294.3,169.1 294.4,174.5 294.4,201.2 294.4,169.7 294.5,175.2 294.6,183.2 294.6,180.2 294.6,212.0 294.7,189.8 294.8,190.2 294.8,196.1 294.9,188.6 294.9,180.1 294.9,190.5 295,166.6 295.1,168.6 295.1,206.7 295.1,211.3 295.2,169.3 295.2,175.6 295.3,174.8 295.4,176.7 295.4,172.2 295.4,184.2 295.5,165.8 295.6,177.6 295.6,170.1 295.6,184.4 295.7,162.4 295.8,173.2 295.8,194.4 295.9,163.3 295.9,157.1 295.9,167.2 296,159.1 296.1,186.7 296.1,184.8 296.1,205.5 296.2,164.8 296.2,205.4 296.3,191.6 296.4,165.9 296.4,161.1 296.4,161.3 296.5,172.4 296.6,161.0 296.6,187.6 296.6,177.2 296.7,176.4 296.8,158.5 296.8,153.5 296.9,159.9 296.9,170.2 296.9,164.7 297,163.9 297.1,148.9 297.1,210.9 297.1,158.7 297.2,213.2 297.2,164.2 297.3,159.9 297.4,156.2 297.4,162.3 297.4,157.2 297.5,168.4 297.6,162.9 297.6,172.6 297.6,207.6 297.7,212.0 297.8,155.5 297.8,159.7 297.9,177.1 297.9,155.5 297.9,161.3 298,163.3 298.1,170.5 298.1,164.0 298.1,160.4 298.2,160.4 298.2,155.2 298.3,156.7 298.4,179.1 298.4,152.6 298.4,169.1 298.5,161.4 298.6,158.1 298.6,161.9 298.6,158.5 298.7,157.6 298.8,157.9 298.8,164.2 298.9,176.8 298.9,156.0 298.9,154.6 299,155.0 299.1,157.8 299.1,159.2 299.1,148.3 299.2,158.8 299.2,153.4 299.3,156.8 299.4,199.6 299.4,162.2 299.4,158.4 299.5,162.2 299.6,158.3 299.6,151.4 299.6,160.4 299.7,155.7 299.8,159.7 299.8,156.2 299.9,151.1 299.9,159.1 299.9,153.8 300,157.9 300.1,155.4 300.1,171.3 300.1,155.3 300.2,155.7 300.2,170.3 300.3,156.0 300.4,160.9 300.4,182.8 300.4,163.8 300.5,156.3 300.6,211.4 300.6,161.2 300.6,158.2 300.7,155.0 300.8,149.5 300.8,152.2 300.9,154.4 300.9,163.1 300.9,148.4 301,149.9 301.1,161.7 301.1,160.5 301.1,158.5 301.2,168.0 301.2,157.0 301.3,165.4 301.4,161.4 301.4,156.7 301.4,160.7 301.5,168.8 301.6,149.1 301.6,151.0 301.6,175.8 301.7,170.6 301.8,147.7 301.8,160.8 301.9,167.5 301.9,191.8 301.9,153.1 302,163.1 302.1,179.3 302.1,152.7 302.1,158.6 302.2,159.9 302.2,176.6 302.3,154.8 302.4,155.8 302.4,149.4 302.4,159.9 302.5,153.9 302.6,152.5 302.6,188.4 302.6,178.3 302.7,155.8 302.8,151.6 302.8,160.2 302.9,147.2 302.9,155.5 302.9,157.5 303,153.4 303.1,197.5 303.1,168.5 303.1,158.8 303.2,156.6 303.2,154.6 303.3,182.7 303.4,154.3 303.4,151.6 303.4,145.5 303.5,162.2 303.6,153.2 303.6,151.9 303.6,186.1 303.7,154.4 303.8,156.0 303.8,152.2 303.9,175.1 303.9,152.4 303.9,174.7 304,152.4 304.1,142.8 304.1,167.0 304.1,150.9 304.2,156.4 304.2,184.4 304.3,210.8 304.4,155.5 304.4,191.6 304.4,155.9 304.5,156.0 304.6,158.5 304.6,152.1 304.6,152.4 304.7,148.6 304.8,153.9 304.8,148.5 304.9,176.4 304.9,153.5 304.9,150.5 305,157.9 305.1,157.4 305.1,192.5 305.1,157.4 305.2,178.5 305.2,163.7 305.3,159.5 305.4,159.7 305.4,157.8 305.4,146.5 305.5,164.7 305.6,143.5 305.6,157.6 305.6,154.0 305.7,150.9 305.8,152.7 305.8,157.0 305.9,156.3 305.9,167.8 305.9,156.2 306,165.4 306.1,176.0 306.1,158.6 306.1,157.8 306.2,152.1 306.2,156.5 306.3,150.5 306.4,146.3 306.4,172.3 306.4,149.0 306.5,158.9 306.6,178.1 306.6,154.1 306.6,152.2 306.7,147.2 306.8,159.5 306.8,197.6 306.9,174.0 306.9,172.8 306.9,160.9 307,149.9 307.1,147.1 307.1,153.0 307.1,147.3 307.2,154.5 307.2,158.6 307.3,142.3 307.4,150.4 307.4,155.4 307.4,156.1 307.5,158.3 307.6,149.1 307.6,156.7 307.6,168.8 307.7,152.3 307.8,143.5 307.8,148.4 307.9,150.1 307.9,155.8 307.9,187.8 308,148.4 308.1,146.1 308.1,150.7 308.1,156.8 308.2,147.5 308.2,172.6 308.3,153.7 308.4,189.3 308.4,177.7 308.4,148.3 308.5,149.3 308.6,150.5 308.6,198.3 308.6,150.4 308.7,208.8 308.8,158.9 308.8,162.6 308.9,147.1 308.9,155.0 308.9,152.1 309,158.0 309.1,193.4 309.1,190.6 309.1,142.8 309.2,151.8 309.2,152.8 309.3,149.0 309.4,149.8 309.4,158.5 309.4,147.1 309.5,180.3 309.6,151.7 309.6,208.6 309.6,197.5 309.7,145.1 309.8,166.0 309.8,147.6 309.9,175.8 309.9,147.3 309.9,151.2 310,146.4 310.1,172.6 310.1,154.5 310.1,148.6 310.2,151.7 310.2,145.6 310.3,151.5 310.4,147.1 310.4,153.2 310.4,153.1 310.5,153.8 310.6,173.2 310.6,145.2 310.6,176.5 310.7,140.7 310.8,162.5 310.8,140.3 310.9,156.1 310.9,149.7 310.9,150.0 311,167.5 311.1,162.3 311.1,155.0 311.1,157.3 311.2,161.3 311.2,163.8 311.3,147.1 311.4,155.0 311.4,156.1 311.4,172.9 311.5,155.3 311.6,154.3 311.6,173.0 311.6,154.8 311.7,150.4 311.8,145.3 311.8,150.3 311.9,165.2 311.9,156.8 311.9,145.3 312,173.7 312.1,148.8 312.1,148.1 312.1,198.7 312.2,157.6 312.2,149.7 312.3,150.4 312.4,153.7 312.4,147.3 312.4,147.5 312.5,170.7 312.6,145.7 312.6,142.3 312.6,152.9 312.7,143.7 312.8,157.1 312.8,141.0 312.9,148.3 312.9,147.2 312.9,152.2 313,159.9 313.1,149.7 313.1,148.9 313.1,203.2 313.2,149.0 313.2,148.8 313.3,158.4 313.4,156.2 313.4,156.2 313.4,159.1 313.5,152.7 313.6,161.1 313.6,155.2 313.6,143.0 313.7,151.3 313.8,146.8 313.8,149.8 313.9,147.2 313.9,162.8 313.9,157.0 314,142.8 314.1,143.5 314.1,166.4 314.1,152.6 314.2,145.6 314.2,147.3 314.3,149.8 314.4,146.7 314.4,149.4 314.4,149.7 314.5,147.5 314.6,152.4 314.6,152.2 314.6,143.9 314.7,157.0 314.8,156.7 314.8,164.4 314.9,156.0 314.9,180.0 314.9,154.4 315,146.0 315.1,182.5 315.1,167.9 315.1,143.6 315.2,178.0 315.2,149.1 315.3,155.3 315.4,152.1 315.4,149.1 315.4,158.4 315.5,155.0 315.6,157.2 315.6,147.9 315.6,148.8 315.7,142.9 315.8,143.4 315.8,152.0 315.9,146.3 315.9,150.8 315.9,155.4 316,153.3 316.1,176.2 316.1,159.9 316.1,144.3 316.2,160.2 316.2,149.2 316.3,174.1 316.4,153.5 316.4,154.5 316.4,149.9 316.5,138.4 316.6,148.7 316.6,153.0 316.6,156.9 316.7,152.4 316.8,151.9 316.8,155.9 316.9,151.6 316.9,147.0 316.9,150.6 317,148.2 317.1,175.7 317.1,153.2 317.1,160.7 317.2,159.2 317.2,149.4 317.3,183.5 317.4,163.4 317.4,154.5 317.4,141.4 317.5,151.8 317.6,172.6 317.6,154.1 317.6,156.6 317.7,152.9 317.8,150.6 317.8,158.3 317.9,150.3 317.9,150.3 317.9,149.3 318,183.2 318.1,158.6 318.1,149.6 318.1,151.5 318.2,153.3 318.2,149.2 318.3,162.7 318.4,155.6 318.4,150.3 318.4,156.1 318.5,150.3 318.6,178.7 318.6,183.7 318.6,155.6 318.7,145.6 318.8,153.1 318.8,151.4 318.9,159.9 318.9,144.2 318.9,156.0 319,143.8 319.1,147.7 319.1,145.6 319.1,157.7 319.2,157.7 319.2,152.3 319.3,152.1 319.4,161.4 319.4,143.6 319.4,186.1 319.5,151.8 319.6,151.4 319.6,150.4 319.6,143.9 319.7,157.1 319.8,153.7 319.8,170.0 319.9,147.0 319.9,157.4 319.9,155.6 320,152.2 320.1,169.8 320.1,158.0 320.1,150.9 320.2,146.3 320.2,153.4 320.3,155.2 320.4,162.8 320.4,148.7 320.4,155.0 320.5,172.6 320.6,146.0 320.6,148.8 320.6,158.1 320.7,155.4 320.8,154.9 320.8,151.0 320.9,144.9 320.9,147.1 320.9,151.5 321,152.2 321.1,152.6 321.1,168.1 321.1,152.4 321.2,147.6 321.2,191.1 321.3,152.1 321.4,164.7 321.4,144.6 321.4,185.2 321.5,148.4 321.6,146.2 321.6,153.5 321.6,155.7 321.7,160.5 321.8,158.5 321.8,156.2 321.9,157.5 321.9,153.7 321.9,153.3 322,142.8 322.1,150.5 322.1,148.1 322.1,147.0 322.2,157.1 322.2,147.5 322.3,150.7 322.4,162.7 322.4,152.7 322.4,195.7 322.5,179.5 322.6,147.3 322.6,173.6 322.6,155.1 322.7,151.4 322.8,152.6 322.8,151.3 322.9,149.0 322.9,153.7 322.9,150.4 323,146.1 323.1,154.3 323.1,149.3 323.1,154.0 323.2,148.2 323.2,155.4 323.3,151.1 323.4,152.0 323.4,160.7 323.4,186.4 323.5,153.8 323.6,144.1 323.6,170.5 323.6,171.6 323.7,157.1 323.8,152.7 323.8,146.7 323.9,169.1 323.9,144.2 323.9,154.2 324,155.5 324.1,157.6 324.1,154.4 324.1,152.6 324.2,152.4 324.2,163.9 324.3,159.7 324.4,151.5 324.4,155.5 324.4,188.7 324.5,163.6 324.6,188.8 324.6,156.2 324.6,154.3 324.7,155.3 324.8,154.4 324.8,155.1 324.9,151.9 324.9,149.5 324.9,151.0 325,162.9 325.1,150.4 325.1,154.9 325.1,158.9 325.2,149.9 325.2,148.1 325.3,154.3 325.4,155.4 325.4,147.0 325.4,178.5 325.5,149.4 325.6,149.0 325.6,150.2 325.6,153.1 325.7,159.5 325.8,166.9 325.8,146.5 325.9,153.0 325.9,164.6 325.9,153.1 326,145.5 326.1,151.3 326.1,146.5 326.1,161.0 326.2,175.7 326.2,155.7 326.3,176.8 326.4,155.3 326.4,157.0 326.4,199.7 326.5,160.2 326.6,161.0 326.6,155.2 326.6,154.3 326.7,155.9 326.8,153.3 326.8,146.8 326.9,175.1 326.9,155.6 326.9,148.4 327,150.3 327.1,154.3 327.1,148.8 327.1,145.4 327.2,155.6 327.2,151.7 327.3,149.5 327.4,154.0 327.4,153.1 327.4,165.9 327.5,167.5 327.6,145.2 327.6,146.6 327.6,155.7 327.7,148.0 327.8,154.9 327.8,147.3 327.9,147.6 327.9,150.1 327.9,151.4 328,153.9 328.1,150.9 328.1,143.3 328.1,143.2 328.2,146.7 328.2,168.0 328.3,149.6 328.4,159.0 328.4,155.6 328.4,151.2 328.5,150.0 328.6,170.4 328.6,152.8 328.6,149.2 328.7,151.7 328.8,173.5 328.8,146.5 328.9,149.4 328.9,187.7 328.9,154.2 329,148.0 329.1,150.6 329.1,158.3 329.1,154.7 329.2,148.4 329.2,157.4 329.3,156.1 329.4,145.1 329.4,144.1 329.4,162.0 329.5,151.4 329.6,171.2 329.6,140.0 329.6,214.8 329.7,150.4 329.8,155.8 329.8,155.1 329.9,154.8 329.9,156.7 329.9,156.9 330,162.6 330.1,154.4 330.1,151.5 330.1,153.7 330.2,150.3 330.2,151.2 330.3,152.5 330.4,161.4 330.4,162.7 330.4,161.3 330.5,156.3 330.6,149.3 330.6,152.3 330.6,158.3 330.7,158.7 330.8,147.6 330.8,179.0 330.9,161.8 330.9,197.4 330.9,160.5 331,145.7 331.1,162.1 331.1,153.0 331.1,157.2 331.2,157.1 331.2,158.9 331.3,157.4 331.4,159.9 331.4,148.6 331.4,159.0 331.5,151.1 331.6,149.8 331.6,152.2 331.6,152.1 331.7,154.1 331.8,149.4 331.8,174.3 331.9,151.9 331.9,141.8 331.9,157.9 332,152.3 332.1,168.8 332.1,159.2 332.1,154.1 332.2,185.0 332.2,158.0 332.3,158.6 332.4,157.6 332.4,161.6 332.4,153.6 332.5,146.7 332.6,153.7 332.6,170.7 332.6,158.7 332.7,157.6 332.8,152.5 332.8,150.4 332.9,155.1 332.9,156.8 332.9,157.1 333,156.8 333.1,150.9 333.1,181.0 333.1,176.7 333.2,151.0 333.2,196.2 333.3,152.3 333.4,154.4 333.4,162.7 333.4,160.8 333.5,153.6 333.6,164.8 333.6,147.2 333.6,159.5 333.7,160.2 333.8,155.6 333.8,156.5 333.9,154.7 333.9,160.2 333.9,160.4 334,151.9 334.1,162.0 334.1,154.6 334.1,144.4 334.2,154.9 334.2,143.1 334.3,168.6 334.4,216.6 334.4,158.7 334.4,163.3 334.5,161.3 334.6,199.6 334.6,146.3 334.6,178.0 334.7,153.2 334.8,151.6 334.8,174.5 334.9,156.9 334.9,145.1 334.9,154.7 335,154.1 335.1,161.8 335.1,197.4 335.1,145.1 335.2,150.1 335.2,171.2 335.3,167.2 335.4,157.1 335.4,166.8 335.4,137.9 335.5,156.4 335.6,150.1 335.6,148.9 335.6,149.8 335.7,149.8 335.8,155.0 335.8,153.0 335.9,144.0 335.9,153.8 335.9,142.9 336,148.8 336.1,166.9 336.1,161.1 336.1,158.4 336.2,178.5 336.2,155.5 336.3,164.8 336.4,162.8 336.4,147.9 336.4,153.8 336.5,148.7 336.6,172.9 336.6,152.0 336.6,151.1 336.7,166.7 336.8,140.6 336.8,159.0 336.9,152.0 336.9,151.1 336.9,185.5 337,163.5 337.1,152.6 337.1,174.5 337.1,142.0 337.2,152.2 337.2,155.6 337.3,167.7 337.4,168.7 337.4,158.3 337.4,152.1 337.5,170.6 337.6,161.5 337.6,150.5 337.6,155.1 337.7,164.7 337.8,158.3 337.8,155.0 337.9,150.7 337.9,147.4 337.9,154.4 338,155.2 338.1,150.8 338.1,155.9 338.1,176.6 338.2,151.9 338.2,175.7 338.3,177.8 338.4,153.6 338.4,149.7 338.4,156.5 338.5,150.6 338.6,191.9 338.6,161.3 338.6,187.6 338.7,180.9 338.8,155.7 338.8,163.4 338.9,156.3 338.9,191.5 338.9,145.1 339,160.6 339.1,148.7 339.1,148.8 339.1,159.3 339.2,152.0 339.2,156.8 339.3,150.9 339.4,170.0 339.4,150.8 339.4,158.3 339.5,154.4 339.6,150.6 339.6,146.6 339.6,151.3 339.7,155.8 339.8,161.9 339.8,148.8 339.9,161.4 339.9,148.8 339.9,148.0 340,160.3 340.1,155.7 340.1,150.6 340.1,148.8 340.2,153.5 340.2,177.0 340.3,187.1 340.4,200.8 340.4,151.8 340.4,160.2 340.5,143.1 340.6,150.9 340.6,142.7 340.6,171.0 340.7,149.9 340.8,152.2 340.8,151.5 340.9,151.5 340.9,183.0 340.9,150.8 341,139.5 341.1,150.6 341.1,163.2 341.1,153.5 341.2,155.8 341.2,150.9 341.3,150.9 341.4,171.5 341.4,152.1 341.4,167.0 341.5,158.2 341.6,157.0 341.6,172.5 341.6,158.2 341.7,143.5 341.8,156.0 341.8,146.7 341.9,149.9 341.9,158.7 341.9,159.1 342,161.0 342.1,205.7 342.1,156.8 342.1,156.1 342.2,149.5 342.2,153.7 342.3,169.4 342.4,154.9 342.4,157.0 342.4,153.2 342.5,153.8 342.6,149.0 342.6,143.4 342.6,157.9 342.7,159.1 342.8,153.7 342.8,161.0 342.9,147.9 342.9,157.0 342.9,161.4 343,172.3 343.1,167.1 343.1,195.8 343.1,154.2 343.2,159.8 343.2,157.8 343.3,162.2 343.4,158.9 343.4,157.1 343.4,161.5 343.5,160.8 343.6,163.7 343.6,156.3 343.6,162.2 343.7,154.9 343.8,154.6 343.8,153.9 343.9,163.5 343.9,159.8 343.9,155.7 344,160.1 344.1,160.3 344.1,150.7 344.1,168.0 344.2,164.9 344.2,158.2 344.3,166.2 344.4,160.8 344.4,158.8 344.4,165.3 344.5,161.3 344.6,155.6 344.6,156.1 344.6,155.8 344.7,156.5 344.8,154.3 344.8,159.7 344.9,151.7 344.9,152.9 344.9,162.1 345,152.3 345.1,170.5 345.1,160.2 345.1,175.9 345.2,179.7 345.2,158.1 345.3,153.6 345.4,159.9 345.4,157.2 345.4,150.6 345.5,152.3 345.6,203.3 345.6,155.3 345.6,150.3 345.7,158.8 345.8,156.2 345.8,187.6 345.9,156.1 345.9,160.5 345.9,147.0 346,151.4 346.1,158.9 346.1,188.3 346.1,153.1 346.2,150.5 346.2,153.4 346.3,199.4 346.4,197.3 346.4,156.7 346.4,166.8 346.5,172.4 346.6,159.5 346.6,165.1 346.6,152.9 346.7,186.5 346.8,197.3 346.8,157.9 346.9,157.5 346.9,159.7 346.9,163.7 347,170.4 347.1,156.8 347.1,151.9 347.1,190.6 347.2,156.8 347.2,159.6 347.3,154.8 347.4,153.2 347.4,155.1 347.4,184.1 347.5,157.9 347.6,193.8 347.6,153.4 347.6,151.4 347.7,160.9 347.8,188.5 347.8,155.4 347.9,153.5 347.9,160.2 347.9,149.0 348,159.6 348.1,163.2 348.1,150.8 348.1,160.6 348.2,163.8 348.2,151.0 348.3,162.0 348.4,149.1 348.4,156.0 348.4,149.9 348.5,168.8 348.6,159.9 348.6,153.9 348.6,157.2 348.7,156.3 348.8,162.7 348.8,160.5 348.9,158.3 348.9,208.5 348.9,151.8 349,157.2 349.1,149.0 349.1,151.9 349.1,158.4 349.2,160.2 349.2,153.4 349.3,161.7 349.4,154.6 349.4,145.3 349.4,154.2 349.5,143.7 349.6,173.1 349.6,149.6 349.6,149.0 349.7,153.6 349.8,153.8 349.8,153.8 349.9,148.8 349.9,175.7 349.9,154.3 350,178.7 350.1,157.6 350.1,153.3 350.1,152.9 350.2,187.6 350.2,215.0 350.3,151.6 350.4,153.2 350.4,148.7 350.4,149.3 350.5,147.6 350.6,149.1 350.6,152.0 350.6,176.6 350.7,152.9 350.8,156.3 350.8,153.6 350.9,156.4 350.9,149.3 350.9,148.6 351,157.6 351.1,153.7 351.1,148.9 351.1,154.5 351.2,156.7 351.2,154.7 351.3,163.0 351.4,149.7 351.4,159.5 351.4,152.1 351.5,155.3 351.6,158.5 351.6,152.1 351.6,154.9 351.7,174.8 351.8,175.8 351.8,155.3 351.9,163.2 351.9,160.9 351.9,165.8 352,152.9 352.1,158.9 352.1,151.4 352.1,158.2 352.2,164.9 352.2,158.9 352.3,154.9 352.4,153.8 352.4,158.8 352.4,159.9 352.5,152.7 352.6,154.6 352.6,158.9 352.6,152.0 352.7,154.7 352.8,155.4 352.8,165.9 352.9,175.5 352.9,159.5 352.9,169.5 353,161.2 353.1,167.9 353.1,154.4 353.1,155.8 353.2,156.1 353.2,154.5 353.3,159.3 353.4,162.4 353.4,156.9 353.4,157.6 353.5,194.1 353.6,173.9 353.6,157.1 353.6,156.9 353.7,204.8 353.8,158.0 353.8,162.8 353.9,163.6 353.9,157.0 353.9,165.9 354,160.8 354.1,159.6 354.1,172.0 354.1,161.3 354.2,159.2 354.2,162.4 354.3,155.0 354.4,164.0 354.4,163.1 354.4,155.0 354.5,157.3 354.6,185.0 354.6,160.2 354.6,157.0 354.7,155.4 354.8,158.5 354.8,173.1 354.9,161.8 354.9,157.1 354.9,155.1 355,157.0 355.1,158.2 355.1,164.0 355.1,165.3 355.2,158.4 355.2,174.6 355.3,160.5 355.4,164.4 355.4,163.8 355.4,148.1 355.5,157.2 355.6,166.4 355.6,158.5 355.6,164.4 355.7,154.0 355.8,157.5 355.8,153.6 355.9,153.8 355.9,160.8 355.9,149.7 356,173.6 356.1,156.3 356.1,158.7 356.1,151.6 356.2,157.9 356.2,166.4 356.3,157.2 356.4,160.1 356.4,165.8 356.4,158.8 356.5,161.4 356.6,160.4 356.6,154.0 356.6,153.9 356.7,159.4 356.8,178.7 356.8,158.5 356.9,148.8 356.9,157.7 356.9,191.5 357,197.2 357.1,160.0 357.1,187.6 357.1,160.7 357.2,168.3 357.2,160.9 357.3,161.7 357.4,154.2 357.4,154.6 357.4,160.8 357.5,158.3 357.6,157.3 357.6,161.3 357.6,162.2 357.7,157.9 357.8,154.8 357.8,162.8 357.9,150.9 357.9,168.9 357.9,151.2 358,158.8 358.1,155.8 358.1,155.5 358.1,157.5 358.2,162.5 358.2,147.0 358.3,158.4 358.4,150.1 358.4,163.3 358.4,144.5 358.5,175.6 358.6,148.9 358.6,155.3 358.6,166.7 358.7,154.7 358.8,172.2 358.8,162.9 358.9,157.2 358.9,157.3 358.9,159.3 359,153.3 359.1,154.9 359.1,147.6 359.1,153.1 359.2,154.4 359.2,156.5 359.3,157.6 359.4,159.8 359.4,142.7 359.4,156.9 359.5,161.1 359.6,155.9 359.6,151.3 359.6,185.9 359.7,153.8 359.8,158.7 359.8,158.4 359.9,158.9 359.9,158.0 359.9,151.7 360,152.8 360.1,154.2 360.1,151.9 360.1,159.3 360.2,162.7 360.2,160.4 360.3,156.3 360.4,153.3 360.4,153.7 360.4,151.9 360.5,159.0 360.6,163.5 360.6,158.3 360.6,152.3 360.7,142.5 360.8,156.3 360.8,153.6 360.9,158.9 360.9,157.8 360.9,155.8 361,160.4 361.1,152.7 361.1,163.4 361.1,170.0 361.2,157.6 361.2,158.2 361.3,154.1 361.4,172.9 361.4,153.4 361.4,160.6 361.5,158.1 361.6,153.7 361.6,153.2 361.6,158.1 361.7,156.8 361.8,165.8 361.8,158.9 361.9,149.0 361.9,160.7 361.9,152.4 362,155.8 362.1,188.0 362.1,159.4 362.1,158.5 362.2,162.7 362.2,153.1 362.3,157.9 362.4,155.9 362.4,161.9 362.4,204.9 362.5,151.5 362.6,158.6 362.6,181.5 362.6,163.1 362.7,172.5 362.8,156.6 362.8,159.2 362.9,157.6 362.9,162.1 362.9,158.9 363,152.1 363.1,153.9 363.1,162.6 363.1,159.2 363.2,156.6 363.2,162.4 363.3,157.5 363.4,153.8 363.4,163.8 363.4,164.9 363.5,155.1 363.6,171.0 363.6,151.8 363.6,150.1 363.7,161.5 363.8,150.5 363.8,160.8 363.9,163.9 363.9,163.6 363.9,160.8 364,157.2 364.1,156.7 364.1,154.1 364.1,158.6 364.2,153.4 364.2,152.0 364.3,161.6 364.4,166.4 364.4,155.4 364.4,159.1 364.5,164.7 364.6,164.2 364.6,154.9 364.6,161.5 364.7,150.9 364.8,162.0 364.8,155.5 364.9,160.8 364.9,154.8 364.9,159.0 365,162.4 365.1,153.0 365.1,164.2 365.1,161.1 365.2,150.1 365.2,157.2 365.3,155.1 365.4,159.2 365.4,160.1 365.4,160.7 365.5,156.1 365.6,151.7 365.6,163.8 365.6,157.9 365.7,149.2 365.8,154.7 365.8,172.3 365.9,152.2 365.9,155.6 365.9,167.8 366,159.0 366.1,161.0 366.1,168.4 366.1,159.0 366.2,160.4 366.2,159.7 366.3,153.9 366.4,156.6 366.4,162.4 366.4,161.8 366.5,161.0 366.6,162.3 366.6,154.5 366.6,159.3 366.7,163.2 366.8,173.8 366.8,164.2 366.9,165.3 366.9,167.6 366.9,158.2 367,174.0 367.1,158.7 367.1,164.1 367.1,172.1 367.2,163.6 367.2,162.8 367.3,179.6 367.4,159.3 367.4,157.2 367.4,161.9 367.5,158.4 367.6,165.1 367.6,157.1 367.6,178.6 367.7,180.1 367.8,157.1 367.8,198.2 367.9,154.6 367.9,158.2 367.9,175.5 368,173.3 368.1,164.1 368.1,161.0 368.1,153.1 368.2,168.6 368.2,213.4 368.3,161.1 368.4,158.7 368.4,148.6 368.4,158.6 368.5,156.8 368.6,161.8 368.6,190.3 368.6,154.2 368.7,158.9 368.8,203.2 368.8,156.8 368.9,160.3 368.9,167.7 368.9,160.6 369,159.5 369.1,163.3 369.1,172.2 369.1,162.3 369.2,172.9 369.2,154.3 369.3,167.1 369.4,155.7 369.4,159.9 369.4,162.2 369.5,158.3 369.6,166.6 369.6,158.9 369.6,159.2 369.7,169.0 369.8,153.4 369.8,158.8 369.9,164.2 369.9,171.6 369.9,162.0 370,171.8 370.1,163.6 370.1,161.9 370.1,155.5 370.2,165.6 370.2,154.3 370.3,165.6 370.4,162.9 370.4,166.8 370.4,161.1 370.5,157.0 370.6,163.3 370.6,161.5 370.6,159.0 370.7,157.4 370.8,163.5 370.8,164.9 370.9,159.6 370.9,160.7 370.9,172.5 371,165.1 371.1,161.6 371.1,163.1 371.1,161.9 371.2,164.7 371.2,158.1 371.3,164.5 371.4,162.6 371.4,162.1 371.4,159.9 371.5,156.2 371.6,154.7 371.6,157.6 371.6,161.0 371.7,158.2 371.8,166.5 371.8,165.6 371.9,166.9 371.9,167.0 371.9,156.1 372,168.5 372.1,166.1 372.1,168.8 372.1,164.3 372.2,161.5 372.2,159.8 372.3,160.5 372.4,171.1 372.4,160.4 372.4,163.3 372.5,162.9 372.6,167.0 372.6,159.4 372.6,161.4 372.7,150.3 372.8,152.6 372.8,157.9 372.9,156.8 372.9,151.9 372.9,155.1 373,148.4 373.1,169.9 373.1,165.2 373.1,159.0 373.2,158.3 373.2,152.3 373.3,153.6 373.4,152.5 373.4,159.6 373.4,172.2 373.5,149.7 373.6,159.5 373.6,158.6 373.6,172.2 373.7,173.7 373.8,161.5 373.8,153.0 373.9,155.9 373.9,168.3 373.9,160.3 374,159.2 374.1,212.5 374.1,155.3 374.1,154.8 374.2,161.5 374.2,162.1 374.3,151.5 374.4,172.1 374.4,156.3 374.4,161.0 374.5,154.4 374.6,156.8 374.6,154.0 374.6,152.3 374.7,154.6 374.8,164.1 374.8,153.3 374.9,147.8 374.9,155.2 374.9,156.3 375,159.8 375.1,150.5 375.1,153.9 375.1,159.8 375.2,155.1 375.2,157.0 375.3,159.2 375.4,147.2 375.4,167.1 375.4,152.5 375.5,155.1 375.6,160.2 375.6,161.4 375.6,161.5 375.7,163.1 375.8,161.4 375.8,161.8 375.9,155.0 375.9,160.3 375.9,149.9 376,151.5 376.1,152.4 376.1,153.5 376.1,151.9 376.2,150.2 376.2,149.2 376.3,154.2 376.4,154.8 376.4,157.6 376.4,155.6 376.5,148.7 376.6,148.9 376.6,145.4 376.6,151.7 376.7,158.8 376.8,155.9 376.8,154.1 376.9,160.3 376.9,148.5 376.9,153.3 377,158.9 377.1,159.1 377.1,151.7 377.1,152.9 377.2,148.4 377.2,154.5 377.3,155.9 377.4,186.6 377.4,150.7 377.4,157.0 377.5,156.6 377.6,144.9 377.6,151.0 377.6,162.5 377.7,152.4 377.8,155.8 377.8,160.7 377.9,165.4 377.9,142.1 377.9,156.3 378,148.5 378.1,154.5 378.1,152.6 378.1,146.2 378.2,160.2 378.2,157.0 378.3,151.7 378.4,151.5 378.4,188.9 378.4,149.3 378.5,144.7 378.6,157.4 378.6,160.5 378.6,156.5 378.7,153.7 378.8,156.9 378.8,157.5 378.9,155.4 378.9,152.4 378.9,157.9 379,151.5 379.1,156.4 379.1,145.8 379.1,172.9 379.2,167.7 379.2,155.8 379.3,153.9 379.4,192.3 379.4,157.0 379.4,160.3 379.5,158.2 379.6,151.8 379.6,151.2 379.6,164.3 379.7,154.1 379.8,156.2 379.8,154.4 379.9,147.5 379.9,189.0 379.9,156.4 380,150.6 380.1,167.9 380.1,192.9 380.1,153.0 380.2,152.8 380.2,154.7 380.3,149.9 380.4,156.9 380.4,154.8 380.4,154.6 380.5,168.5 380.6,158.0 380.6,155.2 380.6,152.2 380.7,155.0 380.8,175.8 380.8,185.3 380.9,184.4 380.9,149.5 380.9,157.0 381,151.6 381.1,148.0 381.1,147.2 381.1,155.9 381.2,151.1 381.2,146.8 381.3,154.6 381.4,152.1 381.4,144.3 381.4,163.4 381.5,155.6 381.6,155.0 381.6,157.0 381.6,153.2 381.7,174.5 381.8,158.5 381.8,152.2 381.9,152.5 381.9,158.0 381.9,156.7 382,154.9 382.1,151.8 382.1,163.7 382.1,151.7 382.2,152.4 382.2,166.1 382.3,146.2 382.4,149.1 382.4,155.4 382.4,158.0 382.5,184.5 382.6,152.8 382.6,159.6 382.6,160.9 382.7,148.6 382.8,145.4 382.8,146.7 382.9,150.7 382.9,161.1 382.9,150.4 383,177.2 383.1,156.6 383.1,148.7 383.1,143.9 383.2,158.7 383.2,178.1 383.3,178.6 383.4,185.9 383.4,152.5 383.4,217.1 383.5,168.8 383.6,151.4 383.6,156.8 383.6,147.0 383.7,149.2 383.8,171.8 383.8,164.0 383.9,150.2 383.9,145.7 383.9,148.8 384,187.3 384.1,145.9 384.1,150.7 384.1,154.6 384.2,156.1 384.2,149.9 384.3,160.3 384.4,163.5 384.4,155.9 384.4,154.8 384.5,178.1 384.6,148.4 384.6,155.0 384.6,176.3 384.7,150.2 384.8,153.0 384.8,151.2 384.9,156.8 384.9,146.3 384.9,154.6 385,175.7 385.1,153.1 385.1,137.5 385.1,151.3 385.2,180.1 385.2,152.7 385.3,155.6 385.4,202.6 385.4,151.6 385.4,171.3 385.5,156.2 385.6,147.9 385.6,147.8 385.6,209.1 385.7,152.8 385.8,163.6 385.8,182.4 385.9,156.2 385.9,164.3 385.9,160.7 386,156.1 386.1,153.9 386.1,189.8 386.1,154.1 386.2,158.9 386.2,204.2 386.3,160.6 386.4,158.1 386.4,161.0 386.4,153.7 386.5,152.1 386.6,152.2 386.6,159.7 386.6,160.5 386.7,155.7 386.8,161.3 386.8,152.5 386.9,155.9 386.9,176.4 386.9,180.2 387,151.6 387.1,176.0 387.1,176.4 387.1,151.7 387.2,177.0 387.2,155.1 387.3,153.2 387.4,154.6 387.4,159.6 387.4,155.0 387.5,158.6 387.6,158.2 387.6,151.6 387.6,188.3 387.7,152.2 387.8,165.4 387.8,157.6 387.9,153.7 387.9,155.2 387.9,173.0 388,162.7 388.1,180.7 388.1,150.9 388.1,153.7 388.2,154.8 388.2,155.3 388.3,164.5 388.4,153.4 388.4,159.0 388.4,156.5 388.5,161.1 388.6,161.6 388.6,159.3 388.6,161.9 388.7,156.7 388.8,153.2 388.8,151.3 388.9,159.0 388.9,158.1 388.9,151.9 389,166.0 389.1,155.4 389.1,157.6 389.1,155.1 389.2,159.7 389.2,157.0 389.3,153.9 389.4,159.1 389.4,152.1 389.4,174.3 389.5,153.1 389.6,152.6 389.6,155.6 389.6,153.2 389.7,161.2 389.8,157.5 389.8,149.0 389.9,148.8 389.9,154.5 389.9,153.7 390,155.1 390.1,181.0 390.1,168.5 390.1,157.3 390.2,155.6 390.2,149.4 390.3,162.0 390.4,153.5 390.4,147.2 390.4,150.3 390.5,153.7 390.6,157.7 390.6,153.7 390.6,154.7 390.7,152.1 390.8,165.7 390.8,149.9 390.9,161.7 390.9,161.7 390.9,196.1 391,155.2 391.1,149.3 391.1,153.7 391.1,154.2 391.2,159.8 391.2,155.4 391.3,152.3 391.4,156.2 391.4,158.5 391.4,158.7 391.5,148.4 391.6,153.4 391.6,151.6 391.6,173.0 391.7,153.5 391.8,155.4 391.8,154.2 391.9,155.6 391.9,177.2 391.9,159.5 392,154.0 392.1,158.4 392.1,152.9 392.1,153.7 392.2,153.6 392.2,160.6 392.3,153.0 392.4,158.2 392.4,167.1 392.4,152.2 392.5,145.5 392.6,155.4 392.6,152.9 392.6,214.7 392.7,149.1 392.8,152.4 392.8,163.2 392.9,164.7 392.9,170.5 392.9,155.6 393,151.5 393.1,156.5 393.1,145.6 393.1,158.4 393.2,152.7 393.2,163.7 393.3,160.3 393.4,150.9 393.4,170.0 393.4,164.5 393.5,160.0 393.6,156.1 393.6,152.5 393.6,148.3 393.7,148.0 393.8,159.7 393.8,151.7 393.9,156.3 393.9,146.6 393.9,152.8 394,152.3 394.1,151.3 394.1,159.1 394.1,149.9 394.2,150.1 394.2,169.4 394.3,155.5 394.4,209.9 394.4,138.4 394.4,152.8 394.5,146.4 394.6,147.3 394.6,168.6 394.6,149.2 394.7,163.4 394.8,157.4 394.8,148.6 394.9,151.5 394.9,150.3 394.9,145.5 395,148.5 395.1,147.5 395.1,149.3 395.1,188.3 395.2,149.9 395.2,145.3 395.3,146.9 395.4,150.3 395.4,154.0 395.4,153.1 395.5,144.7 395.6,150.6 395.6,162.4 395.6,177.8 395.7,147.5 395.8,155.5 395.8,149.8 395.9,147.5 395.9,147.2 395.9,148.2 396,155.2 396.1,150.9 396.1,147.1 396.1,180.0 396.2,152.4 396.2,154.9 396.3,149.9 396.4,151.6 396.4,148.6 396.4,150.9 396.5,144.5 396.6,155.6 396.6,147.4 396.6,153.7 396.7,144.0 396.8,148.8 396.8,164.9 396.9,148.7 396.9,144.1 396.9,148.3 397,152.1 397.1,147.7 397.1,168.8 397.1,161.4 397.2,152.2 397.2,150.1 397.3,150.7 397.4,152.0 397.4,190.2 397.4,174.5 397.5,152.5 397.6,187.8 397.6,154.1 397.6,148.2 397.7,155.9 397.8,143.2 397.8,217.7 397.9,157.3 397.9,150.0 397.9,144.0 398,180.7 398.1,148.3 398.1,150.4 398.1,150.7 398.2,146.4 398.2,155.3 398.3,203.5 398.4,145.8 398.4,152.9 398.4,149.2 398.5,152.3 398.6,142.8 398.6,144.4 398.6,147.6 398.7,149.9 398.8,148.1 398.8,147.9 398.9,164.8 398.9,152.2 398.9,145.1 399,153.7 399.1,147.5 399.1,148.8 399.1,146.7 399.2,147.8 399.2,148.5 399.3,153.0 399.4,178.6 399.4,152.8 399.4,143.6 399.5,171.7 399.6,149.2 399.6,152.6 399.6,149.1 399.7,150.4 399.8,161.9 399.8,154.1 399.9,145.7 399.9,150.8 399.9,152.6 400,184.9 400.1,153.3 400.1,145.5 400.1,206.1 400.2,158.0 400.2,154.8 400.3,155.8 400.4,144.7 400.4,151.5 400.4,146.9 400.5,168.5 400.6,150.1 400.6,151.8 400.6,154.4 400.7,152.9 400.8,157.0 400.8,157.4 400.9,153.0 400.9,142.6 400.9,145.1 401,146.8 401.1,155.1 401.1,158.8 401.1,154.8 401.2,201.8 401.2,149.8 401.3,145.0 401.4,159.7 401.4,153.3 401.4,157.7 401.5,162.4 401.6,153.2 401.6,160.5 401.6,164.7 401.7,150.1 401.8,150.1 401.8,146.9 401.9,148.9 401.9,161.8 401.9,147.4 402,147.6 402.1,155.5 402.1,154.6 402.1,155.4 402.2,147.2 402.2,203.9 402.3,155.2 402.4,152.4 402.4,153.3 402.4,146.3 402.5,189.3 402.6,144.5 402.6,142.6 402.6,146.2 402.7,141.5 402.8,152.9 402.8,169.3 402.9,147.6 402.9,183.1 402.9,156.2 403,143.0 403.1,146.2 403.1,158.8 403.1,157.7 403.2,160.6 403.2,152.7 403.3,151.2 403.4,147.9 403.4,151.1 403.4,152.9 403.5,155.3 403.6,156.7 403.6,151.4 403.6,188.3 403.7,157.1 403.8,154.8 403.8,144.1 403.9,147.4 403.9,154.0 403.9,147.4 404,148.5 404.1,147.6 404.1,149.3 404.1,147.8 404.2,157.6 404.2,178.6 404.3,162.7 404.4,150.7 404.4,153.6 404.4,153.2 404.5,154.2 404.6,203.3 404.6,154.3 404.6,145.5 404.7,166.6 404.8,158.0 404.8,178.3 404.9,147.5 404.9,186.0 404.9,167.4 405,168.1 405.1,146.4 405.1,158.2 405.1,151.7 405.2,153.6 405.2,148.9 405.3,168.0 405.4,154.1 405.4,157.2 405.4,159.2 405.5,160.5 405.6,196.5 405.6,146.9 405.6,162.8 405.7,153.2 405.8,151.0 405.8,160.5 405.9,155.1 405.9,158.6 405.9,161.8 406,157.2 406.1,161.8 406.1,156.2 406.1,148.9 406.2,158.3 406.2,159.7 406.3,148.7 406.4,152.7 406.4,154.1 406.4,156.1 406.5,153.4 406.6,157.3 406.6,151.5 406.6,158.0 406.7,152.8 406.8,153.2 406.8,158.6 406.9,147.7 406.9,157.9 406.9,155.7 407,150.4 407.1,151.8 407.1,170.2 407.1,156.0 407.2,158.1 407.2,158.6 407.3,158.6 407.4,160.8 407.4,167.5 407.4,157.5 407.5,195.8 407.6,165.1 407.6,167.0 407.6,157.3 407.7,153.9 407.8,159.1 407.8,213.2 407.9,151.2 407.9,162.1 407.9,153.4 408,201.8 408.1,161.4 408.1,156.3 408.1,157.4 408.2,159.7 408.2,149.8 408.3,170.5 408.4,152.6 408.4,154.1 408.4,170.8 408.5,157.6 408.6,162.1 408.6,162.8 408.6,166.9 408.7,157.4 408.8,157.8 408.8,158.2 408.9,154.5 408.9,165.8 408.9,157.5 409,179.5 409.1,153.3 409.1,157.6 409.1,148.9 409.2,160.9 409.2,161.8 409.3,158.1 409.4,181.8 409.4,150.9 409.4,156.3 409.5,192.6 409.6,161.3 409.6,158.8 409.6,158.6 409.7,152.6 409.8,163.6 409.8,147.4 409.9,161.9 409.9,175.4 409.9,157.7 410,154.6 410.1,166.4 410.1,196.4 410.1,157.3 410.2,170.9 410.2,158.6 410.3,152.5 410.4,149.8 410.4,156.7 410.4,149.9 410.5,201.2 410.6,212.0 410.6,175.2 410.6,160.9 410.7,156.4 410.8,155.4 410.8,153.6 410.9,151.1 410.9,154.7 410.9,161.4 411,158.7 411.1,150.8 411.1,157.5 411.1,163.4 411.2,182.9 411.2,153.7 411.3,154.3 411.4,159.1 411.4,155.2 411.4,156.2 411.5,159.9 411.6,161.3 411.6,176.0 411.6,158.3 411.7,162.7 411.8,160.5 411.8,186.5 411.9,156.2 411.9,149.8 411.9,154.5 412,157.5 412.1,151.9 412.1,190.0 412.1,163.6 412.2,151.6 412.2,158.8 412.3,151.9 412.4,153.4 412.4,159.5 412.4,158.3 412.5,162.4 412.6,146.3 412.6,150.8 412.6,164.4 412.7,155.9 412.8,192.2 412.8,169.1 412.9,152.1 412.9,150.2 412.9,151.5 413,147.9 413.1,149.6 413.1,187.6 413.1,181.9 413.2,156.6 413.2,183.7 413.3,156.6 413.4,161.3 413.4,170.1 413.4,154.3 413.5,149.7 413.6,178.7 413.6,148.2 413.6,145.5 413.7,159.6 413.8,153.7 413.8,196.9 413.9,147.5 413.9,182.9 413.9,170.6 414,156.0 414.1,148.2 414.1,187.0 414.1,150.6 414.2,178.2 414.2,159.5 414.3,154.8 414.4,158.2 414.4,186.5 414.4,152.5 414.5,158.9 414.6,177.0 414.6,209.7 414.6,152.7 414.7,154.2 414.8,172.6 414.8,151.2 414.9,176.8 414.9,155.1 414.9,163.8 415,148.4 415.1,170.7 415.1,156.4 415.1,152.1 415.2,142.7 415.2,170.1 415.3,155.8 415.4,164.7 415.4,155.3 415.4,152.3 415.5,158.1 415.6,151.9 415.6,154.8 415.6,155.1 415.7,177.1 415.8,156.9 415.8,210.8 415.9,147.6 415.9,155.9 415.9,153.3 416,170.0 416.1,160.0 416.1,153.2 416.1,150.3 416.2,149.3 416.2,155.1 416.3,180.9 416.4,152.6 416.4,151.9 416.4,153.3 416.5,158.5 416.6,157.9 416.6,147.9 416.6,149.5 416.7,155.0 416.8,152.1 416.8,150.0 416.9,143.5 416.9,150.2 416.9,152.3 417,180.6 417.1,146.2 417.1,157.4 417.1,160.6 417.2,151.9 417.2,206.9 417.3,156.6 417.4,152.3 417.4,192.3 417.4,150.1 417.5,150.3 417.6,150.4 417.6,151.4 417.6,146.8 417.7,148.2 417.8,159.0 417.8,156.3 417.9,142.7 417.9,156.2 417.9,179.6 418,167.7 418.1,152.8 418.1,150.0 418.1,155.0 418.2,152.5 418.2,152.4 418.3,142.8 418.4,152.4 418.4,149.4 418.4,155.5 418.5,156.5 418.6,195.9 418.6,152.3 418.6,159.9 418.7,161.7 418.8,157.4 418.8,156.7 418.9,180.3 418.9,148.8 418.9,159.8 419,155.1 419.1,165.5 419.1,189.2 419.1,151.6 419.2,150.4 419.2,149.0 419.3,147.3 419.4,181.4 419.4,152.9 419.4,155.1 419.5,158.0 419.6,157.3 419.6,176.9 419.6,157.5 419.7,158.0 419.8,159.7 419.8,170.6 419.9,160.7 419.9,155.8 419.9,162.3 420,158.9 420.1,160.9 420.1,160.0 420.1,166.4 420.2,155.3 420.2,160.2 420.3,155.9 420.4,157.2 420.4,162.8 420.4,159.8 420.5,155.8 420.6,159.8 420.6,156.5 420.6,155.3 420.7,156.0 420.8,155.9 420.8,160.4 420.9,145.7 420.9,159.0 420.9,155.0 421,155.9 421.1,156.6 421.1,160.3 421.1,159.7 421.2,157.8 421.2,159.9 421.3,150.6 421.4,152.8 421.4,158.2 421.4,159.2 421.5,153.8 421.6,158.9 421.6,155.2 421.6,158.4 421.7,167.9 421.8,162.3 421.8,158.1 421.9,152.3 421.9,166.1 421.9,160.5 422,153.4 422.1,157.8 422.1,155.6 422.1,152.1 422.2,166.1 422.2,156.9 422.3,158.6 422.4,163.7 422.4,157.1 422.4,150.2 422.5,153.3 422.6,168.4 422.6,157.0 422.6,160.0 422.7,164.1 422.8,154.3 422.8,151.7 422.9,206.1 422.9,150.1 422.9,163.1 423,158.7 423.1,154.6 423.1,151.6 423.1,152.0 423.2,158.2 423.2,155.7 423.3,157.9 423.4,153.3 423.4,153.4 423.4,152.8 423.5,159.3 423.6,157.8 423.6,154.8 423.6,154.3 423.7,159.9 423.8,152.3 423.8,176.7 423.9,158.3 423.9,161.8 423.9,174.7 424,159.2 424.1,159.5 424.1,153.4 424.1,152.6 424.2,145.2 424.2,150.6 424.3,157.8 424.4,156.8 424.4,160.1 424.4,154.2 424.5,155.9 424.6,149.1 424.6,157.5 424.6,163.7 424.7,165.0 424.8,152.5 424.8,148.7 424.9,164.1 424.9,159.1 424.9,150.0 425,154.9 425.1,162.8 425.1,180.8 425.1,161.7 425.2,161.2 425.2,158.9 425.3,150.0 425.4,158.7 425.4,160.3 425.4,159.8 425.5,147.3 425.6,153.1 425.6,160.5 425.6,162.2 425.7,176.2 425.8,153.1 425.8,157.4 425.9,160.2 425.9,155.1 425.9,181.4 426,156.1 426.1,150.1 426.1,183.7 426.1,148.9 426.2,151.8 426.2,143.2 426.3,161.9 426.4,166.7 426.4,153.0 426.4,166.8 426.5,167.7 426.6,149.4 426.6,162.4 426.6,153.4 426.7,148.2 426.8,161.8 426.8,154.7 426.9,165.2 426.9,149.5 426.9,152.4 427,148.7 427.1,160.3 427.1,197.6 427.1,155.4 427.2,161.7 427.2,158.6 427.3,159.5 427.4,197.6 427.4,160.7 427.4,149.8 427.5,148.5 427.6,157.8 427.6,152.9 427.6,148.4 427.7,154.5 427.8,155.6 427.8,189.2 427.9,151.5 427.9,151.6 427.9,152.2 428,149.8 428.1,142.8 428.1,155.7 428.1,149.4 428.2,148.3 428.2,190.2 428.3,193.4 428.4,162.5 428.4,204.3 428.4,155.8 428.5,197.6 428.6,152.3 428.6,154.4 428.6,202.9 428.7,148.0 428.8,208.9 428.8,148.2 428.9,215.2 428.9,145.1 428.9,150.3 429,159.2 429.1,157.0 429.1,155.6 429.1,157.8 429.2,159.7 429.2,192.1 429.3,147.2 429.4,153.1 429.4,157.1 429.4,152.2 429.5,156.0 429.6,160.7 429.6,149.4 429.6,190.1 429.7,193.4 429.8,159.5 429.8,159.2 429.9,157.7 429.9,192.0 429.9,158.4 430,179.6 430.1,169.1 430.1,155.3 430.1,197.9 430.2,151.6 430.2,157.0 430.3,181.0 430.4,196.3 430.4,171.5 430.4,152.1 430.5,161.3 430.6,156.6 430.6,154.5 430.6,158.0 430.7,158.9 430.8,156.6 430.8,170.4 430.9,212.1 430.9,157.0 430.9,164.7 431,162.8 431.1,172.5 431.1,188.0 431.1,192.7 431.2,156.9 431.2,162.2 431.3,161.6 431.4,176.2 431.4,175.2 431.4,160.3 431.5,205.0 431.6,155.1 431.6,179.8 431.6,169.1 431.7,156.5 431.8,203.1 431.8,158.9 431.9,162.3 431.9,162.6 431.9,160.8 432,164.1 432.1,164.0 432.1,151.9 432.1,160.0 432.2,165.4 432.2,179.5 432.3,159.0 432.4,158.7 432.4,161.6 432.4,211.7 432.5,165.7 432.6,154.2 432.6,164.1 432.6,192.1 432.7,167.2 432.8,159.5 432.8,203.6 432.9,162.4 432.9,182.5 432.9,159.2 433,202.5 433.1,171.4 433.1,163.3 433.1,163.1 433.2,197.4 433.2,209.8 433.3,185.4 433.4,198.6 433.4,192.1 433.4,166.5 433.5,162.5 433.6,165.4 433.6,167.1 433.6,158.5 433.7,162.7 433.8,156.7 433.8,161.7 433.9,168.5 433.9,209.7 433.9,163.9 434,179.9 434.1,165.7 434.1,160.8 434.1,162.0 434.2,166.2 434.2,168.9 434.3,160.7 434.4,200.9 434.4,196.9 434.4,205.6 434.5,164.8 434.6,207.5 434.6,164.2 434.6,168.7 434.7,169.1 434.8,147.1 434.8,172.3 434.9,162.8 434.9,209.7 434.9,206.6 435,158.3 435.1,155.9 435.1,160.9 435.1,211.4 435.2,187.5 435.2,168.9 435.3,165.8 435.4,165.3 435.4,190.9 435.4,163.8 435.5,193.7 435.6,182.3 435.6,167.2 435.6,164.1 435.7,162.3 435.8,164.0 435.8,212.0 435.9,167.4 435.9,154.1 435.9,173.2 436,206.4 436.1,165.5 436.1,175.9 436.1,180.7 436.2,183.5 436.2,168.3 436.3,190.6 436.4,200.0 436.4,175.5 436.4,208.1 436.5,188.1 436.6,210.6 436.6,170.1 436.6,173.1 436.7,170.2 436.8,163.8 436.8,206.4 436.9,186.8 436.9,199.9 436.9,172.0 437,164.5 437.1,163.2 437.1,171.3 437.1,186.1 437.2,194.0 437.2,188.8 437.3,200.7 437.4,207.9 437.4,209.9 437.4,214.9 437.5,218.6 437.6,216.6 437.6,217.2 437.6,219.7 437.7,219.2 437.8,215.2 437.8,215.7 437.9,218.9 437.9,216.7 437.9,220.6 438,216.4 438.1,217.5 438.1,215.9 438.1,218.8 438.2,216.7 438.2,219.6 438.3,218.4 438.4,221.4 438.4,215.5 438.4,219.4 438.5,220.0 438.6,217.5 438.6,218.2 438.6,216.3 438.7,218.6 438.8,219.0 438.8,218.3 438.9,218.7 438.9,215.0 438.9,219.0 439,215.5 439.1,218.9 439.1,215.0 439.1,221.4 439.2,219.9 439.2,215.4 439.3,220.7 439.4,219.4 439.4,217.4 439.4,215.2 439.5,220.4 439.6,215.0 439.6,218.8 439.6,219.5 439.7,221.1 439.8,217.5 439.8,221.5 439.9,217.5 439.9,215.0 439.9,219.0 440,214.3 440.1,217.5 440.1,216.6 440.1,220.1 440.2,218.5 440.2,220.1 440.3,217.2 440.4,218.4 440.4,219.6 440.4,216.9 440.5,220.0 440.6,218.1 440.6,218.8 440.6,218.7 440.7,220.3 440.8,219.3 440.8,216.7 440.9,221.7 440.9,217.3 440.9,220.9 441,220.3 441.1,217.4 441.1,216.5 441.1,215.0 441.2,221.2 441.2,219.1 441.3,218.8 441.4,218.1 441.4,218.9 441.4,218.4 441.5,215.7 441.6,217.3 441.6,213.3 441.6,219.9 441.7,217.0 441.8,216.8 441.8,217.1 441.9,218.0 441.9,217.8 441.9,218.1 442,220.7 442.1,216.1 442.1,217.6 442.1,218.3 442.2,220.8 442.2,213.4 442.3,221.0 442.4,221.7 442.4,217.9 442.4,220.5 442.5,216.5 442.6,218.7 442.6,218.3 442.6,217.5 442.7,218.0 442.8,215.0 442.8,216.9 442.9,217.9 442.9,218.8 442.9,217.0 443,218.9 443.1,220.2 443.1,218.2 443.1,214.0 443.2,212.9 443.2,217.3 443.3,220.5 443.4,219.8 443.4,213.9 443.4,217.5 443.5,220.4 443.6,217.3 443.6,216.2 443.6,220.8 443.7,217.2 443.8,220.7 443.8,221.5 443.9,217.1 443.9,220.9 443.9,223.0 444,216.3 444.1,217.2 444.1,218.0 444.1,218.4 444.2,217.8 444.2,217.7 444.3,218.2 444.4,219.2 444.4,216.9 444.4,218.2 444.5,221.2 444.6,217.0 444.6,216.7 444.6,220.3 444.7,220.2 444.8,218.7 444.8,218.7 444.9,221.6 444.9,217.2 444.9,219.5 445,218.3 445.1,215.4 445.1,220.9 445.1,222.3 445.2,219.8 445.2,218.2 445.3,220.3 445.4,216.6 445.4,216.4 445.4,220.1 445.5,217.7 445.6,219.9 445.6,217.2 445.6,215.3 445.7,215.9 445.8,220.8 445.8,218.4 445.9,218.6 445.9,215.9 445.9,218.9 446,219.8 446.1,214.8 446.1,218.3 446.1,222.4 446.2,217.7 446.2,220.8 446.3,219.7 446.4,218.3 446.4,220.0 446.4,217.0 446.5,219.9 446.6,214.3 446.6,216.8 446.6,217.3 446.7,221.7 446.8,217.6 446.8,218.1 446.9,220.5 446.9,217.5 446.9,217.6 447,218.2 447.1,216.4 447.1,220.0 447.1,218.5 447.2,217.8 447.2,217.2 447.3,219.5 447.4,218.9 447.4,218.6 447.4,219.8 447.5,219.0 447.6,217.1 447.6,217.0 447.6,216.5 447.7,220.6 447.8,215.6 447.8,215.6 447.9,222.8 447.9,220.3 447.9,219.9 448,216.5 448.1,220.4 448.1,221.9 448.1,222.8 448.2,212.8 448.2,219.7 448.3,219.7 448.4,216.2 448.4,218.9 448.4,217.0 448.5,217.9 448.6,221.8 448.6,218.8 448.6,219.1 448.7,216.4 448.8,217.6 448.8,218.7 448.9,217.2 448.9,221.9 448.9,220.8 449,216.6 449.1,217.9 449.1,217.5 449.1,218.2 449.2,217.7 449.2,217.9 449.3,215.1 449.4,219.5 449.4,218.2 449.4,215.1 449.5,217.0 449.6,215.9 449.6,219.4 449.6,218.0 449.7,219.5 449.8,212.7 449.8,222.6 449.9,222.1 449.9,219.1 449.9,215.2 450,224.1 450.1,219.5 450.1,219.3 450.1,217.2 450.2,218.2 450.2,216.6 450.3,216.8 450.4,216.5 450.4,216.9 450.4,217.9 450.5,217.8 450.6,215.7 450.6,219.6 450.6,217.8 450.7,217.0 450.8,219.8 450.8,221.8 450.9,219.4 450.9,216.2 450.9,220.7 451,221.8 451.1,219.1 451.1,219.6 451.1,218.8 451.2,215.8 451.2,221.6 451.3,219.1 451.4,217.0 451.4,218.3 451.4,218.1 451.5,215.0 451.6,213.9 451.6,217.5 451.6,215.3 451.7,220.1 451.8,220.3 451.8,213.6 451.9,217.7 451.9,220.3 451.9,216.9 452,221.6 452.1,219.1 452.1,220.3 452.1,216.9 452.2,218.5 452.2,218.9 452.3,218.6 452.4,214.0 452.4,219.9 452.4,217.0 452.5,219.0 452.6,219.0 452.6,217.2 452.6,217.3 452.7,218.0 452.8,220.4 452.8,218.8 452.9,218.8 452.9,218.6 452.9,219.3 453,217.3 453.1,216.1 453.1,215.8 453.1,217.9 453.2,219.5 453.2,217.6 453.3,216.6 453.4,218.0 453.4,219.3 453.4,215.8 453.5,217.5 453.6,217.0 453.6,219.0 453.6,219.1 453.7,219.3 453.8,217.8 453.8,218.5 453.9,219.9 453.9,217.6 453.9,218.0 454,222.8 454.1,219.6 454.1,218.4 454.1,217.1 454.2,219.2 454.2,219.5 454.3,218.6 454.4,215.5 454.4,216.1 454.4,219.0 454.5,216.9 454.6,217.0 454.6,216.4 454.6,218.4 454.7,217.7 454.8,218.9 454.8,216.0 454.9,217.1 454.9,216.3 454.9,220.9 455,215.6 455.1,219.1 455.1,216.3 455.1,214.4 455.2,221.5 455.2,222.8 455.3,220.8 455.4,217.9 455.4,217.2 455.4,220.2 455.5,220.2 455.6,218.8 455.6,219.5 455.6,216.2 455.7,219.5 455.8,214.3 455.8,219.0 455.9,220.4 455.9,217.3 455.9,215.7 456,217.8 456.1,216.1 456.1,216.6 456.1,215.2 456.2,219.1 456.2,218.2 456.3,215.7 456.4,216.7 456.4,215.9 456.4,216.7 456.5,222.2 456.6,218.7 456.6,220.8 456.6,219.1 456.7,221.0 456.8,219.2 456.8,216.0 456.9,219.4 456.9,215.8 456.9,222.6 457,218.7 457.1,215.6 457.1,217.9 457.1,219.1 457.2,218.6 457.2,218.4 457.3,218.8 457.4,218.9 457.4,216.9 457.4,218.4 457.5,215.0 457.6,217.6 457.6,217.5 457.6,219.4 457.7,219.6 457.8,219.4 457.8,219.1 457.9,215.4 457.9,220.4 457.9,218.1 458,218.5 458.1,216.2 458.1,217.9 458.1,217.3 458.2,217.9 458.2,215.8 458.3,217.2 458.4,218.8 458.4,220.2 458.4,218.9 458.5,215.5 458.6,221.0 458.6,218.5 458.6,218.0 458.7,216.5 458.8,217.4 458.8,221.4 458.9,219.6 458.9,220.2 458.9,216.4 459,216.4 459.1,220.1 459.1,217.5 459.1,218.9 459.2,219.9 459.2,214.5 459.3,223.0 459.4,220.4 459.4,215.0 459.4,216.4 459.5,219.7 459.6,219.3 459.6,221.3 459.6,218.7 459.7,219.0 459.8,215.8 459.8,215.6 459.9,218.5 459.9,222.1 459.9,215.4 460,217.7 460.1,219.4 460.1,218.1 460.1,220.4 460.2,217.1 460.2,218.7 460.3,219.4 460.4,220.6 460.4,219.3 460.4,217.4 460.5,215.9 460.6,218.5 460.6,217.9 460.6,219.9 460.7,217.8 460.8,218.9 460.8,215.5 460.9,220.8 460.9,217.7 460.9,215.2 461,216.9 461.1,216.8 461.1,216.9 461.1,220.4 461.2,218.1 461.2,220.0 461.3,219.0 461.4,217.1 461.4,216.7 461.4,219.1 461.5,213.5 461.6,213.9 461.6,207.9 461.6,193.0 461.7,194.2 461.8,189.1 461.8,177.2 461.9,169.1 461.9,167.0 461.9,182.3 462,150.2 462.1,145.5 462.1,159.2 462.1,149.3 462.2,165.3 462.2,157.5 462.3,206.5 462.4,144.7 462.4,155.1 462.4,157.8 462.5,152.6 462.6,153.6 462.6,154.6 462.6,161.3 462.7,175.6 462.8,157.9 462.8,165.2 462.9,170.6 462.9,194.6 462.9,148.6 463,169.6 463.1,194.0 463.1,152.3 463.1,184.2 463.2,147.8 463.2,214.0 463.3,159.2 463.4,154.6 463.4,218.1 463.4,157.3 463.5,182.2 463.6,202.3 463.6,153.6 463.6,179.5 463.7,195.4 463.8,157.8 463.8,169.1 463.9,156.6 463.9,155.0 463.9,148.8 464,195.8 464.1,157.2 464.1,156.1 464.1,154.6 464.2,167.1 464.2,162.4 464.3,156.2 464.4,181.5 464.4,159.2 464.4,155.5 464.5,189.9 464.6,155.8 464.6,153.7 464.6,156.8 464.7,172.5 464.8,177.2 464.8,154.3 464.9,188.4 464.9,177.3 464.9,153.6 465,153.3 465.1,175.2 465.1,159.5 465.1,151.0 465.2,152.7 465.2,196.7 465.3,155.7 465.4,192.8 465.4,169.0 465.4,153.0 465.5,185.0 465.6,146.1 465.6,193.4 465.6,183.0 465.7,170.9 465.8,149.9 465.8,161.2 465.9,156.9 465.9,152.8 465.9,163.3 466,154.5 466.1,191.0 466.1,213.2 466.1,161.8 466.2,159.4 466.2,165.6 466.3,180.7 466.4,161.8 466.4,160.8 466.4,155.7 466.5,161.5 466.6,162.1 466.6,158.3 466.6,169.4 466.7,186.1 466.8,155.1 466.8,161.5 466.9,173.2 466.9,161.9 466.9,203.9 467,205.2 467.1,153.8 467.1,153.4 467.1,174.0 467.2,181.3 467.2,178.9 467.3,158.1 467.4,184.0 467.4,206.1 467.4,161.8 467.5,161.8 467.6,153.1 467.6,160.4 467.6,149.0 467.7,160.0 467.8,199.4 467.8,159.8 467.9,170.2 467.9,167.5 467.9,194.7 468,163.1 468.1,164.3 468.1,159.2 468.1,152.7 468.2,150.9 468.2,174.2 468.3,192.5 468.4,155.6 468.4,160.5 468.4,161.6 468.5,157.2 468.6,182.0 468.6,164.6 468.6,154.2 468.7,191.9 468.8,167.8 468.8,148.6 468.9,160.6 468.9,176.8 468.9,179.2 469,162.0 469.1,183.7 469.1,161.9 469.1,159.5 469.2,177.0 469.2,159.2 469.3,164.7 469.4,168.2 469.4,177.5 469.4,202.0 469.5,167.6 469.6,203.9 469.6,159.5 469.6,201.8 469.7,159.9 469.8,158.8 469.8,149.5 469.9,158.2 469.9,153.7 469.9,166.0 470,155.9 470.1,155.4 470.1,159.3 470.1,147.6 470.2,198.0 470.2,162.1 470.3,163.9 470.4,159.3 470.4,161.5 470.4,194.4 470.5,158.5 470.6,160.6 470.6,179.6 470.6,182.3 470.7,192.2 470.8,162.3 470.8,159.1 470.9,164.6 470.9,206.7 470.9,198.0 471,160.2 471.1,167.7 471.1,157.6 471.1,156.6 471.2,153.6 471.2,160.4 471.3,203.7 471.4,164.4 471.4,165.8 471.4,163.2 471.5,169.6 471.6,210.9 471.6,157.9 471.6,154.8 471.7,164.1 471.8,158.5 471.8,167.1 471.9,164.1 471.9,196.1 471.9,160.2 472,175.1 472.1,157.3 472.1,171.8 472.1,164.2 472.2,168.8 472.2,167.2 472.3,177.1 472.4,159.2 472.4,162.2 472.4,203.8 472.5,162.7 472.6,161.2 472.6,186.6 472.6,164.3 472.7,180.3 472.8,162.6 472.8,185.5 472.9,173.5 472.9,158.1 472.9,156.5 473,153.8 473.1,159.7 473.1,163.1 473.1,166.0 473.2,172.4 473.2,173.7 473.3,160.1 473.4,158.9 473.4,166.4 473.4,163.4 473.5,156.3 473.6,160.3 473.6,188.8 473.6,161.6 473.7,156.1 473.8,172.7 473.8,160.7 473.9,159.3 473.9,167.6 473.9,164.9 474,153.3 474.1,167.8 474.1,165.3 474.1,164.4 474.2,157.4 474.2,198.1 474.3,190.3 474.4,188.8 474.4,167.9 474.4,162.0 474.5,184.6 474.6,171.2 474.6,165.7 474.6,171.9 474.7,159.3 474.8,164.3 474.8,184.6 474.9,164.9 474.9,189.8 474.9,188.4 475,163.8 475.1,161.3 475.1,177.5 475.1,164.3 475.2,181.0 475.2,192.9 475.3,163.5 475.4,193.8 475.4,179.1 475.4,162.2 475.5,165.8 475.6,158.0 475.6,165.4 475.6,169.6 475.7,169.5 475.8,176.2 475.8,158.7 475.9,163.9 475.9,157.8 475.9,177.7 476,174.7 476.1,166.9 476.1,180.0 476.1,162.7 476.2,166.0 476.2,169.3 476.3,159.8 476.4,157.9 476.4,157.7 476.4,172.5 476.5,152.9 476.6,159.5 476.6,151.5 476.6,164.3 476.7,173.9 476.8,192.0 476.8,159.0 476.9,168.6 476.9,201.7 476.9,162.4 477,159.2 477.1,159.6 477.1,192.5 477.1,189.2 477.2,161.5 477.2,155.0 477.3,162.6 477.4,162.2 477.4,209.8 477.4,175.4 477.5,157.6 477.6,160.9 477.6,211.1 477.6,167.6 477.7,166.5 477.8,188.1 477.8,185.0 477.9,153.3 477.9,193.6 477.9,156.8 478,160.5 478.1,157.5 478.1,163.8 478.1,191.0 478.2,157.3 478.2,196.0 478.3,167.8 478.4,206.2 478.4,162.9 478.4,193.2 478.5,165.9 478.6,162.4 478.6,160.7 478.6,171.7 478.7,170.4 478.8,170.2 478.8,180.0 478.9,179.6 478.9,155.5 478.9,168.0 479,184.8 479.1,161.6 479.1,163.3 479.1,177.6 479.2,161.7 479.2,165.1 479.3,151.7 479.4,188.1 479.4,165.4 479.4,177.4 479.5,160.1 479.6,157.2 479.6,196.4 479.6,163.7 479.7,189.1 479.8,163.7 479.8,153.5 479.9,157.5 479.9,178.8 479.9,159.2 480,156.2 480.1,161.4 480.1,167.4 480.1,185.4 480.2,160.9 480.2,177.5 480.3,159.3 480.4,165.7 480.4,165.9 480.4,160.3 480.5,164.5 480.6,198.8 480.6,160.2 480.6,174.7 480.7,171.2 480.8,157.1 480.8,162.5 480.9,161.3 480.9,189.2 480.9,166.8 481,186.1 481.1,185.1 481.1,163.8 481.1,153.4 481.2,164.9 481.2,160.2 481.3,189.5 481.4,158.5 481.4,162.2 481.4,159.5 481.5,211.7 481.6,164.6 481.6,166.5 481.6,181.7 481.7,158.1 481.8,170.5 481.8,162.5 481.9,192.2 481.9,188.0 481.9,163.5 482,158.0 482.1,197.3 482.1,162.5 482.1,169.0 482.2,202.2 482.2,155.0 482.3,163.7 482.4,161.4 482.4,164.6 482.4,165.4 482.5,159.7 482.6,158.8 482.6,206.5 482.6,167.5 482.7,157.0 482.8,183.8 482.8,166.3 482.9,164.7 482.9,186.7 482.9,164.4 483,163.2 483.1,179.4 483.1,161.0 483.1,163.4 483.2,174.0 483.2,153.8 483.3,184.3 483.4,198.7 483.4,157.0 483.4,164.9 483.5,188.2 483.6,186.6 483.6,194.2 483.6,196.3 483.7,163.0 483.8,168.5 483.8,174.9 483.9,158.8 483.9,160.4 483.9,165.0 484,160.5 484.1,180.9 484.1,161.0 484.1,164.3 484.2,205.1 484.2,209.7 484.3,163.6 484.4,198.0 484.4,197.5 484.4,178.0 484.5,159.0 484.6,155.3 484.6,162.8 484.6,155.8 484.7,160.4 484.8,205.5 484.8,189.2 484.9,174.1 484.9,171.7 484.9,196.6 485,163.8 485.1,165.7 485.1,201.1 485.1,162.9 485.2,188.0 485.2,210.0 485.3,165.0 485.4,165.7 485.4,160.5 485.4,163.1 485.5,157.7 485.6,160.2 485.6,204.9 485.6,161.0 485.7,167.0 485.8,148.8 485.8,166.6 485.9,161.9 485.9,156.4 485.9,199.8 486,164.5 486.1,164.0 486.1,183.7 486.1,158.1 486.2,164.2 486.2,189.3 486.3,189.5 486.4,160.9 486.4,169.9 486.4,157.3 486.5,154.0 486.6,164.6 486.6,174.1 486.6,197.9 486.7,157.1 486.8,171.8 486.8,158.1 486.9,156.1 486.9,150.3 486.9,175.4 487,146.9 487.1,164.8 487.1,199.6 487.1,157.5 487.2,178.3 487.2,163.6 487.3,151.5 487.4,177.3 487.4,151.1 487.4,192.5 487.5,154.7 487.6,154.3 487.6,193.9 487.6,176.6 487.7,195.9 487.8,162.3 487.8,159.2 487.9,160.4 487.9,158.1 487.9,190.9 488,164.9 488.1,147.4 488.1,172.7 488.1,177.3 488.2,160.4 488.2,160.0 488.3,189.4 488.4,176.4 488.4,161.9 488.4,160.4 488.5,171.3 488.6,162.6 488.6,165.2 488.6,212.8 488.7,159.6 488.8,174.4 488.8,153.7 488.9,160.5 488.9,203.8 488.9,156.8 489,172.9 489.1,157.4 489.1,156.7 489.1,164.8 489.2,185.3 489.2,187.9 489.3,159.1 489.4,156.9 489.4,207.3 489.4,156.7 489.5,161.7 489.6,155.9 489.6,207.2 489.6,196.9 489.7,184.8 489.8,160.7 489.8,190.0 489.9,169.7 489.9,172.4 489.9,180.3 490,161.1 490.1,156.3 490.1,149.0 490.1,179.5 490.2,168.3 490.2,161.9 490.3,187.4 490.4,160.1 490.4,168.8 490.4,174.7 490.5,161.7 490.6,156.4 490.6,191.0 490.6,153.7 490.7,162.8 490.8,161.3 490.8,176.6 490.9,174.8 490.9,156.9 490.9,184.2 491,167.9 491.1,177.5 491.1,160.7 491.1,157.9 491.2,182.2 491.2,168.2 491.3,153.0 491.4,182.6 491.4,155.8 491.4,155.5 491.5,177.6 491.6,173.5 491.6,198.5 491.6,159.4 491.7,164.3 491.8,177.3 491.8,164.6 491.9,157.7 491.9,196.1 491.9,171.2 492,171.8 492.1,169.5 492.1,158.4 492.1,192.7 492.2,168.3 492.2,159.2 492.3,175.8 492.4,159.5 492.4,164.3 492.4,158.8 492.5,161.0 492.6,165.0 492.6,161.4 492.6,163.1 492.7,158.2 492.8,184.2 492.8,159.4 492.9,157.3 492.9,157.1 492.9,170.9 493,160.1 493.1,160.9 493.1,164.2 493.1,181.4 493.2,169.3 493.2,160.9 493.3,200.2 493.4,169.4 493.4,161.2 493.4,172.8 493.5,159.9 493.6,162.6 493.6,163.6 493.6,184.0 493.7,160.5 493.8,189.0 493.8,147.8 493.9,191.2 493.9,166.5 493.9,153.6 494,166.9 494.1,161.1 494.1,159.3 494.1,153.0 494.2,196.7 494.2,159.3 494.3,161.3 494.4,182.5 494.4,194.0 494.4,167.9 494.5,168.1 494.6,173.2 494.6,186.9 494.6,160.6 494.7,169.9 494.8,179.9 494.8,166.0 494.9,177.1 494.9,180.5 494.9,169.4 495,182.8 495.1,189.7 495.1,193.3 495.1,172.6 495.2,170.1 495.2,175.7 495.3,180.2 495.4,170.9 495.4,187.3 495.4,191.6 495.5,178.1 495.6,185.3 495.6,196.2 495.6,184.1 495.7,179.2 495.8,178.7 495.8,178.4 495.9,189.9 495.9,183.3 495.9,183.2 496,198.0 496.1,193.5 496.1,188.9 496.1,190.6 496.2,212.2 496.2,180.5 496.3,190.7 496.4,182.1 496.4,185.8 496.4,183.8 496.5,184.5 496.6,182.6 496.6,188.6 496.6,172.5 496.7,188.5 496.8,181.0 496.8,179.7 496.9,182.9 496.9,166.7 496.9,168.9 497,182.7 497.1,182.4 497.1,185.6 497.1,187.2 497.2,198.0 497.2,216.1 497.3,186.6 497.4,175.3 497.4,191.5 497.4,190.4 497.5,171.0 497.6,195.9 497.6,173.0 497.6,171.1 497.7,209.0 497.8,180.2 497.8,191.4 497.9,192.7 497.9,182.9 497.9,196.9 498,191.7 498.1,200.3 498.1,185.1 498.1,197.1 498.2,196.9 498.2,193.5 498.3,188.1 498.4,188.0 498.4,180.7 498.4,174.5 498.5,179.6 498.6,188.7 498.6,178.6 498.6,201.0 498.7,177.2 498.8,187.8 498.8,180.5 498.9,181.3 498.9,188.0 498.9,200.2 499,184.4 499.1,189.1 499.1,187.4 499.1,168.1 499.2,196.6 499.2,181.3 499.3,191.3 499.4,183.4 499.4,189.5 499.4,198.2 499.5,199.1 499.6,188.2 499.6,186.1 499.6,180.1 499.7,175.1 499.8,195.4 499.8,189.0 499.9,198.6 499.9,204.4 499.9,170.5 500,178.0 500.1,168.1 500.1,191.0 500.1,203.1 500.2,203.3 500.2,188.0 500.3,193.0 500.4,173.3 500.4,179.2 500.4,189.7 500.5,193.8 500.6,175.0 500.6,195.1 500.6,190.3 500.7,190.9 500.8,189.4 500.8,180.8 500.9,184.6 500.9,203.7 500.9,186.5 501,182.7 501.1,182.6 501.1,198.4 501.1,192.7 501.2,182.9 501.2,198.5 501.3,200.3 501.4,181.3 501.4,190.5 501.4,197.8 501.5,200.2 501.6,185.6 501.6,181.2 501.6,201.1 501.7,193.5 501.8,210.4 501.8,182.9 501.9,193.4 501.9,186.2 501.9,186.6 502,181.0 502.1,186.2 502.1,180.4 502.1,184.8 502.2,181.7 502.2,177.8 502.3,181.2 502.4,187.3 502.4,177.3 502.4,191.3 502.5,182.6 502.6,189.8 502.6,176.1 502.6,193.7 502.7,203.1 502.8,179.0 502.8,175.9 502.9,205.2 502.9,193.6 502.9,162.2 503,165.4 503.1,205.6 503.1,162.8 503.1,165.2 503.2,159.4 503.2,162.9 503.3,165.3 503.4,163.3 503.4,152.3 503.4,191.4 503.5,163.0 503.6,157.6 503.6,182.6 503.6,167.4 503.7,166.0 503.8,162.4 503.8,206.4 503.9,170.7 503.9,159.8 503.9,166.2 504,187.5 504.1,159.4 504.1,161.4 504.1,156.5 504.2,179.9 504.2,171.3 504.3,160.8 504.4,155.0 504.4,163.0 504.4,161.1 504.5,160.8 504.6,158.4 504.6,172.5 504.6,174.3 504.7,163.9 504.8,169.9 504.8,155.3 504.9,187.4 504.9,158.5 504.9,173.9 505,155.9 505.1,174.0 505.1,169.0 505.1,176.9 505.2,173.1 505.2,176.5 505.3,164.6 505.4,169.5 505.4,186.7 505.4,170.1 505.5,172.5 505.6,179.3 505.6,212.6 505.6,165.0 505.7,166.7 505.8,184.3 505.8,156.4 505.9,213.3 505.9,185.2 505.9,176.9 506,187.5 506.1,165.7 506.1,146.1 506.1,181.8 506.2,155.4 506.2,168.5 506.3,169.4 506.4,156.3 506.4,179.3 506.4,186.1 506.5,163.0 506.6,160.6 506.6,156.6 506.6,151.6 506.7,216.5 506.8,196.7 506.8,179.0 506.9,192.8 506.9,185.7 506.9,202.2 507,160.1 507.1,161.2 507.1,158.4 507.1,156.9 507.2,190.9 507.2,161.6 507.3,169.7 507.4,193.6 507.4,165.8 507.4,159.3 507.5,177.7 507.6,151.5 507.6,163.7 507.6,164.1 507.7,152.2 507.8,179.4 507.8,166.5 507.9,184.4 507.9,175.1 507.9,159.8 508,168.8 508.1,161.1 508.1,182.0 508.1,156.4 508.2,159.4 508.2,160.1 508.3,161.9 508.4,171.0 508.4,166.7 508.4,171.9 508.5,162.4 508.6,175.5 508.6,172.0 508.6,157.9 508.7,153.5 508.8,185.2 508.8,161.5 508.9,154.9 508.9,159.0 508.9,161.7 509,157.6 509.1,152.3 509.1,175.2 509.1,180.5 509.2,166.0 509.2,209.6 509.3,165.4 509.4,169.3 509.4,161.3 509.4,173.0 509.5,163.6 509.6,196.3 509.6,196.1 509.6,172.2 509.7,175.2 509.8,165.3 509.8,157.6 509.9,176.1 509.9,155.5 509.9,156.5 510,154.7 510.1,159.3 510.1,161.6 510.1,164.3 510.2,155.0 510.2,194.5 510.3,191.5 510.4,180.8 510.4,184.6 510.4,170.2 510.5,167.3 510.6,202.3 510.6,184.6 510.6,157.9 510.7,151.4 510.8,182.0 510.8,160.3 510.9,178.4 510.9,153.3 510.9,157.1 511,160.4 511.1,160.3 511.1,156.9 511.1,159.3 511.2,164.6 511.2,191.7 511.3,158.4 511.4,164.8 511.4,152.2 511.4,190.9 511.5,190.9 511.6,201.0 511.6,178.9 511.6,159.6 511.7,195.7 511.8,166.8 511.8,164.1 511.9,162.1 511.9,189.5 511.9,152.3 512,161.9 512,177.5 512.1,166.5 512.1,176.3 512.2,169.4 512.2,208.1 512.3,186.0 512.4,194.3 512.4,162.0 512.5,162.0 512.5,157.4 512.5,198.5 512.6,156.5 512.6,218.2 512.7,197.6 512.8,151.9 512.8,198.9 512.9,153.7 512.9,161.5 513,209.4 513,164.5 513,200.7 513.1,166.5 513.1,154.4 513.2,157.4 513.2,186.8 513.3,191.5 513.4,161.7 513.4,157.9 513.5,185.8 513.5,208.4 513.5,161.6 513.6,157.1 513.6,159.6 513.7,176.1 513.8,156.2 513.8,195.8 513.9,165.1 513.9,166.0 514,156.4 514,171.2 514,152.8 514.1,156.3 514.1,163.0 514.2,178.2 514.2,156.2 514.3,216.6 514.4,159.0 514.4,163.4 514.5,156.0 514.5,155.4 514.5,196.8 514.6,156.8 514.6,165.6 514.7,165.4 514.8,159.8 514.8,183.3 514.9,156.1 514.9,174.6 515,187.0 515,161.2 515,161.5 515.1,190.8 515.1,175.5 515.2,187.8 515.2,157.7 515.3,158.7 515.4,159.1 515.4,165.6 515.5,160.0 515.5,163.7 515.5,164.3 515.6,205.4 515.6,176.2 515.7,158.4 515.8,150.8 515.8,203.6 515.9,155.0 515.9,159.6 516,166.4 516,162.6 516,155.5 516.1,185.0 516.1,160.1 516.2,173.1 516.2,158.0 516.3,159.1 516.4,160.0 516.4,166.1 516.5,157.8 516.5,166.2 516.5,165.3 516.6,162.9 516.6,170.2 516.7,188.7 516.8,159.4 516.8,161.9 516.9,163.6 516.9,161.4 517,200.1 517,167.1 517,164.2 517.1,164.3 517.1,191.6 517.2,166.3 517.2,150.7 517.3,190.0 517.4,190.1 517.4,161.7 517.5,168.1 517.5,169.0 517.5,184.3 517.6,196.7 517.6,169.3 517.7,173.5 517.8,189.9 517.8,176.8 517.9,189.5 517.9,195.4 518,182.1 518,176.6 518,163.3 518.1,166.1 518.1,207.5 518.2,167.8 518.2,169.0 518.3,169.8 518.4,152.7 518.4,162.5 518.5,199.9 518.5,162.6 518.5,165.3 518.6,157.3 518.6,174.0 518.7,166.6 518.8,192.4 518.8,168.0 518.9,162.0 518.9,157.0 519,165.4 519,167.4 519,174.7 519.1,169.5 519.1,180.1 519.2,163.0 519.2,178.5 519.3,162.0 519.4,168.5 519.4,163.7 519.5,161.0 519.5,164.5 519.5,161.4 519.6,161.3 519.6,195.7 519.7,161.8 519.8,179.0 519.8,158.3 519.9,195.9 519.9,159.3 520,155.8 520,177.8 520,148.0 520.1,198.8 520.1,162.8 520.2,162.5 520.2,205.9 520.3,159.4 520.4,167.7 520.4,187.3 520.5,157.9 520.5,161.9 520.5,165.3 520.6,152.0 520.6,159.3 520.7,175.2 520.8,162.3 520.8,192.6 520.9,177.5 520.9,170.5 521,157.3 521,206.2 521,155.6 521.1,180.3 521.1,169.0 521.2,208.1 521.2,196.3 521.3,160.9 521.4,163.0 521.4,163.3 521.5,163.4 521.5,194.1 521.5,161.5 521.6,185.6 521.6,189.4 521.7,163.5 521.8,153.1 521.8,168.9 521.9,184.1 521.9,183.0 522,162.0 522,203.4 522,163.7 522.1,156.7 522.1,198.3 522.2,176.6 522.2,213.0 522.3,159.0 522.4,211.7 522.4,164.6 522.5,195.8 522.5,159.3 522.5,196.1 522.6,166.3 522.6,163.4 522.7,166.3 522.8,178.1 522.8,154.3 522.9,167.1 522.9,207.2 523,157.6 523,189.2 523,156.9 523.1,158.2 523.1,179.3 523.2,160.9 523.2,154.4 523.3,152.0 523.4,157.1 523.4,185.3 523.5,192.9 523.5,210.7 523.5,163.0 523.6,155.6 523.6,200.8 523.7,207.5 523.8,166.7 523.8,168.8 523.9,162.2 523.9,166.1 524,179.2 524,165.6 524,199.4 524.1,164.6 524.1,169.0 524.2,195.7 524.2,185.8 524.3,176.7 524.4,167.4 524.4,162.1 524.5,191.5 524.5,207.8 524.5,167.1 524.6,164.6 524.6,176.6 524.7,159.8 524.8,164.6 524.8,167.1 524.9,158.5 524.9,178.3 525,159.0 525,152.8 525,201.1 525.1,193.6 525.1,174.0 525.2,187.9 525.2,168.2 525.3,167.4 525.4,194.9 525.4,165.8 525.5,159.7 525.5,171.7 525.5,167.6 525.6,192.6 525.6,210.9 525.7,204.6 525.8,170.1 525.8,164.9 525.9,181.1 525.9,178.4 526,167.4 526,195.5 526,171.4 526.1,169.9 526.1,184.7 526.2,164.6 526.2,178.7 526.3,170.9 526.4,176.5 526.4,170.7 526.5,183.1 526.5,176.3 526.5,172.1 526.6,187.1 526.6,165.8 526.7,166.2 526.8,168.5 526.8,162.8 526.9,189.8 526.9,169.9 527,172.0 527,164.2 527,161.7 527.1,176.3 527.1,184.9 527.2,176.8 527.2,172.8 527.3,169.3 527.4,205.0 527.4,170.6 527.5,190.7 527.5,181.7 527.5,160.4 527.6,184.2 527.6,169.7 527.7,171.4 527.8,171.1 527.8,175.3 527.9,165.9 527.9,198.3 528,164.6 528,171.1 528,182.1 528.1,219.6 528.1,182.3 528.2,207.2 528.2,199.3 528.3,163.0 528.4,170.6 528.4,168.7 528.5,182.7 528.5,164.5 528.5,211.0 528.6,207.9 528.6,173.3 528.7,209.1 528.8,194.1 528.8,207.9 528.9,188.5 528.9,176.5 529,189.0 529,168.1 529,175.0 529.1,171.0 529.1,196.1 529.2,189.5 529.2,199.9 529.3,177.0 529.4,165.5 529.4,168.7 529.5,166.3 529.5,164.7 529.5,188.6 529.6,164.3 529.6,170.5 529.7,205.5 529.8,213.0 529.8,170.8 529.9,164.1 529.9,172.4 530,170.2 530,162.6 530,174.2 530.1,167.1 530.1,210.5 530.2,175.8 530.2,197.3 530.3,205.7 530.4,166.5 530.4,202.6 530.5,156.3 530.5,179.9 530.5,162.1 530.6,170.3 530.6,203.5 530.7,205.6 530.8,165.7 530.8,180.0 530.9,172.0 530.9,155.9 531,166.3 531,160.1 531,151.0 531.1,168.0 531.1,196.8 531.2,189.9 531.2,165.3 531.3,176.1 531.4,196.7 531.4,166.1 531.5,158.5 531.5,153.3 531.5,167.6 531.6,196.4 531.6,159.0 531.7,169.8 531.8,204.9 531.8,160.9 531.9,158.6 531.9,155.5 532,188.0 532,169.4 532,161.5 532.1,150.7 532.1,176.6 532.2,154.6 532.2,193.3 532.3,201.8 532.4,160.8 532.4,156.2 532.5,196.8 532.5,165.5 532.5,162.1 532.6,151.3 532.6,157.3 532.7,170.8 532.8,153.2 532.8,161.0 532.9,157.9 532.9,155.4 533,166.4 533,159.5 533,197.9 533.1,171.9 533.1,166.6 533.2,195.1 533.2,182.8 533.3,167.3 533.4,182.1 533.4,157.7 533.5,179.2 533.5,188.9 533.5,166.8 533.6,163.3 533.6,158.2 533.7,189.9 533.8,154.9 533.8,182.7 533.9,156.0 533.9,175.5 534,165.7 534,169.5 534,160.5 534.1,163.4 534.1,178.1 534.2,159.1 534.2,154.8 534.3,181.4 534.4,160.1 534.4,161.5 534.5,158.0 534.5,161.8 534.5,166.3 534.6,169.4 534.6,193.6 534.7,160.3 534.8,159.3 534.8,155.8 534.9,171.6 534.9,166.4 535,159.4 535,185.2 535,155.9 535.1,182.5 535.1,161.1 535.2,173.9 535.2,190.7 535.3,199.0 535.4,164.6 535.4,162.0 535.5,191.0 535.5,162.0 535.5,162.0 535.6,174.1 535.6,171.2 535.7,161.3 535.8,178.4 535.8,163.4 535.9,174.9 535.9,155.7 536,185.2 536,166.6 536,163.5 536.1,170.8 536.1,162.4 536.2,154.8 536.2,158.5 536.3,160.5 536.4,182.8 536.4,159.8 536.5,161.7 536.5,193.8 536.5,203.0 536.6,190.3 536.6,169.1 536.7,162.1 536.8,170.3 536.8,167.6 536.9,167.2 536.9,165.2 537,162.9 537,194.8 537,187.0 537.1,171.4 537.1,196.3 537.2,167.3 537.2,169.5 537.3,165.5 537.4,188.2 537.4,164.6 537.5,174.5 537.5,199.2 537.5,162.3 537.6,163.4 537.6,166.5 537.7,158.3 537.8,188.0 537.8,162.2 537.9,164.4 537.9,179.5 538,163.2 538,167.7 538,209.2 538.1,177.0 538.1,219.2 538.2,165.6 538.2,158.6 538.3,162.4 538.4,165.2 538.4,185.1 538.5,168.1 538.5,189.1 538.5,168.1 538.6,170.4 538.6,160.1 538.7,176.4 538.8,166.0 538.8,189.5 538.9,206.7 538.9,192.8 539,165.7 539,195.2 539,177.1 539.1,165.2 539.1,165.1 539.2,171.8 539.2,164.7 539.3,154.3 539.4,167.9 539.4,170.7 539.5,167.1 539.5,173.2 539.5,164.6 539.6,164.5 539.6,168.6 539.7,180.2 539.8,202.6 539.8,165.9 539.9,206.4 539.9,157.1 540,180.1 540,192.5 540,164.6 540.1,187.1 540.1,180.9 540.2,195.1 540.2,210.4 540.3,192.7 540.4,162.2 540.4,165.9 540.5,197.8 540.5,163.8 540.5,165.9 540.6,174.9 540.6,180.6 540.7,165.8 540.8,160.6 540.8,164.8 540.9,196.8 540.9,169.2 541,169.4 541,157.1 541,164.9 541.1,206.7 541.1,163.4 541.2,180.1 541.2,181.1 541.3,208.9 541.4,174.2 541.4,163.8 541.5,167.7 541.5,166.2 541.5,202.8 541.6,206.9 541.6,166.8 541.7,179.1 541.8,169.5 541.8,167.8 541.9,192.1 541.9,182.8 542,172.5 542,191.5 542,175.1 542.1,197.7 542.1,163.7 542.2,194.7 542.2,209.7 542.3,168.9 542.4,167.5 542.4,163.8 542.5,173.3 542.5,162.9 542.5,163.6 542.6,166.1 542.6,180.5 542.7,162.4 542.8,161.9 542.8,171.9 542.9,202.0 542.9,155.9 543,159.6 543,163.5 543,167.0 543.1,158.0 543.1,163.7 543.2,200.0 543.2,164.4 543.3,165.8 543.4,160.1 543.4,199.0 543.5,168.8 543.5,207.8 543.5,159.1 543.6,191.8 543.6,164.3 543.7,160.5 543.8,166.7 543.8,194.8 543.9,163.5 543.9,192.4 544,165.1 544,164.0 544,168.8 544.1,176.5 544.1,189.9 544.2,181.3 544.2,158.9 544.3,210.5 544.4,166.5 544.4,156.7 544.5,213.5 544.5,166.2 544.5,163.0 544.6,162.9 544.6,170.5 544.7,158.7 544.8,163.2 544.8,172.8 544.9,159.7 544.9,162.7 545,159.8 545,166.8 545,191.5 545.1,157.2 545.1,182.2 545.2,156.2 545.2,155.5 545.3,154.8 545.4,177.4 545.4,158.8 545.5,179.3 545.5,155.9 545.5,169.2 545.6,169.4 545.6,179.4 545.7,187.3 545.8,188.6 545.8,162.6 545.9,153.5 545.9,170.3 546,164.0 546,157.7 546,161.5 546.1,166.2 546.1,173.8 546.2,182.3 546.2,167.5 546.3,168.7 546.4,192.6 546.4,200.7 546.5,170.2 546.5,164.1 546.5,160.6 546.6,157.0 546.6,157.9 546.7,196.9 546.8,204.3 546.8,164.1 546.9,158.8 546.9,190.8 547,185.4 547,217.4 547,189.6 547.1,197.5 547.1,168.3 547.2,181.2 547.2,163.4 547.3,183.0 547.4,166.1 547.4,166.6 547.5,172.8 547.5,160.0 547.5,167.2 547.6,183.5 547.6,156.2 547.7,160.4 547.8,167.1 547.8,186.7 547.9,191.9 547.9,203.7 548,151.4 548,176.5 548,176.0 548.1,170.8 548.1,166.1 548.2,194.2 548.2,157.3 548.3,158.3 548.4,171.2 548.4,164.7 548.5,192.2 548.5,202.6 548.5,174.0 548.6,168.5 548.6,204.9 548.7,180.8 548.8,199.7 548.8,208.0 548.9,210.7 548.9,168.7 549,169.8 549,205.1 549,170.8 549.1,180.0 549.1,172.6 549.2,187.4 549.2,171.7 549.3,175.5 549.4,163.0 549.4,180.7 549.5,163.6 549.5,172.7 549.5,177.1 549.6,178.2 549.6,170.2 549.7,176.3 549.8,170.0 549.8,169.7 549.9,190.1 549.9,174.1 550,173.6 550,203.6 550,170.1 550.1,173.5 550.1,190.7 550.2,202.4 550.2,190.6 550.3,178.4 550.4,172.3 550.4,198.0 550.5,170.9 550.5,190.6 550.5,201.4 550.6,166.3 550.6,198.9 550.7,188.4 550.8,192.3 550.8,173.8 550.9,177.3 550.9,181.7 551,168.8 551,192.8 551,196.5 551.1,190.3 551.1,173.6 551.2,166.0 551.2,197.4 551.3,174.3 551.4,170.1 551.4,174.1 551.5,175.3 551.5,166.2 551.5,189.3 551.6,165.4 551.6,173.6 551.7,177.2 551.8,189.5 551.8,178.2 551.9,174.1 551.9,178.1 552,187.2 552,172.7 552,188.9 552.1,168.5 552.1,175.1 552.2,205.9 552.2,191.9 552.3,177.7 552.4,178.5 552.4,218.7 552.5,168.8 552.5,216.2 552.5,174.7 552.6,210.7 552.6,185.8 552.7,176.7 552.8,171.1 552.8,201.9 552.9,195.6 552.9,200.8 553,208.8 553,186.3 553,167.1 553.1,182.1 553.1,171.7 553.2,176.7 553.2,225.0 553.3,198.2 553.4,184.6 553.4,183.1 553.5,203.0 553.5,192.9 553.5,180.6 553.6,210.3 553.6,216.0 553.7,176.2 553.8,187.6 553.8,176.8 553.9,198.2 553.9,169.1 554,174.9 554,180.3 554,180.8 554.1,184.4 554.1,216.3 554.2,182.6 554.2,188.4 554.3,173.6 554.4,205.0 554.4,181.2 554.5,197.4 554.5,198.3 554.5,180.2 554.6,183.3 554.6,199.5 554.7,200.9 554.8,188.6 554.8,189.3 554.9,182.0 554.9,179.0 555,206.9 555,193.3 555,176.8 555.1,176.8 555.1,170.0 555.2,176.8 555.2,180.8 555.3,203.0 555.4,180.8 555.4,183.7 555.5,182.5 555.5,202.7 555.5,196.9 555.6,176.0 555.6,169.6 555.7,175.0 555.8,190.2 555.8,204.2 555.9,208.8 555.9,201.8 556,181.8 556,176.2 556,178.7 556.1,186.7 556.1,186.5 556.2,171.5 556.2,206.9 556.3,203.5 556.4,171.0 556.4,205.1 556.5,203.0 556.5,173.1 556.5,192.9 556.6,184.8 556.6,181.0 556.7,199.0 556.8,192.1 556.8,183.3 556.9,202.4 556.9,175.8 557,170.8 557,179.9 557,178.1 557.1,185.9 557.1,180.3 557.2,186.1 557.2,178.9 557.3,175.2 557.4,204.8 557.4,210.2 557.5,184.7 557.5,181.6 557.5,185.8 557.6,179.1 557.6,205.9 557.7,178.7 557.8,176.5 557.8,187.7 557.9,170.4 557.9,173.9 558,194.5 558,201.9 558,170.9 558.1,176.5 558.1,217.4 558.2,183.5 558.2,212.3 558.3,187.0 558.4,185.8 558.4,203.1 558.5,179.8 558.5,197.1 558.5,181.2 558.6,172.1 558.6,196.3 558.7,177.7 558.8,182.4 558.8,192.0 558.9,179.7 558.9,182.0 559,221.6 559,228.9 559,208.7 559.1,171.8 559.1,180.5 559.2,178.5 559.2,172.5 559.3,205.5 559.4,194.7 559.4,173.7 559.5,202.6 559.5,176.3 559.5,177.5 559.6,229.7 559.6,223.5 559.7,185.0 559.8,192.6 559.8,172.4 559.9,188.4 559.9,199.0 560,202.8 560,217.4 560,178.0 560.1,184.3 560.1,180.6 560.2,193.7 560.2,187.4 560.3,171.6 560.4,197.4 560.4,187.0 560.5,197.1 560.5,181.5 560.5,187.4 560.6,197.0 560.6,171.7 560.7,197.9 560.8,188.1 560.8,178.9 560.9,211.9 560.9,213.1 561,179.4 561,182.4 561,178.5 561.1,198.4 561.1,175.0 561.2,188.9 561.2,181.7 561.3,177.7 561.4,185.6 561.4,182.0 561.5,182.0 561.5,174.8 561.5,203.0 561.6,208.3 561.6,181.3 561.7,183.9 561.8,181.9 561.8,185.6 561.9,180.4 561.9,176.7 562,182.0 562,185.5 562,199.9 562.1,200.8 562.1,207.6 562.2,182.0 562.2,182.7 562.3,183.5 562.4,210.6 562.4,182.2 562.5,183.8 562.5,175.7 562.5,181.3 562.6,183.3 562.6,178.9 562.7,186.9 562.8,181.4 562.8,180.4 562.9,175.8 562.9,172.9 563,200.5 563,186.3 563,178.5 563.1,180.2 563.1,189.3 563.2,172.9 563.2,179.9 563.3,181.8 563.4,181.7 563.4,174.2 563.5,212.6 563.5,176.3 563.5,208.3 563.6,176.0 563.6,179.3 563.7,192.0 563.8,173.8 563.8,178.6 563.9,181.6 563.9,204.1 564,202.9 564,192.9 564,177.6 564.1,179.0 564.1,177.0 564.2,175.5 564.2,194.6 564.3,182.0 564.4,171.2 564.4,181.4 564.5,182.8 564.5,182.0 564.5,196.3 564.6,194.1 564.6,199.3 564.7,186.8 564.8,182.2 564.8,213.1 564.9,186.2 564.9,204.6 565,216.0 565,188.8 565,218.3 565.1,217.7 565.1,179.4 565.2,209.8 565.2,211.6 565.3,214.5 565.4,196.4 565.4,177.1 565.5,172.9 565.5,198.7 565.5,210.5 565.6,176.6 565.6,174.8 565.7,184.4 565.8,182.6 565.8,174.3 565.9,187.0 565.9,198.6 566,172.1 566,170.8 566,177.3 566.1,198.5 566.1,185.4 566.2,205.7 566.2,199.4 566.3,198.4 566.4,178.0 566.4,180.3 566.5,163.6 566.5,177.1 566.5,171.7 566.6,174.9 566.6,176.4 566.7,213.1 566.8,202.3 566.8,174.5 566.9,185.9 566.9,194.9 567,179.3 567,166.0 567,218.5 567.1,211.9 567.1,201.9 567.2,205.0 567.2,206.3 567.3,208.9 567.4,181.8 567.4,183.7 567.5,182.0 567.5,211.9 567.5,206.5 567.6,190.0 567.6,178.3 567.7,183.3 567.8,213.6 567.8,197.9 567.9,204.8 567.9,180.9 568,178.0 568,174.7 568,176.8 568.1,209.6 568.1,187.8 568.2,200.7 568.2,168.9 568.3,187.6 568.4,181.5 568.4,202.5 568.5,183.6 568.5,192.1 568.5,175.7 568.6,209.4 568.6,204.8 568.7,223.1 568.8,179.9 568.8,195.4 568.9,180.6 568.9,174.2 569,185.2 569,177.2 569,178.0 569.1,198.2 569.1,177.3 569.2,227.0 569.2,181.0 569.3,190.5 569.4,179.4 569.4,195.9 569.5,174.5 569.5,172.5 569.5,176.0 569.6,177.9 569.6,176.7 569.7,183.0 569.8,172.6 569.8,177.0 569.9,219.6 569.9,180.1 570,169.3 570,170.1 570,218.0 570.1,178.7 570.1,221.0 570.2,180.0 570.2,175.6 570.3,182.5 570.4,179.1 570.4,175.0 570.5,177.4 570.5,177.8 570.5,207.4 570.6,182.2 570.6,205.9 570.7,181.1 570.8,187.8 570.8,177.5 570.9,183.4 570.9,216.4 571,175.6 571,213.8 571,187.5 571.1,185.6 571.1,189.9 571.2,208.5 571.2,183.7 571.3,187.6 571.4,190.5 571.4,176.9 571.5,188.4 571.5,175.0 571.5,187.9 571.6,212.7 571.6,224.9 571.7,193.6 571.8,198.8 571.8,180.2 571.9,178.9 571.9,175.4 572,185.4 572,183.5 572,217.7 572.1,205.4 572.1,192.7 572.2,224.0 572.2,188.5 572.3,200.6 572.4,227.2 572.4,181.1 572.5,224.1 572.5,173.9 572.5,207.7 572.6,201.2 572.6,183.9 572.7,207.2 572.8,209.5 572.8,174.6 572.9,192.5 572.9,184.9 573,182.3 573,215.2 573,177.8 573.1,175.0 573.1,178.2 573.2,179.4 573.2,209.7 573.3,205.0 573.4,214.4 573.4,180.9 573.5,193.8 573.5,190.0 573.5,177.0 573.6,196.2 573.6,197.6 573.7,182.0 573.8,212.0 573.8,198.3 573.9,213.3 573.9,192.2 574,205.5 574,198.2 574,188.6 574.1,188.7 574.1,180.1 574.2,200.7 574.2,196.1 574.3,198.5 574.4,177.4 574.4,185.7 574.5,184.2 574.5,197.3 574.5,187.3 574.6,190.4 574.6,199.1 574.7,190.2 574.8,202.3 574.8,187.5 574.9,191.4 574.9,186.0 575,187.3 575,183.7 575,184.2 575.1,194.7 575.1,198.2 575.2,197.5 575.2,196.4 575.3,181.9 575.4,182.8 575.4,182.2 575.5,176.9 575.5,187.7 575.5,206.0 575.6,208.0 575.6,175.0 575.7,187.8 575.8,181.4 575.8,217.1 575.9,206.7 575.9,182.9 576,185.7 576,188.7 576,186.1 576.1,182.4 576.1,213.6 576.2,221.0 576.2,211.2 576.3,213.9 576.4,186.0 576.4,225.7 576.5,211.7 576.5,193.8 576.5,185.3 576.6,199.5 576.6,188.8 576.7,188.7 576.8,185.5 576.8,184.0 576.9,180.2 576.9,187.3 577,184.0 577,190.0 577,186.6 577.1,184.1 577.1,217.0 577.2,188.1 577.2,193.4 577.3,180.5 577.4,208.1 577.4,183.4 577.5,223.9 577.5,208.7 577.5,190.1 577.6,183.4 577.6,180.4 577.7,212.0 577.8,185.8 577.8,179.6 577.9,192.7 577.9,185.3 578,201.8 578,180.4 578,183.4 578.1,180.1 578.1,176.8 578.2,198.7 578.2,187.8 578.3,191.3 578.4,174.0 578.4,188.2 578.5,183.2 578.5,187.4 578.5,199.7 578.6,183.4 578.6,194.2 578.7,200.3 578.8,200.8 578.8,182.7 578.9,182.6 578.9,183.3 579,216.8 579,207.6 579,180.2 579.1,205.6 579.1,172.0 579.2,196.1 579.2,177.9 579.3,197.1 579.4,187.0 579.4,206.9 579.5,210.9 579.5,174.4 579.5,175.0 579.6,205.5 579.6,181.7 579.7,177.4 579.8,186.1 579.8,204.5 579.9,190.9 579.9,181.0 580,184.3 580,197.7 580,181.0 580.1,175.9 580.1,194.2 580.2,174.1 580.2,180.8 580.3,182.2 580.4,194.0 580.4,189.9 580.5,175.3 580.5,184.6 580.5,195.4 580.6,174.3 580.6,186.9 580.7,181.2 580.8,176.1 580.8,173.7 580.9,183.0 580.9,176.4 581,191.3 581,211.0 581,204.4 581.1,191.4 581.1,184.0 581.2,176.4 581.2,195.1 581.3,181.7 581.4,194.2 581.4,188.6 581.5,180.7 581.5,192.5 581.5,191.1 581.6,190.9 581.6,195.7 581.7,191.8 581.8,196.6 581.8,188.9 581.9,186.1 581.9,182.9 582,213.9 582,198.2 582,211.3 582.1,188.1 582.1,199.4 582.2,180.1 582.2,184.7 582.3,204.0 582.4,187.7 582.4,190.4 582.5,179.9 582.5,178.5 582.5,179.2 582.6,184.1 582.6,182.0 582.7,177.2 582.8,181.4 582.8,173.5 582.9,175.0 582.9,210.0 583,201.5 583,217.5 583,202.4 583.1,224.6 583.1,180.6 583.2,176.0 583.2,183.9 583.3,180.2 583.4,196.1 583.4,190.9 583.5,200.5 583.5,183.5 583.5,182.8 583.6,185.3 583.6,179.6 583.7,174.7 583.8,189.0" fill="none" stroke="#8c38e0" stroke-width="0.8"/><path d="M602.3 19.3 602.77 19.3 602.77 20.05 602.87 20.05 602.87 20.8 602.91 20.8 602.91 21.55 603.01 21.55 603.01 22.3 603.08 22.3 603.08 23.05 603.03 23.05 603.03 23.8 603.08 23.8 603.08 24.55 603.36 24.55 603.36 25.3 603.33 25.3 603.33 26.05 603.43 26.05 603.43 26.8 603.78 26.8 603.78 27.55 603.72 27.55 603.72 28.3 604.1 28.3 604.1 29.05 604.38 29.05 604.38 29.8 604.9 29.8 604.9 30.55 605 30.55 605 31.3 606.58 31.3 606.58 32.05 609.4 32.05 609.4 32.8 611.37 32.8 611.37 33.55 614.61 33.55 614.61 34.3 617.34 34.3 617.34 35.05 618.37 35.05 618.37 35.8 625.34 35.8 625.34 36.55 628.31 36.55 628.31 37.3 630.11 37.3 630.11 38.05 631.57 38.05 631.57 38.8 642.7 38.8 642.7 39.55 643.34 39.55 643.34 40.3 650.31 40.3 650.31 41.05 656.82 41.05 656.82 41.8 658.69 41.8 658.69 42.55 663.13 42.55 663.13 43.3 653.96 43.3 653.96 44.05 662.29 44.05 662.29 44.8 658.49 44.8 658.49 45.55 657.89 45.55 657.89 46.3 649.87 46.3 649.87 47.05 636.34 47.05 636.34 47.8 631.84 47.8 631.84 48.55 627.81 48.55 627.81 49.3 627.17 49.3 627.17 50.05 619.69 50.05 619.69 50.8 615.99 50.8 615.99 51.55 613.8 51.55 613.8 52.3 613.68 52.3 613.68 53.05 612.65 53.05 612.65 53.8 612.04 53.8 612.04 54.55 612.11 54.55 612.11 55.3 611.6 55.3 611.6 56.05 611.76 56.05 611.76 56.8 610.82 56.8 610.82 57.55 610.97 57.55 610.97 58.3 610.51 58.3 610.51 59.05 610.42 59.05 610.42 59.8 609.56 59.8 609.56 60.55 608.43 60.55 608.43 61.3 609.23 61.3 609.23 62.05 609.06 62.05 609.06 62.8 608.64 62.8 608.64 63.55 607.86 63.55 607.86 64.3 607.73 64.3 607.73 65.05 606.83 65.05 606.83 65.8 607.22 65.8 607.22 66.55 606.63 66.55 606.63 67.3 606.04 67.3 606.04 68.05 605.56 68.05 605.56 68.8 606.01 68.8 606.01 69.55 605.96 69.55 605.96 70.3 605.12 70.3 605.12 71.05 605.49 71.05 605.49 71.8 605.07 71.8 605.07 72.55 604.76 72.55 604.76 73.3 604.71 73.3 604.71 74.05 604.84 74.05 604.84 74.8 604.74 74.8 604.74 75.55 604.19 75.55 604.19 76.3 604.37 76.3 604.37 77.05 604 77.05 604 77.8 604.19 77.8 604.19 78.55 603.92 78.55 603.92 79.3 604.03 79.3 604.03 80.05 603.95 80.05 603.95 80.8 603.67 80.8 603.67 81.55 603.72 81.55 603.72 82.3 603.42 82.3 603.42 83.05 603.3 83.05 603.3 83.8 603.37 83.8 603.37 84.55 603.17 84.55 603.17 85.3 603.15 85.3 603.15 86.05 603.13 86.05 603.13 86.8 603.1 86.8 603.1 87.55 602.96 87.55 602.96 88.3 602.88 88.3 602.88 89.05 602.93 89.05 602.93 89.8 602.79 89.8 602.79 90.55 602.3 90Z" fill="#fb9488"/><path d="M602.3 137.8 602.82 137.8 602.82 138.55 603.1 138.55 603.1 139.3 603.37 139.3 603.37 140.05 603.69 140.05 603.69 140.8 603.87 140.8 603.87 141.55 604.22 141.55 604.22 142.3 603.97 142.3 603.97 143.05 604.47 143.05 604.47 143.8 605.32 143.8 605.32 144.55 607.17 144.55 607.17 145.3 609.75 145.3 609.75 146.05 609.94 146.05 609.94 146.8 612.84 146.8 612.84 147.55 614.09 147.55 614.09 148.3 617.55 148.3 617.55 149.05 620.01 149.05 620.01 149.8 618.61 149.8 618.61 150.55 620.7 150.55 620.7 151.3 622.02 151.3 622.02 152.05 627.19 152.05 627.19 152.8 627.28 152.8 627.28 153.55 624.65 153.55 624.65 154.3 631.62 154.3 631.62 155.05 628.11 155.05 628.11 155.8 632.5 155.8 632.5 156.55 626.99 156.55 626.99 157.3 624.78 157.3 624.78 158.05 630.22 158.05 630.22 158.8 624.1 158.8 624.1 159.55 623 159.55 623 160.3 626.79 160.3 626.79 161.05 624.7 161.05 624.7 161.8 619.99 161.8 619.99 162.55 622.36 162.55 622.36 163.3 618.85 163.3 618.85 164.05 618.2 164.05 618.2 164.8 615.02 164.8 615.02 165.55 617.68 165.55 617.68 166.3 616.27 166.3 616.27 167.05 616.95 167.05 616.95 167.8 616.26 167.8 616.26 168.55 613.68 168.55 613.68 169.3 613.56 169.3 613.56 170.05 612.67 170.05 612.67 170.8 612.43 170.8 612.43 171.55 611.99 171.55 611.99 172.3 612.59 172.3 612.59 173.05 613.38 173.05 613.38 173.8 611.28 173.8 611.28 174.55 613.21 174.55 613.21 175.3 611.97 175.3 611.97 176.05 611.7 176.05 611.7 176.8 613.01 176.8 613.01 177.55 611.83 177.55 611.83 178.3 611.18 178.3 611.18 179.05 611.45 179.05 611.45 179.8 611.86 179.8 611.86 180.55 609.94 180.55 609.94 181.3 612.19 181.3 612.19 182.05 609.62 182.05 609.62 182.8 611.36 182.8 611.36 183.55 611.47 183.55 611.47 184.3 609.31 184.3 609.31 185.05 611.61 185.05 611.61 185.8 610.88 185.8 610.88 186.55 611.82 186.55 611.82 187.3 610.54 187.3 610.54 188.05 610.97 188.05 610.97 188.8 611.71 188.8 611.71 189.55 614.55 189.55 614.55 190.3 612.45 190.3 612.45 191.05 614.73 191.05 614.73 191.8 615.77 191.8 615.77 192.55 616.25 192.55 616.25 193.3 614.4 193.3 614.4 194.05 614.3 194.05 614.3 194.8 614.16 194.8 614.16 195.55 614.22 195.55 614.22 196.3 611.34 196.3 611.34 197.05 612.48 197.05 612.48 197.8 611.79 197.8 611.79 198.55 611.34 198.55 611.34 199.3 609.21 199.3 609.21 200.05 611.26 200.05 611.26 200.8 609.12 200.8 609.12 201.55 609.59 201.55 609.59 202.3 610.07 202.3 610.07 203.05 610.62 203.05 610.62 203.8 609.22 203.8 609.22 204.55 610.35 204.55 610.35 205.3 609.41 205.3 609.41 206.05 609.12 206.05 609.12 206.8 609.37 206.8 609.37 207.55 609.29 207.55 609.29 208.3 609.28 208.3 609.28 209.05 609.68 209.05 609.68 209.8 611.29 209.8 611.29 210.55 612.37 210.55 612.37 211.3 610.41 211.3 610.41 212.05 610.32 212.05 610.32 212.8 613.83 212.8 613.83 213.55 613.7 213.55 613.7 214.3 614.47 214.3 614.47 215.05 614.97 215.05 614.97 215.8 618.09 215.8 618.09 216.55 621.02 216.55 621.02 217.3 620.8 217.3 620.8 218.05 618.93 218.05 618.93 218.8 614.49 218.8 614.49 219.55 614.86 219.55 614.86 220.3 609.6 220.3 609.6 221.05 608.11 221.05 608.11 221.8 606.01 221.8 606.01 222.55 604.43 222.55 604.43 223.3 603.81 223.3 603.81 224.05 602.3 224Z" fill="#a45cc0"/><line x1="289.0" y1="67.2" x2="583.8" y2="67.2" stroke="#2e2e2e" stroke-width="1.5" stroke-dasharray="8 8.3"/><line x1="289.0" y1="184.9" x2="583.8" y2="184.9" stroke="#2e2e2e" stroke-width="1.5" stroke-dasharray="8 8.3"/><line x1="602.3" y1="67.2" x2="675.8" y2="67.2" stroke="#2e2e2e" stroke-width="1.5" stroke-dasharray="8 8.3"/><line x1="602.3" y1="184.9" x2="675.8" y2="184.9" stroke="#2e2e2e" stroke-width="1.5" stroke-dasharray="8 8.3"/><rect x="289.0" y="10.6" width="294.8" height="103.2" fill="none" stroke="#2b2b2b" stroke-width="1.3"/><rect x="289.0" y="128.5" width="294.8" height="103.1" fill="none" stroke="#2b2b2b" stroke-width="1.3"/><rect x="602.3" y="10.6" width="73.5" height="103.2" fill="none" stroke="#2b2b2b" stroke-width="1.3"/><rect x="602.3" y="128.5" width="73.5" height="103.1" fill="none" stroke="#2b2b2b" stroke-width="1.3"/><text x="286.3" y="117.4" font-size="10.8" text-anchor="end">0</text><line x1="289.0" y1="95.4" x2="292.5" y2="95.4" stroke="#2b2b2b" stroke-width="1"/><text x="286.3" y="99.1" font-size="10.8" text-anchor="end">10</text><line x1="289.0" y1="77.2" x2="292.5" y2="77.2" stroke="#2b2b2b" stroke-width="1"/><text x="286.3" y="80.9" font-size="10.8" text-anchor="end">20</text><line x1="289.0" y1="58.9" x2="292.5" y2="58.9" stroke="#2b2b2b" stroke-width="1"/><text x="286.3" y="62.6" font-size="10.8" text-anchor="end">30</text><line x1="289.0" y1="40.7" x2="292.5" y2="40.7" stroke="#2b2b2b" stroke-width="1"/><text x="286.3" y="44.4" font-size="10.8" text-anchor="end">40</text><line x1="289.0" y1="22.4" x2="292.5" y2="22.4" stroke="#2b2b2b" stroke-width="1"/><text x="286.3" y="26.1" font-size="10.8" text-anchor="end">50</text><text x="286.3" y="235.0" font-size="10.8" text-anchor="end">0</text><line x1="289.0" y1="210.1" x2="292.5" y2="210.1" stroke="#2b2b2b" stroke-width="1"/><text x="286.3" y="213.8" font-size="10.8" text-anchor="end">10</text><line x1="289.0" y1="188.9" x2="292.5" y2="188.9" stroke="#2b2b2b" stroke-width="1"/><text x="286.3" y="192.6" font-size="10.8" text-anchor="end">20</text><line x1="289.0" y1="167.7" x2="292.5" y2="167.7" stroke="#2b2b2b" stroke-width="1"/><text x="286.3" y="171.4" font-size="10.8" text-anchor="end">30</text><line x1="289.0" y1="146.5" x2="292.5" y2="146.5" stroke="#2b2b2b" stroke-width="1"/><text x="286.3" y="150.2" font-size="10.8" text-anchor="end">40</text><line x1="387.3" y1="113.8" x2="387.3" y2="110.3" stroke="#2b2b2b" stroke-width="1"/><line x1="387.3" y1="231.6" x2="387.3" y2="228.1" stroke="#2b2b2b" stroke-width="1"/><line x1="485.5" y1="113.8" x2="485.5" y2="110.3" stroke="#2b2b2b" stroke-width="1"/><line x1="485.5" y1="231.6" x2="485.5" y2="228.1" stroke="#2b2b2b" stroke-width="1"/><text x="289.0" y="243.9" font-size="10.8" text-anchor="middle">0</text><text x="387.3" y="243.9" font-size="10.8" text-anchor="middle">20</text><text x="485.5" y="243.9" font-size="10.8" text-anchor="middle">40</text><text x="583.8" y="243.9" font-size="10.8" text-anchor="middle">60</text><line x1="639" y1="113.8" x2="639" y2="110.2" stroke="#2b2b2b" stroke-width="1.1"/><line x1="639" y1="231.6" x2="639" y2="228.0" stroke="#2b2b2b" stroke-width="1.1"/><text x="602.3" y="243.9" font-size="10.8" text-anchor="middle">0</text><text x="639" y="243.9" font-size="10.8" text-anchor="middle">60</text><text x="676.4" y="243.9" font-size="10.8" text-anchor="middle">120</text><text x="519.6" y="22.6" font-size="11" textLength="61.9" lengthAdjust="spacingAndGlyphs">QD in PEABr</text><text x="449.2" y="140.4" font-size="11" textLength="131.5" lengthAdjust="spacingAndGlyphs">QD in PEABr + NBABr (3:1)</text><text x="623.3" y="63.2" font-size="11" textLength="50.6" lengthAdjust="spacingAndGlyphs">96.4% ON</text><text x="623.5" y="181.6" font-size="11" textLength="50.0" lengthAdjust="spacingAndGlyphs">65.3% ON</text><text x="416.1" y="255.3" font-size="11" textLength="39.4" lengthAdjust="spacingAndGlyphs">Time (s)</text><text x="610.1" y="254.9" font-size="11" textLength="58.1" lengthAdjust="spacingAndGlyphs">Occurrence</text><text transform="translate(266.3 169.6) rotate(-90)" x="0" y="0" font-size="11" textLength="89" lengthAdjust="spacingAndGlyphs">Count Rate (kcps)</text></svg>
</body></html>
